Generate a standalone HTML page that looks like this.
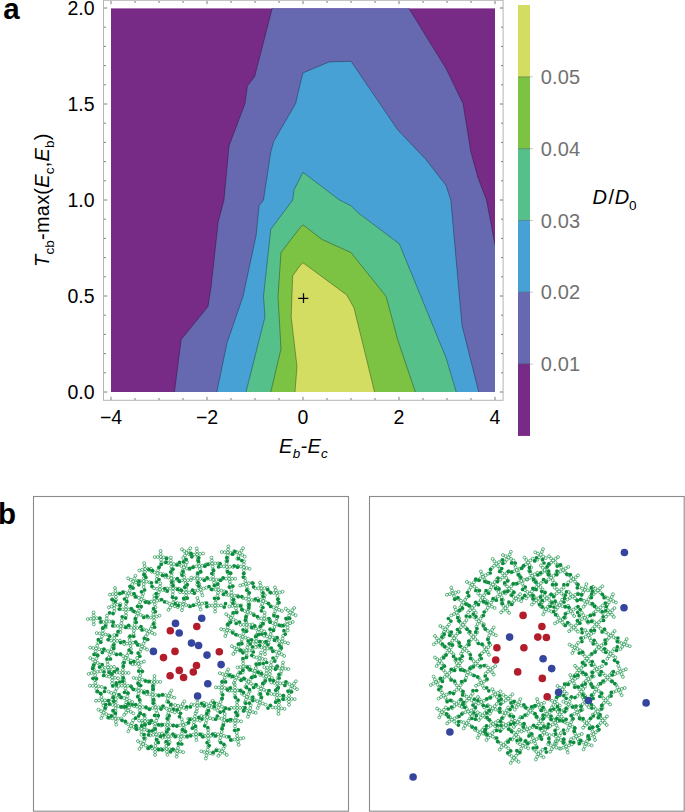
<!DOCTYPE html><html><head><meta charset="utf-8"><title>Figure</title><style>html,body{margin:0;padding:0;background:#fff}body{width:685px;height:812px;overflow:hidden;position:relative;font-family:"Liberation Sans",sans-serif}svg{position:absolute;left:0;top:0}text{font-family:"Liberation Sans",sans-serif}</style></head><body>
<svg width="685" height="812" viewBox="0 0 685 812">
<defs><clipPath id="pc"><rect x="111" y="8.2" width="384" height="383.8"/></clipPath></defs>
<g clip-path="url(#pc)">
<rect x="111" y="8.2" width="384" height="383.8" fill="#782a87"/>
<polygon points="272.8,6.0 407.4,6.0 446.0,68.6 463.0,103.6 470.8,151.8 478.0,178.0 486.5,200.0 495.0,245.3 497.0,246.0 497.0,394.0 174.2,394.0 181.2,339.6 208.0,306.6 211.0,287.6 218.2,221.9 224.0,200.0 229.0,146.0 245.0,103.6 246.0,96.4 247.4,86.0 254.7,76.5" fill="#6669b0" stroke="rgba(0,0,0,0.45)" stroke-width="0.7" stroke-linejoin="round"/>
<polygon points="216.4,394.0 227.0,343.0 243.0,296.4 256.2,235.0 259.1,205.8 263.5,200.0 270.8,151.8 273.7,141.6 295.6,103.6 300.0,84.7 302.9,73.0 329.2,61.9 351.0,61.3 397.8,130.0 425.5,159.0 446.0,185.4 450.8,200.0 462.0,325.5 479.2,394.0" fill="#47a1d5" stroke="rgba(0,0,0,0.45)" stroke-width="0.7" stroke-linejoin="round"/>
<polygon points="245.5,394.0 265.0,316.8 263.5,296.4 270.8,229.2 292.7,200.0 294.0,190.0 300.0,178.0 303.0,172.3 339.4,200.0 351.0,205.8 358.4,213.1 399.3,243.8 446.0,357.7 456.8,394.0" fill="#56c08b" stroke="rgba(0,0,0,0.45)" stroke-width="0.7" stroke-linejoin="round"/>
<polygon points="270.3,394.0 281.0,349.0 278.0,296.4 281.0,252.6 300.0,227.7 303.0,224.8 321.9,239.4 351.0,252.6 386.1,296.4 397.8,340.1 416.0,394.0" fill="#7cc243" stroke="rgba(0,0,0,0.45)" stroke-width="0.7" stroke-linejoin="round"/>
<polygon points="294.9,394.0 297.0,366.4 291.2,316.8 292.7,275.9 300.0,265.7 303.0,262.8 346.7,294.9 354.0,308.0 375.0,394.0" fill="#d3dd62" stroke="rgba(0,0,0,0.45)" stroke-width="0.7" stroke-linejoin="round"/>
</g>
<path d="M298.2,298.4H308.3M303.5,293.2V303" stroke="#000" stroke-width="1.25"/>
<rect x="103.5" y="0.3" width="399.6" height="400" fill="none" stroke="#b5b5b5" stroke-width="1"/>
<path d="M111.0,400v-3.2M111.0,1v3.2M135.0,400v-2.0M135.0,1v2.0M159.0,400v-2.0M159.0,1v2.0M183.0,400v-2.0M183.0,1v2.0M207.0,400v-3.2M207.0,1v3.2M231.0,400v-2.0M231.0,1v2.0M255.0,400v-2.0M255.0,1v2.0M279.0,400v-2.0M279.0,1v2.0M303.0,400v-3.2M303.0,1v3.2M327.0,400v-2.0M327.0,1v2.0M351.0,400v-2.0M351.0,1v2.0M375.0,400v-2.0M375.0,1v2.0M399.0,400v-3.2M399.0,1v3.2M423.0,400v-2.0M423.0,1v2.0M447.0,400v-2.0M447.0,1v2.0M471.0,400v-2.0M471.0,1v2.0M495.0,400v-3.2M495.0,1v3.2M104,392.0h3.2M503,392.0h-3.2M104,372.8h2.0M503,372.8h-2.0M104,353.6h2.0M503,353.6h-2.0M104,334.4h2.0M503,334.4h-2.0M104,315.2h2.0M503,315.2h-2.0M104,296.0h3.2M503,296.0h-3.2M104,276.8h2.0M503,276.8h-2.0M104,257.6h2.0M503,257.6h-2.0M104,238.4h2.0M503,238.4h-2.0M104,219.2h2.0M503,219.2h-2.0M104,200.0h3.2M503,200.0h-3.2M104,180.8h2.0M503,180.8h-2.0M104,161.6h2.0M503,161.6h-2.0M104,142.4h2.0M503,142.4h-2.0M104,123.2h2.0M503,123.2h-2.0M104,104.0h3.2M503,104.0h-3.2M104,84.8h2.0M503,84.8h-2.0M104,65.6h2.0M503,65.6h-2.0M104,46.4h2.0M503,46.4h-2.0M104,27.2h2.0M503,27.2h-2.0M104,8.0h3.2M503,8.0h-3.2" stroke="#707070" stroke-width="0.9" fill="none"/>
<text x="111.0" y="423.9" text-anchor="middle" font-size="19.5px" fill="#000">−4</text>
<text x="207.0" y="423.9" text-anchor="middle" font-size="19.5px" fill="#000">−2</text>
<text x="303.0" y="423.9" text-anchor="middle" font-size="19.5px" fill="#000">0</text>
<text x="399.0" y="423.9" text-anchor="middle" font-size="19.5px" fill="#000">2</text>
<text x="495.0" y="423.9" text-anchor="middle" font-size="19.5px" fill="#000">4</text>
<text x="94.5" y="399.0" text-anchor="end" font-size="19.5px" fill="#000">0.0</text>
<text x="94.5" y="303.0" text-anchor="end" font-size="19.5px" fill="#000">0.5</text>
<text x="94.5" y="207.0" text-anchor="end" font-size="19.5px" fill="#000">1.0</text>
<text x="94.5" y="111.0" text-anchor="end" font-size="19.5px" fill="#000">1.5</text>
<text x="94.5" y="15.0" text-anchor="end" font-size="19.5px" fill="#000">2.0</text>
<rect x="518" y="5.00" width="12" height="71.82" fill="#d3dd62"/>
<rect x="518" y="76.82" width="12" height="71.82" fill="#7cc243"/>
<rect x="518" y="148.64" width="12" height="71.82" fill="#56c08b"/>
<rect x="518" y="220.46" width="12" height="71.82" fill="#47a1d5"/>
<rect x="518" y="292.28" width="12" height="71.82" fill="#6669b0"/>
<rect x="518" y="364.10" width="12" height="71.82" fill="#782a87"/>
<path d="M518,76.82h12" stroke="rgba(0,0,0,0.35)" stroke-width="0.8"/>
<path d="M530,76.82h3" stroke="#bbb" stroke-width="0.8"/>
<path d="M518,148.64h12" stroke="rgba(0,0,0,0.35)" stroke-width="0.8"/>
<path d="M530,148.64h3" stroke="#bbb" stroke-width="0.8"/>
<path d="M518,220.46h12" stroke="rgba(0,0,0,0.35)" stroke-width="0.8"/>
<path d="M530,220.46h3" stroke="#bbb" stroke-width="0.8"/>
<path d="M518,292.28h12" stroke="rgba(0,0,0,0.35)" stroke-width="0.8"/>
<path d="M530,292.28h3" stroke="#bbb" stroke-width="0.8"/>
<path d="M518,364.10h12" stroke="rgba(0,0,0,0.35)" stroke-width="0.8"/>
<path d="M530,364.10h3" stroke="#bbb" stroke-width="0.8"/>
<text x="540.8" y="83.9" font-size="20px" fill="#717171" letter-spacing="0.15">0.05</text>
<text x="540.8" y="155.7" font-size="20px" fill="#717171" letter-spacing="0.15">0.04</text>
<text x="540.8" y="227.6" font-size="20px" fill="#717171" letter-spacing="0.15">0.03</text>
<text x="540.8" y="299.4" font-size="20px" fill="#717171" letter-spacing="0.15">0.02</text>
<text x="540.8" y="371.2" font-size="20px" fill="#717171" letter-spacing="0.15">0.01</text>
<text x="592.5" y="204" font-size="20px" fill="#000" font-style="italic">D<tspan dx="1.5" font-style="normal">/</tspan><tspan dx="0.8">D</tspan><tspan font-style="normal" font-size="13.5px" dx="-0.2" dy="6">0</tspan></text>
<text x="279" y="452.6" font-size="20px" fill="#000" font-style="italic">E<tspan font-size="13.5px" dy="5" dx="0.3">b</tspan><tspan dy="-5" dx="0.3">-</tspan><tspan dx="0.3">E</tspan><tspan font-size="13.5px" dy="5" dx="0.3">c</tspan></text>
<text transform="translate(48.6,267) rotate(-90)" font-size="20px" letter-spacing="0.2" fill="#000"><tspan font-style="italic">T</tspan><tspan font-size="13.5px" dy="5">cb</tspan><tspan dy="-5">-max(</tspan><tspan font-style="italic">E</tspan><tspan font-size="13.5px" dy="5">c</tspan><tspan dy="-5">,</tspan><tspan font-style="italic">E</tspan><tspan font-size="13.5px" dy="5">b</tspan><tspan dy="-5">)</tspan></text>
<text x="3.3" y="18.5" font-size="29.5px" font-weight="bold" fill="#000">a</text>
<text x="-2" y="524" font-size="29.5px" font-weight="bold" fill="#000">b</text>
<rect x="33.5" y="496.5" width="315" height="314.7" fill="none" stroke="#8a8a8a" stroke-width="1.1"/>
<rect x="369.5" y="496.5" width="314.7" height="314.7" fill="none" stroke="#8a8a8a" stroke-width="1.1"/>
<g fill="none" stroke="#0e8d3f" stroke-width="0.65"><circle cx="93.7" cy="618.4" r="1.45"/><circle cx="96.7" cy="618.2" r="1.45"/><circle cx="99.7" cy="618.0" r="1.45"/><circle cx="93.7" cy="621.4" r="1.45"/><circle cx="93.8" cy="624.4" r="1.45"/><circle cx="90.7" cy="618.7" r="1.45"/><circle cx="87.7" cy="619.1" r="1.45"/><circle cx="93.7" cy="615.4" r="1.45"/><circle cx="93.6" cy="612.4" r="1.45"/><circle cx="115.8" cy="593.9" r="1.45"/><circle cx="118.8" cy="593.5" r="1.45"/><circle cx="121.8" cy="593.1" r="1.45"/><circle cx="115.9" cy="596.9" r="1.45"/><circle cx="116.0" cy="599.9" r="1.45"/><circle cx="112.8" cy="594.2" r="1.45"/><circle cx="109.9" cy="594.6" r="1.45"/><circle cx="115.4" cy="590.9" r="1.45"/><circle cx="115.0" cy="588.0" r="1.45"/><circle cx="114.4" cy="605.3" r="1.45"/><circle cx="117.3" cy="604.7" r="1.45"/><circle cx="120.3" cy="604.0" r="1.45"/><circle cx="114.3" cy="608.3" r="1.45"/><circle cx="114.3" cy="611.3" r="1.45"/><circle cx="111.6" cy="606.4" r="1.45"/><circle cx="108.8" cy="607.4" r="1.45"/><circle cx="113.6" cy="602.4" r="1.45"/><circle cx="112.7" cy="599.6" r="1.45"/><circle cx="106.4" cy="621.6" r="1.45"/><circle cx="109.4" cy="621.5" r="1.45"/><circle cx="112.4" cy="621.4" r="1.45"/><circle cx="106.1" cy="624.5" r="1.45"/><circle cx="105.9" cy="627.5" r="1.45"/><circle cx="103.4" cy="621.9" r="1.45"/><circle cx="100.4" cy="622.3" r="1.45"/><circle cx="106.7" cy="618.6" r="1.45"/><circle cx="107.0" cy="615.6" r="1.45"/><circle cx="102.7" cy="633.7" r="1.45"/><circle cx="105.6" cy="634.4" r="1.45"/><circle cx="108.5" cy="635.1" r="1.45"/><circle cx="101.9" cy="636.6" r="1.45"/><circle cx="101.0" cy="639.5" r="1.45"/><circle cx="99.7" cy="633.4" r="1.45"/><circle cx="96.7" cy="633.1" r="1.45"/><circle cx="102.9" cy="630.7" r="1.45"/><circle cx="103.1" cy="627.7" r="1.45"/><circle cx="96.1" cy="648.4" r="1.45"/><circle cx="99.1" cy="649.2" r="1.45"/><circle cx="102.0" cy="649.9" r="1.45"/><circle cx="95.6" cy="651.4" r="1.45"/><circle cx="95.0" cy="654.3" r="1.45"/><circle cx="93.2" cy="648.0" r="1.45"/><circle cx="90.2" cy="647.6" r="1.45"/><circle cx="97.2" cy="645.6" r="1.45"/><circle cx="98.3" cy="642.8" r="1.45"/><circle cx="95.2" cy="661.3" r="1.45"/><circle cx="97.7" cy="663.0" r="1.45"/><circle cx="100.2" cy="664.7" r="1.45"/><circle cx="94.2" cy="664.1" r="1.45"/><circle cx="93.1" cy="666.9" r="1.45"/><circle cx="92.8" cy="659.6" r="1.45"/><circle cx="90.3" cy="658.0" r="1.45"/><circle cx="96.5" cy="658.6" r="1.45"/><circle cx="97.7" cy="655.8" r="1.45"/><circle cx="94.5" cy="672.3" r="1.45"/><circle cx="97.5" cy="671.8" r="1.45"/><circle cx="100.4" cy="671.3" r="1.45"/><circle cx="95.2" cy="675.2" r="1.45"/><circle cx="95.9" cy="678.1" r="1.45"/><circle cx="91.6" cy="673.1" r="1.45"/><circle cx="88.7" cy="673.9" r="1.45"/><circle cx="93.9" cy="669.3" r="1.45"/><circle cx="93.3" cy="666.4" r="1.45"/><circle cx="95.8" cy="685.8" r="1.45"/><circle cx="98.7" cy="686.3" r="1.45"/><circle cx="101.7" cy="686.9" r="1.45"/><circle cx="96.3" cy="688.7" r="1.45"/><circle cx="96.8" cy="691.7" r="1.45"/><circle cx="92.8" cy="685.8" r="1.45"/><circle cx="89.8" cy="685.7" r="1.45"/><circle cx="95.3" cy="682.8" r="1.45"/><circle cx="94.9" cy="679.8" r="1.45"/><circle cx="102.0" cy="699.9" r="1.45"/><circle cx="105.0" cy="700.3" r="1.45"/><circle cx="107.9" cy="700.7" r="1.45"/><circle cx="102.8" cy="702.8" r="1.45"/><circle cx="103.5" cy="705.7" r="1.45"/><circle cx="99.0" cy="700.4" r="1.45"/><circle cx="96.0" cy="700.8" r="1.45"/><circle cx="101.5" cy="697.0" r="1.45"/><circle cx="101.1" cy="694.0" r="1.45"/><circle cx="103.7" cy="712.6" r="1.45"/><circle cx="106.4" cy="714.1" r="1.45"/><circle cx="109.0" cy="715.6" r="1.45"/><circle cx="102.5" cy="715.4" r="1.45"/><circle cx="101.3" cy="718.2" r="1.45"/><circle cx="101.1" cy="711.2" r="1.45"/><circle cx="98.5" cy="709.7" r="1.45"/><circle cx="104.7" cy="709.8" r="1.45"/><circle cx="105.8" cy="707.0" r="1.45"/><circle cx="133.3" cy="581.3" r="1.45"/><circle cx="136.0" cy="582.5" r="1.45"/><circle cx="138.8" cy="583.6" r="1.45"/><circle cx="132.4" cy="584.2" r="1.45"/><circle cx="131.5" cy="587.0" r="1.45"/><circle cx="130.7" cy="579.8" r="1.45"/><circle cx="128.1" cy="578.3" r="1.45"/><circle cx="134.4" cy="578.5" r="1.45"/><circle cx="135.5" cy="575.8" r="1.45"/><circle cx="128.6" cy="593.3" r="1.45"/><circle cx="131.4" cy="594.2" r="1.45"/><circle cx="134.3" cy="595.1" r="1.45"/><circle cx="127.4" cy="596.1" r="1.45"/><circle cx="126.3" cy="598.8" r="1.45"/><circle cx="125.6" cy="592.9" r="1.45"/><circle cx="122.6" cy="592.6" r="1.45"/><circle cx="129.7" cy="590.5" r="1.45"/><circle cx="130.8" cy="587.7" r="1.45"/><circle cx="125.8" cy="609.5" r="1.45"/><circle cx="128.8" cy="609.4" r="1.45"/><circle cx="131.8" cy="609.3" r="1.45"/><circle cx="125.9" cy="612.5" r="1.45"/><circle cx="126.0" cy="615.5" r="1.45"/><circle cx="122.8" cy="609.3" r="1.45"/><circle cx="119.8" cy="609.2" r="1.45"/><circle cx="125.9" cy="606.5" r="1.45"/><circle cx="126.0" cy="603.5" r="1.45"/><circle cx="120.7" cy="626.2" r="1.45"/><circle cx="123.7" cy="626.4" r="1.45"/><circle cx="126.7" cy="626.6" r="1.45"/><circle cx="120.4" cy="629.2" r="1.45"/><circle cx="120.2" cy="632.2" r="1.45"/><circle cx="117.7" cy="626.0" r="1.45"/><circle cx="114.7" cy="625.9" r="1.45"/><circle cx="121.3" cy="623.2" r="1.45"/><circle cx="121.9" cy="620.3" r="1.45"/><circle cx="114.1" cy="641.1" r="1.45"/><circle cx="117.1" cy="640.9" r="1.45"/><circle cx="120.1" cy="640.6" r="1.45"/><circle cx="114.0" cy="644.1" r="1.45"/><circle cx="113.9" cy="647.1" r="1.45"/><circle cx="111.1" cy="640.5" r="1.45"/><circle cx="108.2" cy="639.9" r="1.45"/><circle cx="114.2" cy="638.1" r="1.45"/><circle cx="114.3" cy="635.1" r="1.45"/><circle cx="110.8" cy="651.9" r="1.45"/><circle cx="113.6" cy="653.1" r="1.45"/><circle cx="116.3" cy="654.2" r="1.45"/><circle cx="109.7" cy="654.7" r="1.45"/><circle cx="108.6" cy="657.5" r="1.45"/><circle cx="107.9" cy="651.1" r="1.45"/><circle cx="105.0" cy="650.4" r="1.45"/><circle cx="111.6" cy="649.0" r="1.45"/><circle cx="112.4" cy="646.1" r="1.45"/><circle cx="108.1" cy="667.4" r="1.45"/><circle cx="111.1" cy="667.1" r="1.45"/><circle cx="114.1" cy="666.9" r="1.45"/><circle cx="108.9" cy="670.2" r="1.45"/><circle cx="109.8" cy="673.1" r="1.45"/><circle cx="105.1" cy="667.8" r="1.45"/><circle cx="102.2" cy="668.2" r="1.45"/><circle cx="107.8" cy="664.4" r="1.45"/><circle cx="107.5" cy="661.4" r="1.45"/><circle cx="112.2" cy="677.4" r="1.45"/><circle cx="115.1" cy="677.8" r="1.45"/><circle cx="118.1" cy="678.3" r="1.45"/><circle cx="112.1" cy="680.4" r="1.45"/><circle cx="112.1" cy="683.4" r="1.45"/><circle cx="109.2" cy="676.7" r="1.45"/><circle cx="106.3" cy="676.0" r="1.45"/><circle cx="111.7" cy="674.4" r="1.45"/><circle cx="111.2" cy="671.4" r="1.45"/><circle cx="114.0" cy="694.0" r="1.45"/><circle cx="116.7" cy="695.3" r="1.45"/><circle cx="119.5" cy="696.6" r="1.45"/><circle cx="112.9" cy="696.8" r="1.45"/><circle cx="111.8" cy="699.6" r="1.45"/><circle cx="111.3" cy="692.9" r="1.45"/><circle cx="108.5" cy="691.7" r="1.45"/><circle cx="115.3" cy="691.3" r="1.45"/><circle cx="116.6" cy="688.6" r="1.45"/><circle cx="115.5" cy="705.2" r="1.45"/><circle cx="118.4" cy="706.1" r="1.45"/><circle cx="121.3" cy="706.9" r="1.45"/><circle cx="115.6" cy="708.2" r="1.45"/><circle cx="115.6" cy="711.2" r="1.45"/><circle cx="112.6" cy="704.8" r="1.45"/><circle cx="109.6" cy="704.4" r="1.45"/><circle cx="115.7" cy="702.2" r="1.45"/><circle cx="115.9" cy="699.2" r="1.45"/><circle cx="115.4" cy="718.7" r="1.45"/><circle cx="118.4" cy="718.6" r="1.45"/><circle cx="121.4" cy="718.4" r="1.45"/><circle cx="115.8" cy="721.7" r="1.45"/><circle cx="116.2" cy="724.7" r="1.45"/><circle cx="112.4" cy="718.3" r="1.45"/><circle cx="109.5" cy="718.0" r="1.45"/><circle cx="114.9" cy="715.8" r="1.45"/><circle cx="114.4" cy="712.8" r="1.45"/><circle cx="145.1" cy="569.0" r="1.45"/><circle cx="148.0" cy="568.9" r="1.45"/><circle cx="151.0" cy="568.7" r="1.45"/><circle cx="145.0" cy="572.0" r="1.45"/><circle cx="144.9" cy="575.0" r="1.45"/><circle cx="142.2" cy="569.8" r="1.45"/><circle cx="139.3" cy="570.6" r="1.45"/><circle cx="144.6" cy="566.1" r="1.45"/><circle cx="144.2" cy="563.1" r="1.45"/><circle cx="143.6" cy="581.1" r="1.45"/><circle cx="146.6" cy="581.7" r="1.45"/><circle cx="149.5" cy="582.3" r="1.45"/><circle cx="143.7" cy="584.1" r="1.45"/><circle cx="143.7" cy="587.1" r="1.45"/><circle cx="140.6" cy="581.0" r="1.45"/><circle cx="137.6" cy="580.9" r="1.45"/><circle cx="144.0" cy="578.2" r="1.45"/><circle cx="144.5" cy="575.2" r="1.45"/><circle cx="141.4" cy="599.3" r="1.45"/><circle cx="144.2" cy="600.6" r="1.45"/><circle cx="146.9" cy="601.8" r="1.45"/><circle cx="140.2" cy="602.0" r="1.45"/><circle cx="138.9" cy="604.8" r="1.45"/><circle cx="138.8" cy="597.9" r="1.45"/><circle cx="136.2" cy="596.4" r="1.45"/><circle cx="142.3" cy="596.4" r="1.45"/><circle cx="143.2" cy="593.6" r="1.45"/><circle cx="137.8" cy="613.4" r="1.45"/><circle cx="140.5" cy="614.8" r="1.45"/><circle cx="143.2" cy="616.1" r="1.45"/><circle cx="136.6" cy="616.2" r="1.45"/><circle cx="135.5" cy="619.0" r="1.45"/><circle cx="135.1" cy="612.1" r="1.45"/><circle cx="132.4" cy="610.7" r="1.45"/><circle cx="138.9" cy="610.7" r="1.45"/><circle cx="140.1" cy="607.9" r="1.45"/><circle cx="134.3" cy="627.9" r="1.45"/><circle cx="137.3" cy="628.0" r="1.45"/><circle cx="140.3" cy="628.1" r="1.45"/><circle cx="133.9" cy="630.9" r="1.45"/><circle cx="133.6" cy="633.9" r="1.45"/><circle cx="131.3" cy="627.7" r="1.45"/><circle cx="128.3" cy="627.5" r="1.45"/><circle cx="134.6" cy="624.9" r="1.45"/><circle cx="134.9" cy="621.9" r="1.45"/><circle cx="130.0" cy="643.1" r="1.45"/><circle cx="133.0" cy="642.7" r="1.45"/><circle cx="136.0" cy="642.4" r="1.45"/><circle cx="130.5" cy="646.0" r="1.45"/><circle cx="130.9" cy="649.0" r="1.45"/><circle cx="127.1" cy="643.6" r="1.45"/><circle cx="124.1" cy="644.1" r="1.45"/><circle cx="129.7" cy="640.1" r="1.45"/><circle cx="129.3" cy="637.1" r="1.45"/><circle cx="125.5" cy="657.9" r="1.45"/><circle cx="128.2" cy="659.2" r="1.45"/><circle cx="130.9" cy="660.5" r="1.45"/><circle cx="124.2" cy="660.6" r="1.45"/><circle cx="122.9" cy="663.3" r="1.45"/><circle cx="123.1" cy="656.1" r="1.45"/><circle cx="120.7" cy="654.4" r="1.45"/><circle cx="127.1" cy="655.4" r="1.45"/><circle cx="128.6" cy="652.8" r="1.45"/><circle cx="122.6" cy="672.9" r="1.45"/><circle cx="125.6" cy="672.9" r="1.45"/><circle cx="128.6" cy="672.9" r="1.45"/><circle cx="122.5" cy="675.9" r="1.45"/><circle cx="122.4" cy="678.9" r="1.45"/><circle cx="119.6" cy="672.7" r="1.45"/><circle cx="116.6" cy="672.5" r="1.45"/><circle cx="122.9" cy="669.9" r="1.45"/><circle cx="123.3" cy="666.9" r="1.45"/><circle cx="124.8" cy="685.5" r="1.45"/><circle cx="127.8" cy="685.7" r="1.45"/><circle cx="130.8" cy="685.9" r="1.45"/><circle cx="125.4" cy="688.5" r="1.45"/><circle cx="126.1" cy="691.4" r="1.45"/><circle cx="121.8" cy="685.7" r="1.45"/><circle cx="118.8" cy="685.9" r="1.45"/><circle cx="124.4" cy="682.6" r="1.45"/><circle cx="124.0" cy="679.6" r="1.45"/><circle cx="126.9" cy="699.3" r="1.45"/><circle cx="129.5" cy="700.6" r="1.45"/><circle cx="132.2" cy="702.0" r="1.45"/><circle cx="126.1" cy="702.2" r="1.45"/><circle cx="125.4" cy="705.1" r="1.45"/><circle cx="124.1" cy="698.1" r="1.45"/><circle cx="121.3" cy="697.0" r="1.45"/><circle cx="127.4" cy="696.3" r="1.45"/><circle cx="127.9" cy="693.3" r="1.45"/><circle cx="128.1" cy="710.4" r="1.45"/><circle cx="130.7" cy="711.8" r="1.45"/><circle cx="133.3" cy="713.3" r="1.45"/><circle cx="126.1" cy="712.6" r="1.45"/><circle cx="124.1" cy="714.9" r="1.45"/><circle cx="125.7" cy="708.6" r="1.45"/><circle cx="123.2" cy="706.9" r="1.45"/><circle cx="129.1" cy="707.5" r="1.45"/><circle cx="130.2" cy="704.7" r="1.45"/><circle cx="130.9" cy="725.9" r="1.45"/><circle cx="133.7" cy="727.0" r="1.45"/><circle cx="136.5" cy="728.2" r="1.45"/><circle cx="129.6" cy="728.6" r="1.45"/><circle cx="128.3" cy="731.3" r="1.45"/><circle cx="128.3" cy="724.4" r="1.45"/><circle cx="125.7" cy="722.9" r="1.45"/><circle cx="132.0" cy="723.1" r="1.45"/><circle cx="133.1" cy="720.3" r="1.45"/><circle cx="160.7" cy="556.9" r="1.45"/><circle cx="163.6" cy="557.3" r="1.45"/><circle cx="166.6" cy="557.8" r="1.45"/><circle cx="161.0" cy="559.8" r="1.45"/><circle cx="161.3" cy="562.8" r="1.45"/><circle cx="157.7" cy="557.0" r="1.45"/><circle cx="154.7" cy="557.2" r="1.45"/><circle cx="160.6" cy="553.9" r="1.45"/><circle cx="160.6" cy="550.9" r="1.45"/><circle cx="157.5" cy="573.2" r="1.45"/><circle cx="160.5" cy="573.7" r="1.45"/><circle cx="163.4" cy="574.1" r="1.45"/><circle cx="157.1" cy="576.2" r="1.45"/><circle cx="156.8" cy="579.2" r="1.45"/><circle cx="154.6" cy="572.4" r="1.45"/><circle cx="151.7" cy="571.6" r="1.45"/><circle cx="158.1" cy="570.3" r="1.45"/><circle cx="158.8" cy="567.4" r="1.45"/><circle cx="159.9" cy="589.4" r="1.45"/><circle cx="162.8" cy="590.0" r="1.45"/><circle cx="165.8" cy="590.7" r="1.45"/><circle cx="158.9" cy="592.2" r="1.45"/><circle cx="157.9" cy="595.1" r="1.45"/><circle cx="157.0" cy="588.8" r="1.45"/><circle cx="154.0" cy="588.3" r="1.45"/><circle cx="160.1" cy="586.4" r="1.45"/><circle cx="160.3" cy="583.4" r="1.45"/><circle cx="154.1" cy="601.5" r="1.45"/><circle cx="157.1" cy="600.8" r="1.45"/><circle cx="160.0" cy="600.1" r="1.45"/><circle cx="154.8" cy="604.4" r="1.45"/><circle cx="155.4" cy="607.4" r="1.45"/><circle cx="151.1" cy="601.6" r="1.45"/><circle cx="148.2" cy="601.8" r="1.45"/><circle cx="154.2" cy="598.5" r="1.45"/><circle cx="154.3" cy="595.5" r="1.45"/><circle cx="153.8" cy="617.4" r="1.45"/><circle cx="156.7" cy="616.5" r="1.45"/><circle cx="159.5" cy="615.6" r="1.45"/><circle cx="154.1" cy="620.4" r="1.45"/><circle cx="154.4" cy="623.4" r="1.45"/><circle cx="150.8" cy="617.5" r="1.45"/><circle cx="147.8" cy="617.5" r="1.45"/><circle cx="153.4" cy="614.5" r="1.45"/><circle cx="153.0" cy="611.5" r="1.45"/><circle cx="149.3" cy="631.5" r="1.45"/><circle cx="152.0" cy="632.8" r="1.45"/><circle cx="154.7" cy="634.1" r="1.45"/><circle cx="147.5" cy="633.9" r="1.45"/><circle cx="145.7" cy="636.4" r="1.45"/><circle cx="146.5" cy="630.4" r="1.45"/><circle cx="143.7" cy="629.3" r="1.45"/><circle cx="150.8" cy="628.9" r="1.45"/><circle cx="152.2" cy="626.3" r="1.45"/><circle cx="142.1" cy="646.3" r="1.45"/><circle cx="144.6" cy="647.9" r="1.45"/><circle cx="147.1" cy="649.6" r="1.45"/><circle cx="141.0" cy="649.1" r="1.45"/><circle cx="140.0" cy="651.9" r="1.45"/><circle cx="139.4" cy="644.9" r="1.45"/><circle cx="136.7" cy="643.5" r="1.45"/><circle cx="143.5" cy="643.6" r="1.45"/><circle cx="144.8" cy="641.0" r="1.45"/><circle cx="138.5" cy="663.7" r="1.45"/><circle cx="141.2" cy="662.6" r="1.45"/><circle cx="144.0" cy="661.5" r="1.45"/><circle cx="139.4" cy="666.6" r="1.45"/><circle cx="140.3" cy="669.4" r="1.45"/><circle cx="135.5" cy="664.0" r="1.45"/><circle cx="132.5" cy="664.2" r="1.45"/><circle cx="137.8" cy="660.8" r="1.45"/><circle cx="137.1" cy="657.9" r="1.45"/><circle cx="139.5" cy="678.8" r="1.45"/><circle cx="142.4" cy="679.7" r="1.45"/><circle cx="145.3" cy="680.5" r="1.45"/><circle cx="139.1" cy="681.8" r="1.45"/><circle cx="138.8" cy="684.8" r="1.45"/><circle cx="136.5" cy="678.4" r="1.45"/><circle cx="133.6" cy="677.9" r="1.45"/><circle cx="140.1" cy="675.9" r="1.45"/><circle cx="140.7" cy="672.9" r="1.45"/><circle cx="138.4" cy="690.7" r="1.45"/><circle cx="141.4" cy="690.9" r="1.45"/><circle cx="144.4" cy="691.1" r="1.45"/><circle cx="138.5" cy="693.7" r="1.45"/><circle cx="138.7" cy="696.7" r="1.45"/><circle cx="135.5" cy="689.8" r="1.45"/><circle cx="132.7" cy="689.0" r="1.45"/><circle cx="138.8" cy="687.7" r="1.45"/><circle cx="139.2" cy="684.7" r="1.45"/><circle cx="139.8" cy="707.3" r="1.45"/><circle cx="142.8" cy="707.1" r="1.45"/><circle cx="145.8" cy="706.9" r="1.45"/><circle cx="139.8" cy="710.3" r="1.45"/><circle cx="139.8" cy="713.3" r="1.45"/><circle cx="136.9" cy="706.7" r="1.45"/><circle cx="134.0" cy="706.0" r="1.45"/><circle cx="139.9" cy="704.3" r="1.45"/><circle cx="140.0" cy="701.3" r="1.45"/><circle cx="145.1" cy="721.2" r="1.45"/><circle cx="148.1" cy="721.2" r="1.45"/><circle cx="151.1" cy="721.3" r="1.45"/><circle cx="144.8" cy="724.1" r="1.45"/><circle cx="144.4" cy="727.1" r="1.45"/><circle cx="142.1" cy="720.9" r="1.45"/><circle cx="139.1" cy="720.6" r="1.45"/><circle cx="144.9" cy="718.2" r="1.45"/><circle cx="144.7" cy="715.2" r="1.45"/><circle cx="141.4" cy="728.8" r="1.45"/><circle cx="144.3" cy="729.5" r="1.45"/><circle cx="147.2" cy="730.2" r="1.45"/><circle cx="141.4" cy="731.8" r="1.45"/><circle cx="141.4" cy="734.8" r="1.45"/><circle cx="138.4" cy="728.5" r="1.45"/><circle cx="135.4" cy="728.1" r="1.45"/><circle cx="141.9" cy="725.9" r="1.45"/><circle cx="142.5" cy="722.9" r="1.45"/><circle cx="143.1" cy="744.1" r="1.45"/><circle cx="145.7" cy="745.5" r="1.45"/><circle cx="148.4" cy="746.9" r="1.45"/><circle cx="141.3" cy="746.5" r="1.45"/><circle cx="139.5" cy="748.9" r="1.45"/><circle cx="140.5" cy="742.6" r="1.45"/><circle cx="137.9" cy="741.1" r="1.45"/><circle cx="144.2" cy="741.3" r="1.45"/><circle cx="145.4" cy="738.5" r="1.45"/><circle cx="171.0" cy="563.6" r="1.45"/><circle cx="173.9" cy="564.0" r="1.45"/><circle cx="176.9" cy="564.3" r="1.45"/><circle cx="171.3" cy="566.6" r="1.45"/><circle cx="171.6" cy="569.6" r="1.45"/><circle cx="168.0" cy="563.0" r="1.45"/><circle cx="165.1" cy="562.4" r="1.45"/><circle cx="170.9" cy="560.6" r="1.45"/><circle cx="170.8" cy="557.6" r="1.45"/><circle cx="171.3" cy="578.4" r="1.45"/><circle cx="174.2" cy="579.0" r="1.45"/><circle cx="177.1" cy="579.7" r="1.45"/><circle cx="171.3" cy="581.4" r="1.45"/><circle cx="171.4" cy="584.4" r="1.45"/><circle cx="168.4" cy="577.7" r="1.45"/><circle cx="165.4" cy="577.0" r="1.45"/><circle cx="171.5" cy="575.4" r="1.45"/><circle cx="171.8" cy="572.4" r="1.45"/><circle cx="173.1" cy="588.5" r="1.45"/><circle cx="176.1" cy="588.6" r="1.45"/><circle cx="179.1" cy="588.7" r="1.45"/><circle cx="172.9" cy="591.5" r="1.45"/><circle cx="172.7" cy="594.5" r="1.45"/><circle cx="170.1" cy="588.5" r="1.45"/><circle cx="167.1" cy="588.5" r="1.45"/><circle cx="173.1" cy="585.5" r="1.45"/><circle cx="173.1" cy="582.5" r="1.45"/><circle cx="172.0" cy="605.1" r="1.45"/><circle cx="174.8" cy="606.2" r="1.45"/><circle cx="177.7" cy="607.2" r="1.45"/><circle cx="170.2" cy="607.5" r="1.45"/><circle cx="168.4" cy="609.9" r="1.45"/><circle cx="169.4" cy="603.7" r="1.45"/><circle cx="166.8" cy="602.2" r="1.45"/><circle cx="173.1" cy="602.4" r="1.45"/><circle cx="174.2" cy="599.6" r="1.45"/><circle cx="154.3" cy="682.0" r="1.45"/><circle cx="157.3" cy="681.9" r="1.45"/><circle cx="160.3" cy="681.8" r="1.45"/><circle cx="153.8" cy="685.0" r="1.45"/><circle cx="153.3" cy="687.9" r="1.45"/><circle cx="151.3" cy="681.9" r="1.45"/><circle cx="148.3" cy="681.7" r="1.45"/><circle cx="154.4" cy="679.0" r="1.45"/><circle cx="154.5" cy="676.0" r="1.45"/><circle cx="152.6" cy="694.7" r="1.45"/><circle cx="155.6" cy="695.0" r="1.45"/><circle cx="158.6" cy="695.2" r="1.45"/><circle cx="152.6" cy="697.7" r="1.45"/><circle cx="152.6" cy="700.7" r="1.45"/><circle cx="149.6" cy="694.4" r="1.45"/><circle cx="146.6" cy="694.1" r="1.45"/><circle cx="152.7" cy="691.7" r="1.45"/><circle cx="152.9" cy="688.7" r="1.45"/><circle cx="155.5" cy="707.4" r="1.45"/><circle cx="158.5" cy="707.3" r="1.45"/><circle cx="161.5" cy="707.2" r="1.45"/><circle cx="156.3" cy="710.3" r="1.45"/><circle cx="157.1" cy="713.2" r="1.45"/><circle cx="152.6" cy="708.0" r="1.45"/><circle cx="149.6" cy="708.6" r="1.45"/><circle cx="154.7" cy="704.5" r="1.45"/><circle cx="153.9" cy="701.6" r="1.45"/><circle cx="155.1" cy="723.6" r="1.45"/><circle cx="158.0" cy="724.6" r="1.45"/><circle cx="160.8" cy="725.6" r="1.45"/><circle cx="154.6" cy="726.6" r="1.45"/><circle cx="154.0" cy="729.5" r="1.45"/><circle cx="152.4" cy="722.4" r="1.45"/><circle cx="149.7" cy="721.2" r="1.45"/><circle cx="156.2" cy="720.8" r="1.45"/><circle cx="157.3" cy="718.0" r="1.45"/><circle cx="156.2" cy="734.4" r="1.45"/><circle cx="159.2" cy="733.9" r="1.45"/><circle cx="162.1" cy="733.5" r="1.45"/><circle cx="156.9" cy="737.3" r="1.45"/><circle cx="157.5" cy="740.2" r="1.45"/><circle cx="153.2" cy="734.9" r="1.45"/><circle cx="150.3" cy="735.3" r="1.45"/><circle cx="155.4" cy="731.5" r="1.45"/><circle cx="154.6" cy="728.6" r="1.45"/><circle cx="155.0" cy="749.0" r="1.45"/><circle cx="158.0" cy="749.0" r="1.45"/><circle cx="161.0" cy="749.0" r="1.45"/><circle cx="155.1" cy="752.0" r="1.45"/><circle cx="155.1" cy="755.0" r="1.45"/><circle cx="152.1" cy="748.4" r="1.45"/><circle cx="149.1" cy="747.8" r="1.45"/><circle cx="155.4" cy="746.0" r="1.45"/><circle cx="155.7" cy="743.0" r="1.45"/><circle cx="186.6" cy="553.0" r="1.45"/><circle cx="189.2" cy="554.3" r="1.45"/><circle cx="191.9" cy="555.6" r="1.45"/><circle cx="184.9" cy="555.5" r="1.45"/><circle cx="183.3" cy="558.0" r="1.45"/><circle cx="184.2" cy="551.1" r="1.45"/><circle cx="181.9" cy="549.3" r="1.45"/><circle cx="188.5" cy="550.7" r="1.45"/><circle cx="190.3" cy="548.3" r="1.45"/><circle cx="183.9" cy="567.4" r="1.45"/><circle cx="186.8" cy="568.4" r="1.45"/><circle cx="189.6" cy="569.3" r="1.45"/><circle cx="182.7" cy="570.2" r="1.45"/><circle cx="181.5" cy="572.9" r="1.45"/><circle cx="181.3" cy="566.0" r="1.45"/><circle cx="178.7" cy="564.5" r="1.45"/><circle cx="185.5" cy="564.9" r="1.45"/><circle cx="187.0" cy="562.3" r="1.45"/><circle cx="184.9" cy="580.3" r="1.45"/><circle cx="187.9" cy="580.2" r="1.45"/><circle cx="190.9" cy="580.1" r="1.45"/><circle cx="185.5" cy="583.2" r="1.45"/><circle cx="186.1" cy="586.2" r="1.45"/><circle cx="181.9" cy="580.5" r="1.45"/><circle cx="179.0" cy="580.8" r="1.45"/><circle cx="184.3" cy="577.3" r="1.45"/><circle cx="183.7" cy="574.4" r="1.45"/><circle cx="186.1" cy="592.3" r="1.45"/><circle cx="189.1" cy="592.4" r="1.45"/><circle cx="192.1" cy="592.5" r="1.45"/><circle cx="186.1" cy="595.3" r="1.45"/><circle cx="186.1" cy="598.3" r="1.45"/><circle cx="183.1" cy="592.2" r="1.45"/><circle cx="180.1" cy="592.1" r="1.45"/><circle cx="186.2" cy="589.3" r="1.45"/><circle cx="186.3" cy="586.3" r="1.45"/><circle cx="183.1" cy="604.3" r="1.45"/><circle cx="186.0" cy="605.0" r="1.45"/><circle cx="188.9" cy="605.7" r="1.45"/><circle cx="182.5" cy="607.2" r="1.45"/><circle cx="181.9" cy="610.2" r="1.45"/><circle cx="180.2" cy="603.6" r="1.45"/><circle cx="177.3" cy="602.9" r="1.45"/><circle cx="184.0" cy="601.5" r="1.45"/><circle cx="185.0" cy="598.6" r="1.45"/><circle cx="168.6" cy="695.7" r="1.45"/><circle cx="171.4" cy="696.7" r="1.45"/><circle cx="174.3" cy="697.7" r="1.45"/><circle cx="167.8" cy="698.6" r="1.45"/><circle cx="167.0" cy="701.5" r="1.45"/><circle cx="165.6" cy="695.2" r="1.45"/><circle cx="162.7" cy="694.6" r="1.45"/><circle cx="170.0" cy="693.1" r="1.45"/><circle cx="171.5" cy="690.5" r="1.45"/><circle cx="169.4" cy="709.9" r="1.45"/><circle cx="172.1" cy="711.1" r="1.45"/><circle cx="174.8" cy="712.4" r="1.45"/><circle cx="168.4" cy="712.7" r="1.45"/><circle cx="167.4" cy="715.6" r="1.45"/><circle cx="166.6" cy="708.7" r="1.45"/><circle cx="163.9" cy="707.4" r="1.45"/><circle cx="170.5" cy="707.2" r="1.45"/><circle cx="171.7" cy="704.4" r="1.45"/><circle cx="167.5" cy="725.1" r="1.45"/><circle cx="170.5" cy="725.1" r="1.45"/><circle cx="173.5" cy="725.2" r="1.45"/><circle cx="167.0" cy="728.0" r="1.45"/><circle cx="166.5" cy="731.0" r="1.45"/><circle cx="164.6" cy="724.7" r="1.45"/><circle cx="161.6" cy="724.4" r="1.45"/><circle cx="168.0" cy="722.1" r="1.45"/><circle cx="168.5" cy="719.1" r="1.45"/><circle cx="168.3" cy="736.4" r="1.45"/><circle cx="171.3" cy="736.0" r="1.45"/><circle cx="174.2" cy="735.6" r="1.45"/><circle cx="168.9" cy="739.3" r="1.45"/><circle cx="169.6" cy="742.3" r="1.45"/><circle cx="165.4" cy="737.0" r="1.45"/><circle cx="162.4" cy="737.7" r="1.45"/><circle cx="167.7" cy="733.5" r="1.45"/><circle cx="167.2" cy="730.5" r="1.45"/><circle cx="166.6" cy="748.9" r="1.45"/><circle cx="169.6" cy="749.1" r="1.45"/><circle cx="172.6" cy="749.3" r="1.45"/><circle cx="167.0" cy="751.9" r="1.45"/><circle cx="167.4" cy="754.8" r="1.45"/><circle cx="163.7" cy="749.1" r="1.45"/><circle cx="160.7" cy="749.3" r="1.45"/><circle cx="166.3" cy="745.9" r="1.45"/><circle cx="166.0" cy="742.9" r="1.45"/><circle cx="197.1" cy="554.4" r="1.45"/><circle cx="200.1" cy="553.9" r="1.45"/><circle cx="203.1" cy="553.5" r="1.45"/><circle cx="197.6" cy="557.3" r="1.45"/><circle cx="198.0" cy="560.3" r="1.45"/><circle cx="194.1" cy="554.6" r="1.45"/><circle cx="191.2" cy="554.8" r="1.45"/><circle cx="197.0" cy="551.4" r="1.45"/><circle cx="196.8" cy="548.4" r="1.45"/><circle cx="199.3" cy="566.1" r="1.45"/><circle cx="202.2" cy="565.7" r="1.45"/><circle cx="205.2" cy="565.2" r="1.45"/><circle cx="199.9" cy="569.0" r="1.45"/><circle cx="200.5" cy="572.0" r="1.45"/><circle cx="196.3" cy="566.4" r="1.45"/><circle cx="193.3" cy="566.6" r="1.45"/><circle cx="198.6" cy="563.2" r="1.45"/><circle cx="197.9" cy="560.3" r="1.45"/><circle cx="197.3" cy="578.6" r="1.45"/><circle cx="200.3" cy="578.9" r="1.45"/><circle cx="203.2" cy="579.1" r="1.45"/><circle cx="197.2" cy="581.6" r="1.45"/><circle cx="197.1" cy="584.6" r="1.45"/><circle cx="194.3" cy="578.2" r="1.45"/><circle cx="191.3" cy="577.7" r="1.45"/><circle cx="197.4" cy="575.7" r="1.45"/><circle cx="197.6" cy="572.7" r="1.45"/><circle cx="200.7" cy="589.6" r="1.45"/><circle cx="203.6" cy="588.6" r="1.45"/><circle cx="206.4" cy="587.7" r="1.45"/><circle cx="201.5" cy="592.5" r="1.45"/><circle cx="202.4" cy="595.4" r="1.45"/><circle cx="197.8" cy="590.3" r="1.45"/><circle cx="194.9" cy="591.0" r="1.45"/><circle cx="199.9" cy="586.7" r="1.45"/><circle cx="199.1" cy="583.8" r="1.45"/><circle cx="198.9" cy="603.8" r="1.45"/><circle cx="201.9" cy="603.5" r="1.45"/><circle cx="204.9" cy="603.2" r="1.45"/><circle cx="199.8" cy="606.6" r="1.45"/><circle cx="200.7" cy="609.5" r="1.45"/><circle cx="196.0" cy="604.5" r="1.45"/><circle cx="193.1" cy="605.2" r="1.45"/><circle cx="198.2" cy="600.9" r="1.45"/><circle cx="197.4" cy="598.0" r="1.45"/><circle cx="181.0" cy="706.5" r="1.45"/><circle cx="183.7" cy="707.8" r="1.45"/><circle cx="186.4" cy="709.0" r="1.45"/><circle cx="179.7" cy="709.1" r="1.45"/><circle cx="178.3" cy="711.8" r="1.45"/><circle cx="178.1" cy="705.8" r="1.45"/><circle cx="175.2" cy="705.1" r="1.45"/><circle cx="182.7" cy="704.0" r="1.45"/><circle cx="184.4" cy="701.5" r="1.45"/><circle cx="183.3" cy="725.0" r="1.45"/><circle cx="186.1" cy="723.9" r="1.45"/><circle cx="188.8" cy="722.7" r="1.45"/><circle cx="184.0" cy="728.0" r="1.45"/><circle cx="184.7" cy="730.9" r="1.45"/><circle cx="180.3" cy="725.3" r="1.45"/><circle cx="177.3" cy="725.6" r="1.45"/><circle cx="182.5" cy="722.2" r="1.45"/><circle cx="181.7" cy="719.3" r="1.45"/><circle cx="181.3" cy="736.6" r="1.45"/><circle cx="184.3" cy="736.8" r="1.45"/><circle cx="187.3" cy="737.1" r="1.45"/><circle cx="180.6" cy="739.5" r="1.45"/><circle cx="179.8" cy="742.3" r="1.45"/><circle cx="178.4" cy="736.0" r="1.45"/><circle cx="175.5" cy="735.4" r="1.45"/><circle cx="181.8" cy="733.6" r="1.45"/><circle cx="182.3" cy="730.6" r="1.45"/><circle cx="177.3" cy="750.8" r="1.45"/><circle cx="180.2" cy="751.5" r="1.45"/><circle cx="183.2" cy="752.2" r="1.45"/><circle cx="177.0" cy="753.7" r="1.45"/><circle cx="176.6" cy="756.7" r="1.45"/><circle cx="174.3" cy="750.5" r="1.45"/><circle cx="171.4" cy="750.1" r="1.45"/><circle cx="178.0" cy="747.9" r="1.45"/><circle cx="178.8" cy="744.9" r="1.45"/><circle cx="212.3" cy="563.6" r="1.45"/><circle cx="215.3" cy="563.4" r="1.45"/><circle cx="218.3" cy="563.3" r="1.45"/><circle cx="212.6" cy="566.5" r="1.45"/><circle cx="213.0" cy="569.5" r="1.45"/><circle cx="209.3" cy="563.9" r="1.45"/><circle cx="206.4" cy="564.3" r="1.45"/><circle cx="211.9" cy="560.6" r="1.45"/><circle cx="211.5" cy="557.6" r="1.45"/><circle cx="213.4" cy="579.7" r="1.45"/><circle cx="216.4" cy="579.8" r="1.45"/><circle cx="219.4" cy="579.9" r="1.45"/><circle cx="214.0" cy="582.7" r="1.45"/><circle cx="214.6" cy="585.6" r="1.45"/><circle cx="210.5" cy="579.3" r="1.45"/><circle cx="207.5" cy="578.8" r="1.45"/><circle cx="213.2" cy="576.7" r="1.45"/><circle cx="213.0" cy="573.7" r="1.45"/><circle cx="218.5" cy="589.8" r="1.45"/><circle cx="221.4" cy="590.6" r="1.45"/><circle cx="224.3" cy="591.3" r="1.45"/><circle cx="218.0" cy="592.8" r="1.45"/><circle cx="217.5" cy="595.7" r="1.45"/><circle cx="215.5" cy="589.6" r="1.45"/><circle cx="212.5" cy="589.5" r="1.45"/><circle cx="218.1" cy="586.8" r="1.45"/><circle cx="217.8" cy="583.8" r="1.45"/><circle cx="215.2" cy="605.6" r="1.45"/><circle cx="218.1" cy="605.5" r="1.45"/><circle cx="221.1" cy="605.4" r="1.45"/><circle cx="215.1" cy="608.6" r="1.45"/><circle cx="215.1" cy="611.6" r="1.45"/><circle cx="212.2" cy="605.6" r="1.45"/><circle cx="209.2" cy="605.7" r="1.45"/><circle cx="215.5" cy="602.6" r="1.45"/><circle cx="215.9" cy="599.6" r="1.45"/><circle cx="197.3" cy="705.6" r="1.45"/><circle cx="200.3" cy="705.5" r="1.45"/><circle cx="203.3" cy="705.4" r="1.45"/><circle cx="197.0" cy="708.6" r="1.45"/><circle cx="196.6" cy="711.5" r="1.45"/><circle cx="194.3" cy="705.0" r="1.45"/><circle cx="191.4" cy="704.5" r="1.45"/><circle cx="197.3" cy="702.6" r="1.45"/><circle cx="197.3" cy="699.6" r="1.45"/><circle cx="194.3" cy="719.2" r="1.45"/><circle cx="197.2" cy="719.9" r="1.45"/><circle cx="200.1" cy="720.6" r="1.45"/><circle cx="194.0" cy="722.2" r="1.45"/><circle cx="193.7" cy="725.1" r="1.45"/><circle cx="191.3" cy="719.0" r="1.45"/><circle cx="188.3" cy="718.9" r="1.45"/><circle cx="194.9" cy="716.2" r="1.45"/><circle cx="195.5" cy="713.3" r="1.45"/><circle cx="196.1" cy="734.2" r="1.45"/><circle cx="199.1" cy="734.3" r="1.45"/><circle cx="202.1" cy="734.4" r="1.45"/><circle cx="196.2" cy="737.2" r="1.45"/><circle cx="196.4" cy="740.2" r="1.45"/><circle cx="193.2" cy="734.6" r="1.45"/><circle cx="190.2" cy="735.0" r="1.45"/><circle cx="195.9" cy="731.2" r="1.45"/><circle cx="195.7" cy="728.2" r="1.45"/><circle cx="227.8" cy="552.4" r="1.45"/><circle cx="230.7" cy="553.0" r="1.45"/><circle cx="233.7" cy="553.5" r="1.45"/><circle cx="227.7" cy="555.4" r="1.45"/><circle cx="227.6" cy="558.4" r="1.45"/><circle cx="224.8" cy="552.2" r="1.45"/><circle cx="221.8" cy="552.0" r="1.45"/><circle cx="228.1" cy="549.4" r="1.45"/><circle cx="228.4" cy="546.4" r="1.45"/><circle cx="226.8" cy="566.8" r="1.45"/><circle cx="229.8" cy="566.8" r="1.45"/><circle cx="232.8" cy="566.9" r="1.45"/><circle cx="227.2" cy="569.8" r="1.45"/><circle cx="227.7" cy="572.7" r="1.45"/><circle cx="223.8" cy="566.5" r="1.45"/><circle cx="220.9" cy="566.2" r="1.45"/><circle cx="226.6" cy="563.8" r="1.45"/><circle cx="226.4" cy="560.8" r="1.45"/><circle cx="229.2" cy="578.8" r="1.45"/><circle cx="232.2" cy="578.8" r="1.45"/><circle cx="235.2" cy="578.7" r="1.45"/><circle cx="229.8" cy="581.8" r="1.45"/><circle cx="230.3" cy="584.7" r="1.45"/><circle cx="226.2" cy="578.7" r="1.45"/><circle cx="223.2" cy="578.6" r="1.45"/><circle cx="229.1" cy="575.8" r="1.45"/><circle cx="229.0" cy="572.8" r="1.45"/><circle cx="231.6" cy="595.6" r="1.45"/><circle cx="234.6" cy="595.6" r="1.45"/><circle cx="237.6" cy="595.6" r="1.45"/><circle cx="231.8" cy="598.6" r="1.45"/><circle cx="231.9" cy="601.6" r="1.45"/><circle cx="228.6" cy="595.1" r="1.45"/><circle cx="225.7" cy="594.6" r="1.45"/><circle cx="231.5" cy="592.6" r="1.45"/><circle cx="231.4" cy="589.6" r="1.45"/><circle cx="235.3" cy="605.4" r="1.45"/><circle cx="238.3" cy="605.4" r="1.45"/><circle cx="241.3" cy="605.4" r="1.45"/><circle cx="235.9" cy="608.3" r="1.45"/><circle cx="236.6" cy="611.3" r="1.45"/><circle cx="232.3" cy="606.0" r="1.45"/><circle cx="229.4" cy="606.5" r="1.45"/><circle cx="234.4" cy="602.6" r="1.45"/><circle cx="233.5" cy="599.7" r="1.45"/><circle cx="230.9" cy="617.9" r="1.45"/><circle cx="233.4" cy="619.5" r="1.45"/><circle cx="236.0" cy="621.1" r="1.45"/><circle cx="229.8" cy="620.7" r="1.45"/><circle cx="228.7" cy="623.5" r="1.45"/><circle cx="228.6" cy="616.1" r="1.45"/><circle cx="226.2" cy="614.2" r="1.45"/><circle cx="232.5" cy="615.4" r="1.45"/><circle cx="234.1" cy="612.8" r="1.45"/><circle cx="227.0" cy="630.3" r="1.45"/><circle cx="229.9" cy="630.8" r="1.45"/><circle cx="232.9" cy="631.3" r="1.45"/><circle cx="226.2" cy="633.2" r="1.45"/><circle cx="225.3" cy="636.1" r="1.45"/><circle cx="224.0" cy="629.7" r="1.45"/><circle cx="221.1" cy="629.1" r="1.45"/><circle cx="227.8" cy="627.5" r="1.45"/><circle cx="228.7" cy="624.6" r="1.45"/><circle cx="209.2" cy="705.7" r="1.45"/><circle cx="211.8" cy="707.2" r="1.45"/><circle cx="214.4" cy="708.6" r="1.45"/><circle cx="208.1" cy="708.5" r="1.45"/><circle cx="207.0" cy="711.2" r="1.45"/><circle cx="206.6" cy="704.2" r="1.45"/><circle cx="204.0" cy="702.8" r="1.45"/><circle cx="210.9" cy="703.2" r="1.45"/><circle cx="212.7" cy="700.8" r="1.45"/><circle cx="207.3" cy="717.3" r="1.45"/><circle cx="210.1" cy="718.2" r="1.45"/><circle cx="213.0" cy="719.0" r="1.45"/><circle cx="206.5" cy="720.2" r="1.45"/><circle cx="205.8" cy="723.1" r="1.45"/><circle cx="204.3" cy="716.6" r="1.45"/><circle cx="201.4" cy="716.0" r="1.45"/><circle cx="208.0" cy="714.4" r="1.45"/><circle cx="208.7" cy="711.5" r="1.45"/><circle cx="208.0" cy="735.7" r="1.45"/><circle cx="211.0" cy="735.8" r="1.45"/><circle cx="214.0" cy="735.8" r="1.45"/><circle cx="208.3" cy="738.7" r="1.45"/><circle cx="208.7" cy="741.7" r="1.45"/><circle cx="205.0" cy="736.0" r="1.45"/><circle cx="202.0" cy="736.2" r="1.45"/><circle cx="208.1" cy="732.7" r="1.45"/><circle cx="208.2" cy="729.7" r="1.45"/><circle cx="207.1" cy="752.6" r="1.45"/><circle cx="210.1" cy="753.2" r="1.45"/><circle cx="213.0" cy="753.8" r="1.45"/><circle cx="206.5" cy="755.5" r="1.45"/><circle cx="205.8" cy="758.5" r="1.45"/><circle cx="204.2" cy="752.0" r="1.45"/><circle cx="201.3" cy="751.3" r="1.45"/><circle cx="207.7" cy="749.7" r="1.45"/><circle cx="208.2" cy="746.7" r="1.45"/><circle cx="239.8" cy="553.2" r="1.45"/><circle cx="242.3" cy="555.0" r="1.45"/><circle cx="244.7" cy="556.7" r="1.45"/><circle cx="238.5" cy="556.0" r="1.45"/><circle cx="237.3" cy="558.7" r="1.45"/><circle cx="237.0" cy="552.2" r="1.45"/><circle cx="234.2" cy="551.1" r="1.45"/><circle cx="241.4" cy="550.7" r="1.45"/><circle cx="243.1" cy="548.2" r="1.45"/><circle cx="243.8" cy="567.3" r="1.45"/><circle cx="246.7" cy="568.0" r="1.45"/><circle cx="249.6" cy="568.8" r="1.45"/><circle cx="243.8" cy="570.3" r="1.45"/><circle cx="243.8" cy="573.3" r="1.45"/><circle cx="240.8" cy="566.6" r="1.45"/><circle cx="237.9" cy="565.9" r="1.45"/><circle cx="243.9" cy="564.3" r="1.45"/><circle cx="244.0" cy="561.3" r="1.45"/><circle cx="245.8" cy="583.8" r="1.45"/><circle cx="248.8" cy="583.3" r="1.45"/><circle cx="251.8" cy="582.9" r="1.45"/><circle cx="246.8" cy="586.7" r="1.45"/><circle cx="247.7" cy="589.5" r="1.45"/><circle cx="243.0" cy="584.7" r="1.45"/><circle cx="240.1" cy="585.5" r="1.45"/><circle cx="245.4" cy="580.9" r="1.45"/><circle cx="244.9" cy="577.9" r="1.45"/><circle cx="248.8" cy="599.4" r="1.45"/><circle cx="251.7" cy="599.9" r="1.45"/><circle cx="254.7" cy="600.4" r="1.45"/><circle cx="248.5" cy="602.4" r="1.45"/><circle cx="248.2" cy="605.4" r="1.45"/><circle cx="245.9" cy="598.7" r="1.45"/><circle cx="242.9" cy="598.0" r="1.45"/><circle cx="248.6" cy="596.4" r="1.45"/><circle cx="248.5" cy="593.4" r="1.45"/><circle cx="247.7" cy="612.1" r="1.45"/><circle cx="250.5" cy="613.0" r="1.45"/><circle cx="253.4" cy="613.9" r="1.45"/><circle cx="246.7" cy="615.0" r="1.45"/><circle cx="245.8" cy="617.8" r="1.45"/><circle cx="244.8" cy="611.1" r="1.45"/><circle cx="242.0" cy="610.1" r="1.45"/><circle cx="248.4" cy="609.2" r="1.45"/><circle cx="249.2" cy="606.3" r="1.45"/><circle cx="246.6" cy="624.8" r="1.45"/><circle cx="249.6" cy="624.6" r="1.45"/><circle cx="252.6" cy="624.4" r="1.45"/><circle cx="246.7" cy="627.8" r="1.45"/><circle cx="246.7" cy="630.8" r="1.45"/><circle cx="243.6" cy="624.8" r="1.45"/><circle cx="240.6" cy="624.9" r="1.45"/><circle cx="246.2" cy="621.9" r="1.45"/><circle cx="245.8" cy="618.9" r="1.45"/><circle cx="242.7" cy="636.7" r="1.45"/><circle cx="245.5" cy="637.7" r="1.45"/><circle cx="248.3" cy="638.7" r="1.45"/><circle cx="241.9" cy="639.6" r="1.45"/><circle cx="241.2" cy="642.5" r="1.45"/><circle cx="239.8" cy="635.9" r="1.45"/><circle cx="236.9" cy="635.0" r="1.45"/><circle cx="243.4" cy="633.8" r="1.45"/><circle cx="244.1" cy="630.9" r="1.45"/><circle cx="237.0" cy="649.3" r="1.45"/><circle cx="239.7" cy="650.6" r="1.45"/><circle cx="242.5" cy="651.8" r="1.45"/><circle cx="235.1" cy="651.7" r="1.45"/><circle cx="233.3" cy="654.0" r="1.45"/><circle cx="234.5" cy="647.8" r="1.45"/><circle cx="231.9" cy="646.2" r="1.45"/><circle cx="238.5" cy="646.7" r="1.45"/><circle cx="239.9" cy="644.1" r="1.45"/><circle cx="225.6" cy="674.8" r="1.45"/><circle cx="228.4" cy="675.8" r="1.45"/><circle cx="231.2" cy="676.9" r="1.45"/><circle cx="224.7" cy="677.7" r="1.45"/><circle cx="223.9" cy="680.5" r="1.45"/><circle cx="222.7" cy="674.0" r="1.45"/><circle cx="219.8" cy="673.2" r="1.45"/><circle cx="226.9" cy="672.1" r="1.45"/><circle cx="228.2" cy="669.4" r="1.45"/><circle cx="221.8" cy="687.6" r="1.45"/><circle cx="224.7" cy="688.0" r="1.45"/><circle cx="227.7" cy="688.4" r="1.45"/><circle cx="221.6" cy="690.6" r="1.45"/><circle cx="221.5" cy="693.6" r="1.45"/><circle cx="218.8" cy="687.4" r="1.45"/><circle cx="215.8" cy="687.3" r="1.45"/><circle cx="222.1" cy="684.6" r="1.45"/><circle cx="222.5" cy="681.6" r="1.45"/><circle cx="219.4" cy="704.8" r="1.45"/><circle cx="221.9" cy="706.5" r="1.45"/><circle cx="224.4" cy="708.1" r="1.45"/><circle cx="218.5" cy="707.7" r="1.45"/><circle cx="217.5" cy="710.5" r="1.45"/><circle cx="216.7" cy="703.7" r="1.45"/><circle cx="213.9" cy="702.5" r="1.45"/><circle cx="220.6" cy="702.1" r="1.45"/><circle cx="221.8" cy="699.3" r="1.45"/><circle cx="224.4" cy="720.0" r="1.45"/><circle cx="227.3" cy="720.6" r="1.45"/><circle cx="230.2" cy="721.2" r="1.45"/><circle cx="223.5" cy="722.9" r="1.45"/><circle cx="222.6" cy="725.8" r="1.45"/><circle cx="221.6" cy="718.8" r="1.45"/><circle cx="218.8" cy="717.7" r="1.45"/><circle cx="224.6" cy="717.0" r="1.45"/><circle cx="224.8" cy="714.0" r="1.45"/><circle cx="221.0" cy="734.9" r="1.45"/><circle cx="223.9" cy="735.9" r="1.45"/><circle cx="226.7" cy="736.8" r="1.45"/><circle cx="220.4" cy="737.8" r="1.45"/><circle cx="219.7" cy="740.8" r="1.45"/><circle cx="218.1" cy="734.4" r="1.45"/><circle cx="215.1" cy="733.8" r="1.45"/><circle cx="221.7" cy="732.0" r="1.45"/><circle cx="222.4" cy="729.1" r="1.45"/><circle cx="222.1" cy="751.2" r="1.45"/><circle cx="224.4" cy="753.0" r="1.45"/><circle cx="226.8" cy="754.9" r="1.45"/><circle cx="220.2" cy="753.6" r="1.45"/><circle cx="218.4" cy="755.9" r="1.45"/><circle cx="219.2" cy="750.3" r="1.45"/><circle cx="216.3" cy="749.5" r="1.45"/><circle cx="223.4" cy="748.5" r="1.45"/><circle cx="224.8" cy="745.8" r="1.45"/><circle cx="261.4" cy="588.4" r="1.45"/><circle cx="264.4" cy="588.2" r="1.45"/><circle cx="267.4" cy="587.9" r="1.45"/><circle cx="261.8" cy="591.4" r="1.45"/><circle cx="262.2" cy="594.4" r="1.45"/><circle cx="258.4" cy="588.4" r="1.45"/><circle cx="255.4" cy="588.3" r="1.45"/><circle cx="260.7" cy="585.5" r="1.45"/><circle cx="260.0" cy="582.6" r="1.45"/><circle cx="263.2" cy="601.0" r="1.45"/><circle cx="265.9" cy="602.3" r="1.45"/><circle cx="268.6" cy="603.6" r="1.45"/><circle cx="262.2" cy="603.8" r="1.45"/><circle cx="261.1" cy="606.6" r="1.45"/><circle cx="260.5" cy="599.8" r="1.45"/><circle cx="257.7" cy="598.5" r="1.45"/><circle cx="264.1" cy="598.1" r="1.45"/><circle cx="264.9" cy="595.2" r="1.45"/><circle cx="264.3" cy="618.6" r="1.45"/><circle cx="267.2" cy="619.4" r="1.45"/><circle cx="270.1" cy="620.1" r="1.45"/><circle cx="263.7" cy="621.5" r="1.45"/><circle cx="263.1" cy="624.5" r="1.45"/><circle cx="261.3" cy="618.4" r="1.45"/><circle cx="258.3" cy="618.2" r="1.45"/><circle cx="264.5" cy="615.6" r="1.45"/><circle cx="264.7" cy="612.6" r="1.45"/><circle cx="258.7" cy="629.3" r="1.45"/><circle cx="261.5" cy="630.4" r="1.45"/><circle cx="264.2" cy="631.5" r="1.45"/><circle cx="257.9" cy="632.2" r="1.45"/><circle cx="257.2" cy="635.1" r="1.45"/><circle cx="255.8" cy="628.5" r="1.45"/><circle cx="252.9" cy="627.8" r="1.45"/><circle cx="259.9" cy="626.5" r="1.45"/><circle cx="261.1" cy="623.8" r="1.45"/><circle cx="256.3" cy="641.3" r="1.45"/><circle cx="259.3" cy="641.6" r="1.45"/><circle cx="262.3" cy="641.9" r="1.45"/><circle cx="256.0" cy="644.3" r="1.45"/><circle cx="255.6" cy="647.3" r="1.45"/><circle cx="253.3" cy="641.5" r="1.45"/><circle cx="250.3" cy="641.7" r="1.45"/><circle cx="256.3" cy="638.3" r="1.45"/><circle cx="256.2" cy="635.3" r="1.45"/><circle cx="246.5" cy="650.3" r="1.45"/><circle cx="249.5" cy="650.4" r="1.45"/><circle cx="252.5" cy="650.6" r="1.45"/><circle cx="246.6" cy="653.3" r="1.45"/><circle cx="246.8" cy="656.3" r="1.45"/><circle cx="243.5" cy="650.4" r="1.45"/><circle cx="240.5" cy="650.5" r="1.45"/><circle cx="247.3" cy="647.4" r="1.45"/><circle cx="248.1" cy="644.5" r="1.45"/><circle cx="243.4" cy="666.5" r="1.45"/><circle cx="246.4" cy="666.6" r="1.45"/><circle cx="249.4" cy="666.8" r="1.45"/><circle cx="243.0" cy="669.4" r="1.45"/><circle cx="242.7" cy="672.4" r="1.45"/><circle cx="240.4" cy="667.0" r="1.45"/><circle cx="237.5" cy="667.5" r="1.45"/><circle cx="243.2" cy="663.5" r="1.45"/><circle cx="243.0" cy="660.5" r="1.45"/><circle cx="236.3" cy="677.5" r="1.45"/><circle cx="239.1" cy="678.6" r="1.45"/><circle cx="241.9" cy="679.7" r="1.45"/><circle cx="235.1" cy="680.3" r="1.45"/><circle cx="233.9" cy="683.0" r="1.45"/><circle cx="233.6" cy="676.3" r="1.45"/><circle cx="230.9" cy="675.0" r="1.45"/><circle cx="237.8" cy="674.9" r="1.45"/><circle cx="239.2" cy="672.3" r="1.45"/><circle cx="235.0" cy="690.5" r="1.45"/><circle cx="238.0" cy="690.4" r="1.45"/><circle cx="241.0" cy="690.3" r="1.45"/><circle cx="235.0" cy="693.5" r="1.45"/><circle cx="235.0" cy="696.5" r="1.45"/><circle cx="232.0" cy="690.6" r="1.45"/><circle cx="229.0" cy="690.7" r="1.45"/><circle cx="234.9" cy="687.5" r="1.45"/><circle cx="234.8" cy="684.5" r="1.45"/><circle cx="237.1" cy="708.0" r="1.45"/><circle cx="240.1" cy="707.9" r="1.45"/><circle cx="243.1" cy="707.8" r="1.45"/><circle cx="237.3" cy="711.0" r="1.45"/><circle cx="237.6" cy="714.0" r="1.45"/><circle cx="234.1" cy="707.9" r="1.45"/><circle cx="231.1" cy="707.8" r="1.45"/><circle cx="237.1" cy="705.0" r="1.45"/><circle cx="237.0" cy="702.0" r="1.45"/><circle cx="235.2" cy="720.4" r="1.45"/><circle cx="238.1" cy="720.9" r="1.45"/><circle cx="241.1" cy="721.4" r="1.45"/><circle cx="235.1" cy="723.4" r="1.45"/><circle cx="235.0" cy="726.4" r="1.45"/><circle cx="232.2" cy="720.3" r="1.45"/><circle cx="229.2" cy="720.1" r="1.45"/><circle cx="235.9" cy="717.5" r="1.45"/><circle cx="236.7" cy="714.6" r="1.45"/><circle cx="237.5" cy="738.9" r="1.45"/><circle cx="240.4" cy="738.5" r="1.45"/><circle cx="243.4" cy="738.0" r="1.45"/><circle cx="238.1" cy="741.8" r="1.45"/><circle cx="238.7" cy="744.8" r="1.45"/><circle cx="234.5" cy="739.5" r="1.45"/><circle cx="231.6" cy="740.1" r="1.45"/><circle cx="237.1" cy="735.9" r="1.45"/><circle cx="236.8" cy="732.9" r="1.45"/><circle cx="276.7" cy="593.1" r="1.45"/><circle cx="279.7" cy="592.4" r="1.45"/><circle cx="282.6" cy="591.7" r="1.45"/><circle cx="277.5" cy="596.0" r="1.45"/><circle cx="278.3" cy="598.9" r="1.45"/><circle cx="273.7" cy="593.0" r="1.45"/><circle cx="270.7" cy="592.9" r="1.45"/><circle cx="275.8" cy="590.2" r="1.45"/><circle cx="275.0" cy="587.4" r="1.45"/><circle cx="276.4" cy="608.6" r="1.45"/><circle cx="279.1" cy="609.8" r="1.45"/><circle cx="281.9" cy="611.0" r="1.45"/><circle cx="275.2" cy="611.3" r="1.45"/><circle cx="274.0" cy="614.0" r="1.45"/><circle cx="273.6" cy="607.4" r="1.45"/><circle cx="270.9" cy="606.2" r="1.45"/><circle cx="277.2" cy="605.7" r="1.45"/><circle cx="277.9" cy="602.8" r="1.45"/><circle cx="275.5" cy="624.2" r="1.45"/><circle cx="278.4" cy="625.0" r="1.45"/><circle cx="281.3" cy="625.8" r="1.45"/><circle cx="274.5" cy="627.0" r="1.45"/><circle cx="273.6" cy="629.9" r="1.45"/><circle cx="272.7" cy="623.1" r="1.45"/><circle cx="269.9" cy="622.0" r="1.45"/><circle cx="276.2" cy="621.3" r="1.45"/><circle cx="276.9" cy="618.3" r="1.45"/><circle cx="269.9" cy="637.1" r="1.45"/><circle cx="272.8" cy="637.4" r="1.45"/><circle cx="275.8" cy="637.8" r="1.45"/><circle cx="269.1" cy="640.0" r="1.45"/><circle cx="268.4" cy="642.9" r="1.45"/><circle cx="266.9" cy="636.4" r="1.45"/><circle cx="264.0" cy="635.8" r="1.45"/><circle cx="270.6" cy="634.2" r="1.45"/><circle cx="271.3" cy="631.3" r="1.45"/><circle cx="264.5" cy="648.2" r="1.45"/><circle cx="267.5" cy="648.5" r="1.45"/><circle cx="270.5" cy="648.7" r="1.45"/><circle cx="264.8" cy="651.2" r="1.45"/><circle cx="265.0" cy="654.2" r="1.45"/><circle cx="261.6" cy="647.5" r="1.45"/><circle cx="258.7" cy="646.7" r="1.45"/><circle cx="264.9" cy="645.2" r="1.45"/><circle cx="265.2" cy="642.3" r="1.45"/><circle cx="259.5" cy="658.3" r="1.45"/><circle cx="262.5" cy="658.9" r="1.45"/><circle cx="265.4" cy="659.5" r="1.45"/><circle cx="259.0" cy="661.2" r="1.45"/><circle cx="258.4" cy="664.2" r="1.45"/><circle cx="256.7" cy="657.5" r="1.45"/><circle cx="253.8" cy="656.7" r="1.45"/><circle cx="260.3" cy="655.4" r="1.45"/><circle cx="261.0" cy="652.5" r="1.45"/><circle cx="254.9" cy="670.9" r="1.45"/><circle cx="257.9" cy="671.5" r="1.45"/><circle cx="260.8" cy="672.1" r="1.45"/><circle cx="254.2" cy="673.8" r="1.45"/><circle cx="253.4" cy="676.7" r="1.45"/><circle cx="252.0" cy="670.3" r="1.45"/><circle cx="249.1" cy="669.7" r="1.45"/><circle cx="255.8" cy="668.1" r="1.45"/><circle cx="256.7" cy="665.2" r="1.45"/><circle cx="248.6" cy="681.7" r="1.45"/><circle cx="250.9" cy="683.5" r="1.45"/><circle cx="253.2" cy="685.4" r="1.45"/><circle cx="247.0" cy="684.2" r="1.45"/><circle cx="245.4" cy="686.8" r="1.45"/><circle cx="246.1" cy="680.0" r="1.45"/><circle cx="243.6" cy="678.2" r="1.45"/><circle cx="250.4" cy="679.3" r="1.45"/><circle cx="252.2" cy="676.9" r="1.45"/><circle cx="246.9" cy="696.9" r="1.45"/><circle cx="249.7" cy="698.1" r="1.45"/><circle cx="252.4" cy="699.3" r="1.45"/><circle cx="245.9" cy="699.7" r="1.45"/><circle cx="244.9" cy="702.5" r="1.45"/><circle cx="244.4" cy="695.3" r="1.45"/><circle cx="241.9" cy="693.6" r="1.45"/><circle cx="248.3" cy="694.2" r="1.45"/><circle cx="249.7" cy="691.6" r="1.45"/><circle cx="250.0" cy="711.2" r="1.45"/><circle cx="252.9" cy="712.0" r="1.45"/><circle cx="255.7" cy="712.8" r="1.45"/><circle cx="248.9" cy="714.0" r="1.45"/><circle cx="247.9" cy="716.8" r="1.45"/><circle cx="247.0" cy="710.7" r="1.45"/><circle cx="244.0" cy="710.2" r="1.45"/><circle cx="250.3" cy="708.2" r="1.45"/><circle cx="250.7" cy="705.2" r="1.45"/><circle cx="290.3" cy="612.5" r="1.45"/><circle cx="293.0" cy="613.9" r="1.45"/><circle cx="295.6" cy="615.3" r="1.45"/><circle cx="289.2" cy="615.3" r="1.45"/><circle cx="288.0" cy="618.0" r="1.45"/><circle cx="288.0" cy="610.6" r="1.45"/><circle cx="285.7" cy="608.7" r="1.45"/><circle cx="292.3" cy="610.2" r="1.45"/><circle cx="294.2" cy="608.0" r="1.45"/><circle cx="287.4" cy="624.5" r="1.45"/><circle cx="290.1" cy="623.2" r="1.45"/><circle cx="292.8" cy="621.9" r="1.45"/><circle cx="287.6" cy="627.5" r="1.45"/><circle cx="287.8" cy="630.5" r="1.45"/><circle cx="284.4" cy="625.0" r="1.45"/><circle cx="281.5" cy="625.6" r="1.45"/><circle cx="286.9" cy="621.5" r="1.45"/><circle cx="286.4" cy="618.5" r="1.45"/><circle cx="282.2" cy="641.5" r="1.45"/><circle cx="285.1" cy="642.4" r="1.45"/><circle cx="288.0" cy="643.2" r="1.45"/><circle cx="281.3" cy="644.4" r="1.45"/><circle cx="280.4" cy="647.3" r="1.45"/><circle cx="279.2" cy="641.1" r="1.45"/><circle cx="276.3" cy="640.7" r="1.45"/><circle cx="282.6" cy="638.6" r="1.45"/><circle cx="283.1" cy="635.6" r="1.45"/><circle cx="279.1" cy="652.8" r="1.45"/><circle cx="281.7" cy="654.3" r="1.45"/><circle cx="284.2" cy="655.9" r="1.45"/><circle cx="277.6" cy="655.3" r="1.45"/><circle cx="276.0" cy="657.9" r="1.45"/><circle cx="276.3" cy="651.7" r="1.45"/><circle cx="273.5" cy="650.6" r="1.45"/><circle cx="280.1" cy="649.9" r="1.45"/><circle cx="281.1" cy="647.1" r="1.45"/><circle cx="270.3" cy="668.1" r="1.45"/><circle cx="273.2" cy="667.8" r="1.45"/><circle cx="276.2" cy="667.4" r="1.45"/><circle cx="270.1" cy="671.1" r="1.45"/><circle cx="269.9" cy="674.1" r="1.45"/><circle cx="267.3" cy="667.7" r="1.45"/><circle cx="264.3" cy="667.2" r="1.45"/><circle cx="270.8" cy="665.2" r="1.45"/><circle cx="271.3" cy="662.2" r="1.45"/><circle cx="266.1" cy="676.5" r="1.45"/><circle cx="269.0" cy="677.2" r="1.45"/><circle cx="271.9" cy="678.0" r="1.45"/><circle cx="265.3" cy="679.4" r="1.45"/><circle cx="264.5" cy="682.3" r="1.45"/><circle cx="263.2" cy="675.8" r="1.45"/><circle cx="260.3" cy="675.0" r="1.45"/><circle cx="266.4" cy="673.5" r="1.45"/><circle cx="266.7" cy="670.5" r="1.45"/><circle cx="261.0" cy="688.7" r="1.45"/><circle cx="263.8" cy="689.8" r="1.45"/><circle cx="266.5" cy="691.0" r="1.45"/><circle cx="260.1" cy="691.5" r="1.45"/><circle cx="259.2" cy="694.4" r="1.45"/><circle cx="258.3" cy="687.3" r="1.45"/><circle cx="255.6" cy="686.0" r="1.45"/><circle cx="262.4" cy="686.0" r="1.45"/><circle cx="263.8" cy="683.3" r="1.45"/><circle cx="259.9" cy="702.6" r="1.45"/><circle cx="262.7" cy="703.6" r="1.45"/><circle cx="265.5" cy="704.6" r="1.45"/><circle cx="258.8" cy="705.4" r="1.45"/><circle cx="257.7" cy="708.2" r="1.45"/><circle cx="257.2" cy="701.2" r="1.45"/><circle cx="254.5" cy="699.9" r="1.45"/><circle cx="260.7" cy="699.7" r="1.45"/><circle cx="261.4" cy="696.8" r="1.45"/><circle cx="282.4" cy="668.4" r="1.45"/><circle cx="285.4" cy="668.8" r="1.45"/><circle cx="288.4" cy="669.1" r="1.45"/><circle cx="281.5" cy="671.3" r="1.45"/><circle cx="280.6" cy="674.2" r="1.45"/><circle cx="279.4" cy="668.3" r="1.45"/><circle cx="276.4" cy="668.2" r="1.45"/><circle cx="282.7" cy="665.5" r="1.45"/><circle cx="283.0" cy="662.5" r="1.45"/><circle cx="277.2" cy="683.5" r="1.45"/><circle cx="280.2" cy="683.4" r="1.45"/><circle cx="283.2" cy="683.3" r="1.45"/><circle cx="277.2" cy="686.5" r="1.45"/><circle cx="277.1" cy="689.5" r="1.45"/><circle cx="274.3" cy="683.0" r="1.45"/><circle cx="271.3" cy="682.5" r="1.45"/><circle cx="277.6" cy="680.5" r="1.45"/><circle cx="278.0" cy="677.6" r="1.45"/><circle cx="277.2" cy="695.0" r="1.45"/><circle cx="280.1" cy="695.4" r="1.45"/><circle cx="283.1" cy="695.7" r="1.45"/><circle cx="276.7" cy="697.9" r="1.45"/><circle cx="276.2" cy="700.9" r="1.45"/><circle cx="274.2" cy="694.4" r="1.45"/><circle cx="271.3" cy="693.9" r="1.45"/><circle cx="277.4" cy="692.0" r="1.45"/><circle cx="277.5" cy="689.0" r="1.45"/><circle cx="278.6" cy="707.9" r="1.45"/><circle cx="281.6" cy="708.4" r="1.45"/><circle cx="284.5" cy="708.9" r="1.45"/><circle cx="278.5" cy="710.9" r="1.45"/><circle cx="278.5" cy="713.9" r="1.45"/><circle cx="275.6" cy="707.6" r="1.45"/><circle cx="272.6" cy="707.4" r="1.45"/><circle cx="278.9" cy="704.9" r="1.45"/><circle cx="279.3" cy="701.9" r="1.45"/><circle cx="292.0" cy="685.9" r="1.45"/><circle cx="294.5" cy="687.6" r="1.45"/><circle cx="297.0" cy="689.3" r="1.45"/><circle cx="290.8" cy="688.6" r="1.45"/><circle cx="289.5" cy="691.3" r="1.45"/><circle cx="289.5" cy="684.3" r="1.45"/><circle cx="286.9" cy="682.7" r="1.45"/><circle cx="294.0" cy="683.6" r="1.45"/><circle cx="295.9" cy="681.3" r="1.45"/><circle cx="288.7" cy="698.9" r="1.45"/><circle cx="291.7" cy="699.0" r="1.45"/><circle cx="294.7" cy="699.2" r="1.45"/><circle cx="288.9" cy="701.8" r="1.45"/><circle cx="289.0" cy="704.8" r="1.45"/><circle cx="285.7" cy="698.8" r="1.45"/><circle cx="282.7" cy="698.7" r="1.45"/><circle cx="289.0" cy="695.9" r="1.45"/><circle cx="289.2" cy="692.9" r="1.45"/></g><g fill="#0e8d3f"><circle cx="99.9" cy="618.4" r="1.85"/><circle cx="101.0" cy="621.8" r="1.85"/><circle cx="119.8" cy="593.6" r="1.85"/><circle cx="123.1" cy="592.1" r="1.85"/><circle cx="112.1" cy="599.4" r="1.85"/><circle cx="115.2" cy="601.4" r="1.85"/><circle cx="120.0" cy="605.5" r="1.85"/><circle cx="119.2" cy="609.0" r="1.85"/><circle cx="113.1" cy="613.6" r="1.85"/><circle cx="109.6" cy="612.8" r="1.85"/><circle cx="113.2" cy="622.2" r="1.85"/><circle cx="112.7" cy="625.8" r="1.85"/><circle cx="105.4" cy="625.9" r="1.85"/><circle cx="102.7" cy="628.2" r="1.85"/><circle cx="109.7" cy="636.2" r="1.85"/><circle cx="108.3" cy="639.5" r="1.85"/><circle cx="98.3" cy="639.7" r="1.85"/><circle cx="100.8" cy="642.2" r="1.85"/><circle cx="102.3" cy="652.4" r="1.85"/><circle cx="103.9" cy="649.2" r="1.85"/><circle cx="94.1" cy="654.4" r="1.85"/><circle cx="97.6" cy="655.2" r="1.85"/><circle cx="99.5" cy="667.1" r="1.85"/><circle cx="102.2" cy="664.7" r="1.85"/><circle cx="93.7" cy="665.0" r="1.85"/><circle cx="92.7" cy="668.4" r="1.85"/><circle cx="104.0" cy="671.9" r="1.85"/><circle cx="103.6" cy="675.5" r="1.85"/><circle cx="93.0" cy="678.3" r="1.85"/><circle cx="96.5" cy="678.8" r="1.85"/><circle cx="105.1" cy="688.0" r="1.85"/><circle cx="104.4" cy="691.5" r="1.85"/><circle cx="97.5" cy="691.3" r="1.85"/><circle cx="100.4" cy="693.4" r="1.85"/><circle cx="108.4" cy="700.5" r="1.85"/><circle cx="109.4" cy="703.9" r="1.85"/><circle cx="105.7" cy="704.5" r="1.85"/><circle cx="105.1" cy="708.1" r="1.85"/><circle cx="108.2" cy="717.6" r="1.85"/><circle cx="111.4" cy="715.9" r="1.85"/><circle cx="138.8" cy="584.8" r="1.85"/><circle cx="139.0" cy="581.2" r="1.85"/><circle cx="130.0" cy="586.3" r="1.85"/><circle cx="133.1" cy="588.1" r="1.85"/><circle cx="134.0" cy="593.6" r="1.85"/><circle cx="135.4" cy="596.9" r="1.85"/><circle cx="124.5" cy="599.0" r="1.85"/><circle cx="126.9" cy="601.7" r="1.85"/><circle cx="131.3" cy="608.7" r="1.85"/><circle cx="133.9" cy="611.3" r="1.85"/><circle cx="122.2" cy="616.8" r="1.85"/><circle cx="125.6" cy="618.0" r="1.85"/><circle cx="125.7" cy="627.4" r="1.85"/><circle cx="128.7" cy="625.3" r="1.85"/><circle cx="118.0" cy="631.7" r="1.85"/><circle cx="116.8" cy="635.1" r="1.85"/><circle cx="120.6" cy="642.6" r="1.85"/><circle cx="124.0" cy="641.5" r="1.85"/><circle cx="113.8" cy="645.0" r="1.85"/><circle cx="113.7" cy="648.6" r="1.85"/><circle cx="116.8" cy="654.5" r="1.85"/><circle cx="120.3" cy="654.0" r="1.85"/><circle cx="110.5" cy="659.0" r="1.85"/><circle cx="106.9" cy="659.1" r="1.85"/><circle cx="114.5" cy="671.5" r="1.85"/><circle cx="117.3" cy="669.2" r="1.85"/><circle cx="109.0" cy="672.2" r="1.85"/><circle cx="112.1" cy="674.0" r="1.85"/><circle cx="116.2" cy="682.9" r="1.85"/><circle cx="119.7" cy="682.0" r="1.85"/><circle cx="116.2" cy="685.0" r="1.85"/><circle cx="112.8" cy="685.9" r="1.85"/><circle cx="119.0" cy="694.6" r="1.85"/><circle cx="121.1" cy="697.6" r="1.85"/><circle cx="113.3" cy="697.7" r="1.85"/><circle cx="113.8" cy="701.3" r="1.85"/><circle cx="121.1" cy="706.9" r="1.85"/><circle cx="124.7" cy="706.9" r="1.85"/><circle cx="113.0" cy="710.7" r="1.85"/><circle cx="115.4" cy="713.4" r="1.85"/><circle cx="122.0" cy="720.3" r="1.85"/><circle cx="125.4" cy="721.4" r="1.85"/><circle cx="149.0" cy="569.7" r="1.85"/><circle cx="152.5" cy="570.6" r="1.85"/><circle cx="143.9" cy="574.4" r="1.85"/><circle cx="145.9" cy="577.4" r="1.85"/><circle cx="151.4" cy="582.8" r="1.85"/><circle cx="152.0" cy="586.4" r="1.85"/><circle cx="144.6" cy="590.0" r="1.85"/><circle cx="141.5" cy="591.8" r="1.85"/><circle cx="145.4" cy="602.1" r="1.85"/><circle cx="148.9" cy="602.8" r="1.85"/><circle cx="141.2" cy="606.6" r="1.85"/><circle cx="137.6" cy="606.3" r="1.85"/><circle cx="143.8" cy="617.5" r="1.85"/><circle cx="147.1" cy="616.0" r="1.85"/><circle cx="135.3" cy="618.7" r="1.85"/><circle cx="136.2" cy="622.2" r="1.85"/><circle cx="141.0" cy="626.5" r="1.85"/><circle cx="142.0" cy="629.9" r="1.85"/><circle cx="133.7" cy="636.3" r="1.85"/><circle cx="130.1" cy="636.2" r="1.85"/><circle cx="135.6" cy="642.0" r="1.85"/><circle cx="137.7" cy="644.9" r="1.85"/><circle cx="129.1" cy="650.0" r="1.85"/><circle cx="131.5" cy="652.7" r="1.85"/><circle cx="130.5" cy="662.7" r="1.85"/><circle cx="133.9" cy="661.4" r="1.85"/><circle cx="124.1" cy="662.6" r="1.85"/><circle cx="123.3" cy="666.1" r="1.85"/><circle cx="123.3" cy="677.9" r="1.85"/><circle cx="122.6" cy="681.5" r="1.85"/><circle cx="131.2" cy="686.8" r="1.85"/><circle cx="133.6" cy="689.4" r="1.85"/><circle cx="124.5" cy="692.3" r="1.85"/><circle cx="128.0" cy="693.0" r="1.85"/><circle cx="132.1" cy="704.7" r="1.85"/><circle cx="135.7" cy="704.6" r="1.85"/><circle cx="128.4" cy="703.8" r="1.85"/><circle cx="126.1" cy="706.6" r="1.85"/><circle cx="135.5" cy="718.2" r="1.85"/><circle cx="138.5" cy="716.1" r="1.85"/><circle cx="136.0" cy="725.7" r="1.85"/><circle cx="136.6" cy="729.2" r="1.85"/><circle cx="166.6" cy="558.7" r="1.85"/><circle cx="166.0" cy="562.3" r="1.85"/><circle cx="161.2" cy="564.4" r="1.85"/><circle cx="159.1" cy="567.3" r="1.85"/><circle cx="162.6" cy="575.5" r="1.85"/><circle cx="166.2" cy="575.2" r="1.85"/><circle cx="159.0" cy="579.5" r="1.85"/><circle cx="156.5" cy="582.0" r="1.85"/><circle cx="164.7" cy="588.6" r="1.85"/><circle cx="167.3" cy="591.1" r="1.85"/><circle cx="156.2" cy="593.5" r="1.85"/><circle cx="156.7" cy="597.1" r="1.85"/><circle cx="161.6" cy="599.5" r="1.85"/><circle cx="164.5" cy="601.8" r="1.85"/><circle cx="153.6" cy="608.6" r="1.85"/><circle cx="155.4" cy="611.7" r="1.85"/><circle cx="153.4" cy="623.8" r="1.85"/><circle cx="154.6" cy="627.2" r="1.85"/><circle cx="147.7" cy="639.5" r="1.85"/><circle cx="144.3" cy="638.3" r="1.85"/><circle cx="138.1" cy="653.1" r="1.85"/><circle cx="139.8" cy="656.2" r="1.85"/><circle cx="138.7" cy="671.1" r="1.85"/><circle cx="142.3" cy="671.3" r="1.85"/><circle cx="145.6" cy="681.0" r="1.85"/><circle cx="149.1" cy="681.4" r="1.85"/><circle cx="138.0" cy="683.2" r="1.85"/><circle cx="140.7" cy="685.5" r="1.85"/><circle cx="143.9" cy="692.7" r="1.85"/><circle cx="147.4" cy="691.7" r="1.85"/><circle cx="137.7" cy="696.7" r="1.85"/><circle cx="139.6" cy="699.8" r="1.85"/><circle cx="146.1" cy="707.7" r="1.85"/><circle cx="149.4" cy="709.3" r="1.85"/><circle cx="140.4" cy="713.4" r="1.85"/><circle cx="143.8" cy="714.8" r="1.85"/><circle cx="149.3" cy="723.4" r="1.85"/><circle cx="151.4" cy="720.5" r="1.85"/><circle cx="145.1" cy="724.8" r="1.85"/><circle cx="141.6" cy="725.8" r="1.85"/><circle cx="149.1" cy="731.2" r="1.85"/><circle cx="148.5" cy="734.8" r="1.85"/><circle cx="144.1" cy="734.5" r="1.85"/><circle cx="144.0" cy="738.1" r="1.85"/><circle cx="148.1" cy="748.4" r="1.85"/><circle cx="151.1" cy="746.4" r="1.85"/><circle cx="177.0" cy="565.0" r="1.85"/><circle cx="179.5" cy="562.4" r="1.85"/><circle cx="172.9" cy="569.2" r="1.85"/><circle cx="170.7" cy="572.0" r="1.85"/><circle cx="177.4" cy="578.5" r="1.85"/><circle cx="179.4" cy="581.4" r="1.85"/><circle cx="171.9" cy="582.1" r="1.85"/><circle cx="173.0" cy="585.5" r="1.85"/><circle cx="177.7" cy="589.4" r="1.85"/><circle cx="181.3" cy="590.2" r="1.85"/><circle cx="172.5" cy="597.2" r="1.85"/><circle cx="176.0" cy="598.1" r="1.85"/><circle cx="175.2" cy="603.7" r="1.85"/><circle cx="178.3" cy="605.6" r="1.85"/><circle cx="152.8" cy="685.9" r="1.85"/><circle cx="153.1" cy="689.5" r="1.85"/><circle cx="159.0" cy="695.7" r="1.85"/><circle cx="162.5" cy="694.9" r="1.85"/><circle cx="153.7" cy="699.7" r="1.85"/><circle cx="153.2" cy="703.2" r="1.85"/><circle cx="161.0" cy="709.1" r="1.85"/><circle cx="163.0" cy="706.1" r="1.85"/><circle cx="154.7" cy="715.4" r="1.85"/><circle cx="158.3" cy="715.7" r="1.85"/><circle cx="158.7" cy="724.8" r="1.85"/><circle cx="162.3" cy="724.8" r="1.85"/><circle cx="155.2" cy="728.8" r="1.85"/><circle cx="152.2" cy="730.8" r="1.85"/><circle cx="160.6" cy="736.4" r="1.85"/><circle cx="163.9" cy="735.0" r="1.85"/><circle cx="156.5" cy="739.5" r="1.85"/><circle cx="158.3" cy="742.6" r="1.85"/><circle cx="158.6" cy="749.7" r="1.85"/><circle cx="162.2" cy="749.8" r="1.85"/><circle cx="191.0" cy="553.3" r="1.85"/><circle cx="191.8" cy="556.8" r="1.85"/><circle cx="186.1" cy="559.4" r="1.85"/><circle cx="183.4" cy="561.8" r="1.85"/><circle cx="189.7" cy="568.3" r="1.85"/><circle cx="193.1" cy="567.3" r="1.85"/><circle cx="183.1" cy="571.7" r="1.85"/><circle cx="182.0" cy="575.1" r="1.85"/><circle cx="187.3" cy="584.6" r="1.85"/><circle cx="184.8" cy="587.2" r="1.85"/><circle cx="192.5" cy="590.2" r="1.85"/><circle cx="194.4" cy="593.2" r="1.85"/><circle cx="187.3" cy="598.1" r="1.85"/><circle cx="183.7" cy="598.4" r="1.85"/><circle cx="190.1" cy="606.5" r="1.85"/><circle cx="193.5" cy="605.3" r="1.85"/><circle cx="168.5" cy="702.0" r="1.85"/><circle cx="170.8" cy="704.7" r="1.85"/><circle cx="173.6" cy="709.1" r="1.85"/><circle cx="177.1" cy="709.8" r="1.85"/><circle cx="169.2" cy="715.8" r="1.85"/><circle cx="167.2" cy="718.7" r="1.85"/><circle cx="173.2" cy="725.6" r="1.85"/><circle cx="176.8" cy="726.1" r="1.85"/><circle cx="168.6" cy="729.0" r="1.85"/><circle cx="166.6" cy="732.0" r="1.85"/><circle cx="172.9" cy="734.0" r="1.85"/><circle cx="175.3" cy="736.7" r="1.85"/><circle cx="166.2" cy="741.5" r="1.85"/><circle cx="168.6" cy="744.1" r="1.85"/><circle cx="170.6" cy="751.8" r="1.85"/><circle cx="173.1" cy="749.3" r="1.85"/><circle cx="198.8" cy="557.8" r="1.85"/><circle cx="198.5" cy="561.4" r="1.85"/><circle cx="204.8" cy="566.2" r="1.85"/><circle cx="207.9" cy="564.4" r="1.85"/><circle cx="200.7" cy="571.7" r="1.85"/><circle cx="197.7" cy="573.7" r="1.85"/><circle cx="204.4" cy="580.3" r="1.85"/><circle cx="207.1" cy="577.9" r="1.85"/><circle cx="198.1" cy="582.6" r="1.85"/><circle cx="198.7" cy="586.1" r="1.85"/><circle cx="209.1" cy="586.6" r="1.85"/><circle cx="211.4" cy="589.4" r="1.85"/><circle cx="206.6" cy="603.0" r="1.85"/><circle cx="206.8" cy="606.6" r="1.85"/><circle cx="186.8" cy="706.8" r="1.85"/><circle cx="190.4" cy="706.9" r="1.85"/><circle cx="180.5" cy="713.3" r="1.85"/><circle cx="179.5" cy="716.7" r="1.85"/><circle cx="188.4" cy="722.7" r="1.85"/><circle cx="189.9" cy="719.4" r="1.85"/><circle cx="182.5" cy="729.6" r="1.85"/><circle cx="185.5" cy="731.7" r="1.85"/><circle cx="187.1" cy="736.1" r="1.85"/><circle cx="190.7" cy="735.8" r="1.85"/><circle cx="181.8" cy="744.0" r="1.85"/><circle cx="178.3" cy="743.5" r="1.85"/><circle cx="218.6" cy="566.8" r="1.85"/><circle cx="220.1" cy="563.6" r="1.85"/><circle cx="213.6" cy="570.4" r="1.85"/><circle cx="211.8" cy="573.5" r="1.85"/><circle cx="220.6" cy="580.3" r="1.85"/><circle cx="223.1" cy="577.8" r="1.85"/><circle cx="214.3" cy="585.5" r="1.85"/><circle cx="217.6" cy="584.1" r="1.85"/><circle cx="223.4" cy="594.3" r="1.85"/><circle cx="226.2" cy="592.1" r="1.85"/><circle cx="218.2" cy="598.3" r="1.85"/><circle cx="214.6" cy="598.3" r="1.85"/><circle cx="224.2" cy="607.1" r="1.85"/><circle cx="225.5" cy="603.7" r="1.85"/><circle cx="201.7" cy="703.3" r="1.85"/><circle cx="204.3" cy="705.8" r="1.85"/><circle cx="198.8" cy="717.4" r="1.85"/><circle cx="202.0" cy="719.1" r="1.85"/><circle cx="195.4" cy="726.2" r="1.85"/><circle cx="192.4" cy="728.2" r="1.85"/><circle cx="200.3" cy="734.4" r="1.85"/><circle cx="202.9" cy="736.8" r="1.85"/><circle cx="232.4" cy="554.2" r="1.85"/><circle cx="234.9" cy="551.6" r="1.85"/><circle cx="226.8" cy="557.5" r="1.85"/><circle cx="227.2" cy="561.1" r="1.85"/><circle cx="234.2" cy="565.9" r="1.85"/><circle cx="237.6" cy="567.2" r="1.85"/><circle cx="227.5" cy="571.5" r="1.85"/><circle cx="230.7" cy="573.2" r="1.85"/><circle cx="232.8" cy="586.2" r="1.85"/><circle cx="229.3" cy="587.1" r="1.85"/><circle cx="238.2" cy="596.7" r="1.85"/><circle cx="241.8" cy="596.7" r="1.85"/><circle cx="233.6" cy="599.6" r="1.85"/><circle cx="232.9" cy="603.1" r="1.85"/><circle cx="240.4" cy="605.9" r="1.85"/><circle cx="241.9" cy="609.2" r="1.85"/><circle cx="236.7" cy="612.6" r="1.85"/><circle cx="233.1" cy="612.8" r="1.85"/><circle cx="236.2" cy="623.5" r="1.85"/><circle cx="239.5" cy="622.0" r="1.85"/><circle cx="230.5" cy="622.2" r="1.85"/><circle cx="227.6" cy="624.4" r="1.85"/><circle cx="232.7" cy="632.8" r="1.85"/><circle cx="235.8" cy="634.6" r="1.85"/><circle cx="214.2" cy="706.7" r="1.85"/><circle cx="214.4" cy="703.1" r="1.85"/><circle cx="208.4" cy="710.5" r="1.85"/><circle cx="206.7" cy="713.7" r="1.85"/><circle cx="215.7" cy="719.2" r="1.85"/><circle cx="217.3" cy="716.0" r="1.85"/><circle cx="204.7" cy="725.8" r="1.85"/><circle cx="207.8" cy="727.6" r="1.85"/><circle cx="212.7" cy="734.1" r="1.85"/><circle cx="215.7" cy="736.0" r="1.85"/><circle cx="207.1" cy="742.7" r="1.85"/><circle cx="209.2" cy="745.6" r="1.85"/><circle cx="213.2" cy="752.3" r="1.85"/><circle cx="216.3" cy="750.5" r="1.85"/><circle cx="238.7" cy="558.7" r="1.85"/><circle cx="241.8" cy="560.6" r="1.85"/><circle cx="243.8" cy="573.5" r="1.85"/><circle cx="243.3" cy="577.1" r="1.85"/><circle cx="252.9" cy="583.2" r="1.85"/><circle cx="253.6" cy="586.8" r="1.85"/><circle cx="246.8" cy="590.2" r="1.85"/><circle cx="249.3" cy="592.8" r="1.85"/><circle cx="255.3" cy="599.0" r="1.85"/><circle cx="258.4" cy="600.7" r="1.85"/><circle cx="249.1" cy="604.4" r="1.85"/><circle cx="248.8" cy="607.9" r="1.85"/><circle cx="254.0" cy="615.2" r="1.85"/><circle cx="257.4" cy="616.6" r="1.85"/><circle cx="246.1" cy="616.6" r="1.85"/><circle cx="245.4" cy="620.2" r="1.85"/><circle cx="251.6" cy="627.6" r="1.85"/><circle cx="254.8" cy="625.9" r="1.85"/><circle cx="243.0" cy="629.8" r="1.85"/><circle cx="246.3" cy="631.3" r="1.85"/><circle cx="248.1" cy="641.0" r="1.85"/><circle cx="251.5" cy="639.8" r="1.85"/><circle cx="241.9" cy="643.7" r="1.85"/><circle cx="238.3" cy="644.1" r="1.85"/><circle cx="240.6" cy="650.1" r="1.85"/><circle cx="242.9" cy="652.8" r="1.85"/><circle cx="229.3" cy="675.0" r="1.85"/><circle cx="232.6" cy="676.5" r="1.85"/><circle cx="225.6" cy="681.9" r="1.85"/><circle cx="222.0" cy="681.8" r="1.85"/><circle cx="227.4" cy="689.8" r="1.85"/><circle cx="230.4" cy="687.8" r="1.85"/><circle cx="222.7" cy="694.8" r="1.85"/><circle cx="222.1" cy="698.3" r="1.85"/><circle cx="225.7" cy="708.2" r="1.85"/><circle cx="229.2" cy="709.0" r="1.85"/><circle cx="223.6" cy="711.0" r="1.85"/><circle cx="220.2" cy="712.2" r="1.85"/><circle cx="227.2" cy="720.6" r="1.85"/><circle cx="230.7" cy="719.5" r="1.85"/><circle cx="223.4" cy="725.1" r="1.85"/><circle cx="222.0" cy="728.4" r="1.85"/><circle cx="229.0" cy="736.8" r="1.85"/><circle cx="230.7" cy="739.9" r="1.85"/><circle cx="220.8" cy="742.6" r="1.85"/><circle cx="223.9" cy="744.3" r="1.85"/><circle cx="267.8" cy="589.7" r="1.85"/><circle cx="270.2" cy="592.4" r="1.85"/><circle cx="263.1" cy="592.9" r="1.85"/><circle cx="263.1" cy="596.5" r="1.85"/><circle cx="268.4" cy="603.6" r="1.85"/><circle cx="270.6" cy="606.5" r="1.85"/><circle cx="262.9" cy="607.5" r="1.85"/><circle cx="261.4" cy="610.8" r="1.85"/><circle cx="269.0" cy="618.6" r="1.85"/><circle cx="270.1" cy="622.1" r="1.85"/><circle cx="262.9" cy="623.5" r="1.85"/><circle cx="260.7" cy="626.3" r="1.85"/><circle cx="261.7" cy="634.1" r="1.85"/><circle cx="265.3" cy="633.6" r="1.85"/><circle cx="258.7" cy="634.6" r="1.85"/><circle cx="255.7" cy="636.5" r="1.85"/><circle cx="259.9" cy="641.7" r="1.85"/><circle cx="259.7" cy="645.3" r="1.85"/><circle cx="250.2" cy="644.0" r="1.85"/><circle cx="252.4" cy="646.9" r="1.85"/><circle cx="253.3" cy="652.0" r="1.85"/><circle cx="251.8" cy="655.3" r="1.85"/><circle cx="246.3" cy="657.4" r="1.85"/><circle cx="242.9" cy="658.6" r="1.85"/><circle cx="247.4" cy="667.3" r="1.85"/><circle cx="250.1" cy="669.7" r="1.85"/><circle cx="242.9" cy="670.3" r="1.85"/><circle cx="240.4" cy="672.9" r="1.85"/><circle cx="241.0" cy="680.3" r="1.85"/><circle cx="244.2" cy="678.7" r="1.85"/><circle cx="240.2" cy="690.6" r="1.85"/><circle cx="243.4" cy="692.3" r="1.85"/><circle cx="235.5" cy="697.6" r="1.85"/><circle cx="238.1" cy="700.0" r="1.85"/><circle cx="243.5" cy="710.9" r="1.85"/><circle cx="245.0" cy="707.7" r="1.85"/><circle cx="235.8" cy="712.3" r="1.85"/><circle cx="237.5" cy="715.4" r="1.85"/><circle cx="238.2" cy="729.6" r="1.85"/><circle cx="234.7" cy="730.3" r="1.85"/><circle cx="277.8" cy="599.3" r="1.85"/><circle cx="279.0" cy="602.7" r="1.85"/><circle cx="274.0" cy="615.7" r="1.85"/><circle cx="277.5" cy="616.6" r="1.85"/><circle cx="279.6" cy="625.3" r="1.85"/><circle cx="283.1" cy="625.7" r="1.85"/><circle cx="273.4" cy="630.4" r="1.85"/><circle cx="270.1" cy="629.2" r="1.85"/><circle cx="274.5" cy="640.2" r="1.85"/><circle cx="277.2" cy="637.7" r="1.85"/><circle cx="266.0" cy="641.7" r="1.85"/><circle cx="267.9" cy="644.8" r="1.85"/><circle cx="271.3" cy="648.0" r="1.85"/><circle cx="272.8" cy="651.3" r="1.85"/><circle cx="263.2" cy="663.4" r="1.85"/><circle cx="266.7" cy="662.5" r="1.85"/><circle cx="259.7" cy="663.9" r="1.85"/><circle cx="256.1" cy="664.1" r="1.85"/><circle cx="258.1" cy="672.4" r="1.85"/><circle cx="261.5" cy="673.7" r="1.85"/><circle cx="255.1" cy="676.5" r="1.85"/><circle cx="251.6" cy="677.5" r="1.85"/><circle cx="253.7" cy="687.5" r="1.85"/><circle cx="256.0" cy="684.6" r="1.85"/><circle cx="246.6" cy="687.6" r="1.85"/><circle cx="249.5" cy="689.7" r="1.85"/><circle cx="252.8" cy="697.0" r="1.85"/><circle cx="252.7" cy="700.6" r="1.85"/><circle cx="245.8" cy="703.3" r="1.85"/><circle cx="249.4" cy="703.1" r="1.85"/><circle cx="289.6" cy="618.4" r="1.85"/><circle cx="286.0" cy="618.5" r="1.85"/><circle cx="284.0" cy="630.7" r="1.85"/><circle cx="285.3" cy="634.1" r="1.85"/><circle cx="279.2" cy="645.2" r="1.85"/><circle cx="281.4" cy="648.0" r="1.85"/><circle cx="273.0" cy="658.0" r="1.85"/><circle cx="274.8" cy="661.1" r="1.85"/><circle cx="275.5" cy="669.2" r="1.85"/><circle cx="277.2" cy="666.0" r="1.85"/><circle cx="270.0" cy="679.9" r="1.85"/><circle cx="273.5" cy="680.6" r="1.85"/><circle cx="265.3" cy="680.8" r="1.85"/><circle cx="262.8" cy="683.4" r="1.85"/><circle cx="267.7" cy="693.8" r="1.85"/><circle cx="269.1" cy="690.5" r="1.85"/><circle cx="260.5" cy="694.0" r="1.85"/><circle cx="261.4" cy="697.5" r="1.85"/><circle cx="268.0" cy="708.1" r="1.85"/><circle cx="270.3" cy="705.3" r="1.85"/><circle cx="279.0" cy="674.4" r="1.85"/><circle cx="279.2" cy="678.0" r="1.85"/><circle cx="284.9" cy="685.4" r="1.85"/><circle cx="285.9" cy="681.9" r="1.85"/><circle cx="278.3" cy="687.7" r="1.85"/><circle cx="275.7" cy="690.2" r="1.85"/><circle cx="283.5" cy="695.7" r="1.85"/><circle cx="283.2" cy="699.3" r="1.85"/><circle cx="278.7" cy="700.3" r="1.85"/><circle cx="275.7" cy="702.2" r="1.85"/><circle cx="291.6" cy="691.8" r="1.85"/><circle cx="288.0" cy="691.1" r="1.85"/></g>
<g fill="none" stroke="#0e8d3f" stroke-width="0.65"><circle cx="452.7" cy="593.4" r="1.45"/><circle cx="454.0" cy="596.1" r="1.45"/><circle cx="455.3" cy="598.9" r="1.45"/><circle cx="449.8" cy="594.1" r="1.45"/><circle cx="446.9" cy="594.8" r="1.45"/><circle cx="452.0" cy="590.5" r="1.45"/><circle cx="451.2" cy="587.6" r="1.45"/><circle cx="455.6" cy="592.6" r="1.45"/><circle cx="458.5" cy="591.8" r="1.45"/><circle cx="508.5" cy="557.3" r="1.45"/><circle cx="511.0" cy="558.9" r="1.45"/><circle cx="513.5" cy="560.5" r="1.45"/><circle cx="506.7" cy="559.7" r="1.45"/><circle cx="505.0" cy="562.2" r="1.45"/><circle cx="505.7" cy="556.2" r="1.45"/><circle cx="502.9" cy="555.0" r="1.45"/><circle cx="509.7" cy="554.6" r="1.45"/><circle cx="510.9" cy="551.8" r="1.45"/><circle cx="496.3" cy="563.7" r="1.45"/><circle cx="498.0" cy="566.1" r="1.45"/><circle cx="499.7" cy="568.5" r="1.45"/><circle cx="494.1" cy="565.8" r="1.45"/><circle cx="492.0" cy="567.9" r="1.45"/><circle cx="494.4" cy="561.3" r="1.45"/><circle cx="492.6" cy="558.9" r="1.45"/><circle cx="498.9" cy="562.2" r="1.45"/><circle cx="501.6" cy="560.8" r="1.45"/><circle cx="483.0" cy="576.9" r="1.45"/><circle cx="484.6" cy="579.5" r="1.45"/><circle cx="486.2" cy="582.0" r="1.45"/><circle cx="480.3" cy="578.3" r="1.45"/><circle cx="477.7" cy="579.7" r="1.45"/><circle cx="481.9" cy="574.2" r="1.45"/><circle cx="480.8" cy="571.4" r="1.45"/><circle cx="485.6" cy="575.3" r="1.45"/><circle cx="488.1" cy="573.7" r="1.45"/><circle cx="472.2" cy="584.8" r="1.45"/><circle cx="474.4" cy="586.8" r="1.45"/><circle cx="476.7" cy="588.8" r="1.45"/><circle cx="470.7" cy="587.4" r="1.45"/><circle cx="469.2" cy="590.0" r="1.45"/><circle cx="469.6" cy="583.3" r="1.45"/><circle cx="466.9" cy="581.9" r="1.45"/><circle cx="474.0" cy="582.4" r="1.45"/><circle cx="475.9" cy="580.1" r="1.45"/><circle cx="463.4" cy="602.5" r="1.45"/><circle cx="466.0" cy="604.1" r="1.45"/><circle cx="468.5" cy="605.7" r="1.45"/><circle cx="461.8" cy="605.0" r="1.45"/><circle cx="460.2" cy="607.6" r="1.45"/><circle cx="461.0" cy="600.7" r="1.45"/><circle cx="458.6" cy="598.9" r="1.45"/><circle cx="465.1" cy="600.0" r="1.45"/><circle cx="466.8" cy="597.5" r="1.45"/><circle cx="456.7" cy="612.7" r="1.45"/><circle cx="457.9" cy="615.4" r="1.45"/><circle cx="459.1" cy="618.2" r="1.45"/><circle cx="454.0" cy="614.0" r="1.45"/><circle cx="451.3" cy="615.4" r="1.45"/><circle cx="455.7" cy="609.8" r="1.45"/><circle cx="454.8" cy="607.0" r="1.45"/><circle cx="459.3" cy="611.1" r="1.45"/><circle cx="461.8" cy="609.6" r="1.45"/><circle cx="445.3" cy="629.3" r="1.45"/><circle cx="447.8" cy="631.0" r="1.45"/><circle cx="450.2" cy="632.7" r="1.45"/><circle cx="443.9" cy="631.9" r="1.45"/><circle cx="442.4" cy="634.6" r="1.45"/><circle cx="442.8" cy="627.6" r="1.45"/><circle cx="440.3" cy="626.0" r="1.45"/><circle cx="447.1" cy="626.9" r="1.45"/><circle cx="449.0" cy="624.6" r="1.45"/><circle cx="438.7" cy="640.8" r="1.45"/><circle cx="440.6" cy="643.1" r="1.45"/><circle cx="442.5" cy="645.4" r="1.45"/><circle cx="436.3" cy="642.5" r="1.45"/><circle cx="433.8" cy="644.3" r="1.45"/><circle cx="436.8" cy="638.4" r="1.45"/><circle cx="435.0" cy="636.0" r="1.45"/><circle cx="441.0" cy="638.9" r="1.45"/><circle cx="443.4" cy="637.0" r="1.45"/><circle cx="540.7" cy="554.7" r="1.45"/><circle cx="543.2" cy="556.4" r="1.45"/><circle cx="545.7" cy="558.1" r="1.45"/><circle cx="539.1" cy="557.2" r="1.45"/><circle cx="537.4" cy="559.7" r="1.45"/><circle cx="537.9" cy="553.5" r="1.45"/><circle cx="535.2" cy="552.3" r="1.45"/><circle cx="541.9" cy="551.9" r="1.45"/><circle cx="543.0" cy="549.1" r="1.45"/><circle cx="528.1" cy="562.5" r="1.45"/><circle cx="529.6" cy="565.0" r="1.45"/><circle cx="531.2" cy="567.6" r="1.45"/><circle cx="525.8" cy="564.4" r="1.45"/><circle cx="523.5" cy="566.3" r="1.45"/><circle cx="526.4" cy="560.0" r="1.45"/><circle cx="524.6" cy="557.6" r="1.45"/><circle cx="530.4" cy="560.5" r="1.45"/><circle cx="532.7" cy="558.6" r="1.45"/><circle cx="516.8" cy="570.0" r="1.45"/><circle cx="518.3" cy="572.7" r="1.45"/><circle cx="519.7" cy="575.3" r="1.45"/><circle cx="514.1" cy="571.2" r="1.45"/><circle cx="511.3" cy="572.3" r="1.45"/><circle cx="515.6" cy="567.3" r="1.45"/><circle cx="514.4" cy="564.5" r="1.45"/><circle cx="519.6" cy="568.8" r="1.45"/><circle cx="522.3" cy="567.6" r="1.45"/><circle cx="504.6" cy="575.4" r="1.45"/><circle cx="506.3" cy="577.9" r="1.45"/><circle cx="508.0" cy="580.4" r="1.45"/><circle cx="502.4" cy="577.5" r="1.45"/><circle cx="500.2" cy="579.6" r="1.45"/><circle cx="502.5" cy="573.2" r="1.45"/><circle cx="500.5" cy="571.0" r="1.45"/><circle cx="506.6" cy="573.2" r="1.45"/><circle cx="508.7" cy="571.0" r="1.45"/><circle cx="492.9" cy="584.5" r="1.45"/><circle cx="495.4" cy="586.1" r="1.45"/><circle cx="497.9" cy="587.8" r="1.45"/><circle cx="491.4" cy="587.1" r="1.45"/><circle cx="490.0" cy="589.8" r="1.45"/><circle cx="490.1" cy="583.4" r="1.45"/><circle cx="487.4" cy="582.2" r="1.45"/><circle cx="494.7" cy="582.1" r="1.45"/><circle cx="496.4" cy="579.7" r="1.45"/><circle cx="482.5" cy="597.7" r="1.45"/><circle cx="484.9" cy="599.6" r="1.45"/><circle cx="487.3" cy="601.4" r="1.45"/><circle cx="480.7" cy="600.1" r="1.45"/><circle cx="478.9" cy="602.5" r="1.45"/><circle cx="480.3" cy="595.7" r="1.45"/><circle cx="478.2" cy="593.6" r="1.45"/><circle cx="484.1" cy="595.2" r="1.45"/><circle cx="485.7" cy="592.7" r="1.45"/><circle cx="472.1" cy="608.0" r="1.45"/><circle cx="474.0" cy="610.4" r="1.45"/><circle cx="475.8" cy="612.8" r="1.45"/><circle cx="470.1" cy="610.2" r="1.45"/><circle cx="468.1" cy="612.4" r="1.45"/><circle cx="469.8" cy="606.1" r="1.45"/><circle cx="467.5" cy="604.2" r="1.45"/><circle cx="474.2" cy="605.8" r="1.45"/><circle cx="476.2" cy="603.6" r="1.45"/><circle cx="463.0" cy="624.9" r="1.45"/><circle cx="465.1" cy="627.1" r="1.45"/><circle cx="467.2" cy="629.2" r="1.45"/><circle cx="461.0" cy="627.2" r="1.45"/><circle cx="459.1" cy="629.5" r="1.45"/><circle cx="460.7" cy="622.9" r="1.45"/><circle cx="458.5" cy="620.9" r="1.45"/><circle cx="464.7" cy="622.5" r="1.45"/><circle cx="466.5" cy="620.1" r="1.45"/><circle cx="454.1" cy="638.2" r="1.45"/><circle cx="456.3" cy="640.1" r="1.45"/><circle cx="458.6" cy="642.1" r="1.45"/><circle cx="452.4" cy="640.7" r="1.45"/><circle cx="450.8" cy="643.2" r="1.45"/><circle cx="452.2" cy="635.8" r="1.45"/><circle cx="450.3" cy="633.5" r="1.45"/><circle cx="455.8" cy="635.7" r="1.45"/><circle cx="457.6" cy="633.3" r="1.45"/><circle cx="449.2" cy="650.1" r="1.45"/><circle cx="451.3" cy="652.2" r="1.45"/><circle cx="453.5" cy="654.3" r="1.45"/><circle cx="447.5" cy="652.5" r="1.45"/><circle cx="445.7" cy="654.9" r="1.45"/><circle cx="446.9" cy="648.2" r="1.45"/><circle cx="444.5" cy="646.3" r="1.45"/><circle cx="450.8" cy="647.5" r="1.45"/><circle cx="452.3" cy="644.9" r="1.45"/><circle cx="439.8" cy="660.9" r="1.45"/><circle cx="441.7" cy="663.2" r="1.45"/><circle cx="443.7" cy="665.5" r="1.45"/><circle cx="438.3" cy="663.5" r="1.45"/><circle cx="436.7" cy="666.1" r="1.45"/><circle cx="437.3" cy="659.2" r="1.45"/><circle cx="434.9" cy="657.5" r="1.45"/><circle cx="441.7" cy="658.6" r="1.45"/><circle cx="443.7" cy="656.3" r="1.45"/><circle cx="553.1" cy="560.5" r="1.45"/><circle cx="555.4" cy="562.5" r="1.45"/><circle cx="557.7" cy="564.5" r="1.45"/><circle cx="551.1" cy="562.7" r="1.45"/><circle cx="549.0" cy="564.9" r="1.45"/><circle cx="551.1" cy="558.4" r="1.45"/><circle cx="549.0" cy="556.2" r="1.45"/><circle cx="555.6" cy="558.8" r="1.45"/><circle cx="558.0" cy="557.1" r="1.45"/><circle cx="544.7" cy="570.1" r="1.45"/><circle cx="547.0" cy="572.0" r="1.45"/><circle cx="549.4" cy="573.9" r="1.45"/><circle cx="542.5" cy="572.2" r="1.45"/><circle cx="540.3" cy="574.2" r="1.45"/><circle cx="542.8" cy="567.8" r="1.45"/><circle cx="540.8" cy="565.5" r="1.45"/><circle cx="546.4" cy="567.7" r="1.45"/><circle cx="548.1" cy="565.2" r="1.45"/><circle cx="532.1" cy="575.8" r="1.45"/><circle cx="533.8" cy="578.3" r="1.45"/><circle cx="535.5" cy="580.8" r="1.45"/><circle cx="529.8" cy="577.7" r="1.45"/><circle cx="527.4" cy="579.6" r="1.45"/><circle cx="530.5" cy="573.3" r="1.45"/><circle cx="529.0" cy="570.7" r="1.45"/><circle cx="534.7" cy="574.3" r="1.45"/><circle cx="537.3" cy="572.8" r="1.45"/><circle cx="521.2" cy="581.0" r="1.45"/><circle cx="522.4" cy="583.8" r="1.45"/><circle cx="523.6" cy="586.5" r="1.45"/><circle cx="518.6" cy="582.6" r="1.45"/><circle cx="516.0" cy="584.1" r="1.45"/><circle cx="520.1" cy="578.3" r="1.45"/><circle cx="519.0" cy="575.5" r="1.45"/><circle cx="524.0" cy="580.0" r="1.45"/><circle cx="526.8" cy="579.1" r="1.45"/><circle cx="509.2" cy="588.6" r="1.45"/><circle cx="511.5" cy="590.7" r="1.45"/><circle cx="513.7" cy="592.7" r="1.45"/><circle cx="507.4" cy="591.0" r="1.45"/><circle cx="505.5" cy="593.4" r="1.45"/><circle cx="507.1" cy="586.5" r="1.45"/><circle cx="505.0" cy="584.4" r="1.45"/><circle cx="511.2" cy="586.4" r="1.45"/><circle cx="513.2" cy="584.2" r="1.45"/><circle cx="500.2" cy="594.6" r="1.45"/><circle cx="501.5" cy="597.3" r="1.45"/><circle cx="502.9" cy="599.9" r="1.45"/><circle cx="497.8" cy="596.4" r="1.45"/><circle cx="495.4" cy="598.2" r="1.45"/><circle cx="498.5" cy="592.1" r="1.45"/><circle cx="496.8" cy="589.6" r="1.45"/><circle cx="502.7" cy="592.9" r="1.45"/><circle cx="505.2" cy="591.3" r="1.45"/><circle cx="489.3" cy="605.2" r="1.45"/><circle cx="491.9" cy="606.6" r="1.45"/><circle cx="494.6" cy="608.0" r="1.45"/><circle cx="487.8" cy="607.8" r="1.45"/><circle cx="486.3" cy="610.3" r="1.45"/><circle cx="486.6" cy="603.8" r="1.45"/><circle cx="483.9" cy="602.4" r="1.45"/><circle cx="491.1" cy="602.7" r="1.45"/><circle cx="492.8" cy="600.3" r="1.45"/><circle cx="478.9" cy="621.2" r="1.45"/><circle cx="481.5" cy="622.8" r="1.45"/><circle cx="484.0" cy="624.4" r="1.45"/><circle cx="477.6" cy="624.0" r="1.45"/><circle cx="476.4" cy="626.7" r="1.45"/><circle cx="476.6" cy="619.3" r="1.45"/><circle cx="474.3" cy="617.3" r="1.45"/><circle cx="480.5" cy="618.7" r="1.45"/><circle cx="482.1" cy="616.2" r="1.45"/><circle cx="473.3" cy="636.9" r="1.45"/><circle cx="475.3" cy="639.1" r="1.45"/><circle cx="477.4" cy="641.3" r="1.45"/><circle cx="471.4" cy="639.3" r="1.45"/><circle cx="469.6" cy="641.6" r="1.45"/><circle cx="471.1" cy="634.8" r="1.45"/><circle cx="469.0" cy="632.8" r="1.45"/><circle cx="475.3" cy="634.6" r="1.45"/><circle cx="477.2" cy="632.4" r="1.45"/><circle cx="464.5" cy="648.8" r="1.45"/><circle cx="466.7" cy="650.8" r="1.45"/><circle cx="469.0" cy="652.7" r="1.45"/><circle cx="462.8" cy="651.2" r="1.45"/><circle cx="461.0" cy="653.7" r="1.45"/><circle cx="461.9" cy="647.3" r="1.45"/><circle cx="459.3" cy="645.7" r="1.45"/><circle cx="466.3" cy="646.4" r="1.45"/><circle cx="468.1" cy="644.0" r="1.45"/><circle cx="458.3" cy="665.6" r="1.45"/><circle cx="460.4" cy="667.8" r="1.45"/><circle cx="462.4" cy="670.0" r="1.45"/><circle cx="455.9" cy="667.4" r="1.45"/><circle cx="453.4" cy="669.1" r="1.45"/><circle cx="456.7" cy="663.1" r="1.45"/><circle cx="455.2" cy="660.5" r="1.45"/><circle cx="460.1" cy="663.2" r="1.45"/><circle cx="461.9" cy="660.8" r="1.45"/><circle cx="447.0" cy="674.9" r="1.45"/><circle cx="449.2" cy="677.0" r="1.45"/><circle cx="451.3" cy="679.2" r="1.45"/><circle cx="444.8" cy="676.9" r="1.45"/><circle cx="442.5" cy="678.9" r="1.45"/><circle cx="445.3" cy="672.5" r="1.45"/><circle cx="443.5" cy="670.1" r="1.45"/><circle cx="449.3" cy="672.9" r="1.45"/><circle cx="451.5" cy="670.9" r="1.45"/><circle cx="436.0" cy="682.1" r="1.45"/><circle cx="437.7" cy="684.6" r="1.45"/><circle cx="439.4" cy="687.0" r="1.45"/><circle cx="433.4" cy="683.6" r="1.45"/><circle cx="430.8" cy="685.1" r="1.45"/><circle cx="434.8" cy="679.4" r="1.45"/><circle cx="433.6" cy="676.6" r="1.45"/><circle cx="438.7" cy="680.9" r="1.45"/><circle cx="441.5" cy="679.7" r="1.45"/><circle cx="563.1" cy="570.0" r="1.45"/><circle cx="565.0" cy="572.3" r="1.45"/><circle cx="567.0" cy="574.6" r="1.45"/><circle cx="560.5" cy="571.4" r="1.45"/><circle cx="557.9" cy="572.9" r="1.45"/><circle cx="561.3" cy="567.6" r="1.45"/><circle cx="559.5" cy="565.2" r="1.45"/><circle cx="565.7" cy="568.4" r="1.45"/><circle cx="568.3" cy="566.9" r="1.45"/><circle cx="551.1" cy="577.7" r="1.45"/><circle cx="552.7" cy="580.2" r="1.45"/><circle cx="554.3" cy="582.8" r="1.45"/><circle cx="548.6" cy="579.4" r="1.45"/><circle cx="546.1" cy="581.1" r="1.45"/><circle cx="549.4" cy="575.2" r="1.45"/><circle cx="547.8" cy="572.7" r="1.45"/><circle cx="553.5" cy="575.9" r="1.45"/><circle cx="555.8" cy="574.0" r="1.45"/><circle cx="538.5" cy="584.9" r="1.45"/><circle cx="540.5" cy="587.1" r="1.45"/><circle cx="542.5" cy="589.4" r="1.45"/><circle cx="536.5" cy="587.0" r="1.45"/><circle cx="534.4" cy="589.2" r="1.45"/><circle cx="536.2" cy="583.0" r="1.45"/><circle cx="533.9" cy="581.0" r="1.45"/><circle cx="540.9" cy="583.1" r="1.45"/><circle cx="543.4" cy="581.3" r="1.45"/><circle cx="529.9" cy="593.6" r="1.45"/><circle cx="532.3" cy="595.4" r="1.45"/><circle cx="534.7" cy="597.2" r="1.45"/><circle cx="528.1" cy="596.0" r="1.45"/><circle cx="526.2" cy="598.4" r="1.45"/><circle cx="527.4" cy="591.9" r="1.45"/><circle cx="524.9" cy="590.2" r="1.45"/><circle cx="531.9" cy="591.4" r="1.45"/><circle cx="533.8" cy="589.1" r="1.45"/><circle cx="516.0" cy="598.5" r="1.45"/><circle cx="518.6" cy="599.9" r="1.45"/><circle cx="521.3" cy="601.2" r="1.45"/><circle cx="514.1" cy="600.9" r="1.45"/><circle cx="512.2" cy="603.2" r="1.45"/><circle cx="513.5" cy="596.9" r="1.45"/><circle cx="511.0" cy="595.2" r="1.45"/><circle cx="518.0" cy="596.4" r="1.45"/><circle cx="520.1" cy="594.2" r="1.45"/><circle cx="505.4" cy="608.2" r="1.45"/><circle cx="507.3" cy="610.6" r="1.45"/><circle cx="509.1" cy="612.9" r="1.45"/><circle cx="503.3" cy="610.3" r="1.45"/><circle cx="501.1" cy="612.4" r="1.45"/><circle cx="503.5" cy="605.9" r="1.45"/><circle cx="501.6" cy="603.6" r="1.45"/><circle cx="507.5" cy="606.0" r="1.45"/><circle cx="509.5" cy="603.8" r="1.45"/><circle cx="490.5" cy="632.5" r="1.45"/><circle cx="493.2" cy="633.9" r="1.45"/><circle cx="495.8" cy="635.3" r="1.45"/><circle cx="489.3" cy="635.3" r="1.45"/><circle cx="488.2" cy="638.0" r="1.45"/><circle cx="488.0" cy="630.9" r="1.45"/><circle cx="485.4" cy="629.3" r="1.45"/><circle cx="492.1" cy="630.0" r="1.45"/><circle cx="493.7" cy="627.4" r="1.45"/><circle cx="486.3" cy="649.4" r="1.45"/><circle cx="487.7" cy="652.1" r="1.45"/><circle cx="489.0" cy="654.8" r="1.45"/><circle cx="484.1" cy="651.4" r="1.45"/><circle cx="481.8" cy="653.3" r="1.45"/><circle cx="484.4" cy="647.1" r="1.45"/><circle cx="482.5" cy="644.8" r="1.45"/><circle cx="488.3" cy="647.2" r="1.45"/><circle cx="490.3" cy="644.9" r="1.45"/><circle cx="475.6" cy="663.6" r="1.45"/><circle cx="477.9" cy="665.5" r="1.45"/><circle cx="480.1" cy="667.5" r="1.45"/><circle cx="473.6" cy="665.8" r="1.45"/><circle cx="471.6" cy="668.0" r="1.45"/><circle cx="473.7" cy="661.2" r="1.45"/><circle cx="471.9" cy="658.9" r="1.45"/><circle cx="477.7" cy="661.4" r="1.45"/><circle cx="479.7" cy="659.1" r="1.45"/><circle cx="467.9" cy="672.2" r="1.45"/><circle cx="470.5" cy="673.8" r="1.45"/><circle cx="473.1" cy="675.3" r="1.45"/><circle cx="466.9" cy="675.1" r="1.45"/><circle cx="466.0" cy="677.9" r="1.45"/><circle cx="465.2" cy="671.0" r="1.45"/><circle cx="462.5" cy="669.7" r="1.45"/><circle cx="469.5" cy="669.7" r="1.45"/><circle cx="471.1" cy="667.1" r="1.45"/><circle cx="458.8" cy="687.7" r="1.45"/><circle cx="460.7" cy="690.0" r="1.45"/><circle cx="462.6" cy="692.4" r="1.45"/><circle cx="456.6" cy="689.8" r="1.45"/><circle cx="454.3" cy="691.8" r="1.45"/><circle cx="456.9" cy="685.4" r="1.45"/><circle cx="455.1" cy="683.0" r="1.45"/><circle cx="460.5" cy="685.3" r="1.45"/><circle cx="462.2" cy="682.8" r="1.45"/><circle cx="443.6" cy="695.4" r="1.45"/><circle cx="445.4" cy="697.9" r="1.45"/><circle cx="447.1" cy="700.3" r="1.45"/><circle cx="441.1" cy="697.0" r="1.45"/><circle cx="438.5" cy="698.6" r="1.45"/><circle cx="442.1" cy="692.8" r="1.45"/><circle cx="440.6" cy="690.2" r="1.45"/><circle cx="446.4" cy="694.5" r="1.45"/><circle cx="449.3" cy="693.5" r="1.45"/><circle cx="573.3" cy="579.1" r="1.45"/><circle cx="575.1" cy="581.6" r="1.45"/><circle cx="576.8" cy="584.0" r="1.45"/><circle cx="570.8" cy="580.8" r="1.45"/><circle cx="568.3" cy="582.4" r="1.45"/><circle cx="571.2" cy="577.0" r="1.45"/><circle cx="569.0" cy="575.0" r="1.45"/><circle cx="575.7" cy="577.3" r="1.45"/><circle cx="578.0" cy="575.4" r="1.45"/><circle cx="559.1" cy="591.4" r="1.45"/><circle cx="561.4" cy="593.4" r="1.45"/><circle cx="563.7" cy="595.3" r="1.45"/><circle cx="556.8" cy="593.3" r="1.45"/><circle cx="554.4" cy="595.1" r="1.45"/><circle cx="556.9" cy="589.4" r="1.45"/><circle cx="554.6" cy="587.5" r="1.45"/><circle cx="561.4" cy="589.5" r="1.45"/><circle cx="563.7" cy="587.5" r="1.45"/><circle cx="546.8" cy="598.3" r="1.45"/><circle cx="549.2" cy="600.1" r="1.45"/><circle cx="551.6" cy="601.9" r="1.45"/><circle cx="544.6" cy="600.2" r="1.45"/><circle cx="542.3" cy="602.2" r="1.45"/><circle cx="544.8" cy="596.0" r="1.45"/><circle cx="542.8" cy="593.8" r="1.45"/><circle cx="549.2" cy="596.4" r="1.45"/><circle cx="551.5" cy="594.4" r="1.45"/><circle cx="536.1" cy="600.3" r="1.45"/><circle cx="538.5" cy="602.1" r="1.45"/><circle cx="540.9" cy="604.0" r="1.45"/><circle cx="534.0" cy="602.4" r="1.45"/><circle cx="531.8" cy="604.5" r="1.45"/><circle cx="533.9" cy="598.3" r="1.45"/><circle cx="531.6" cy="596.3" r="1.45"/><circle cx="538.4" cy="598.3" r="1.45"/><circle cx="540.6" cy="596.4" r="1.45"/><circle cx="490.3" cy="669.6" r="1.45"/><circle cx="492.0" cy="672.1" r="1.45"/><circle cx="493.8" cy="674.5" r="1.45"/><circle cx="488.0" cy="671.6" r="1.45"/><circle cx="485.7" cy="673.5" r="1.45"/><circle cx="488.1" cy="667.6" r="1.45"/><circle cx="485.8" cy="665.6" r="1.45"/><circle cx="492.7" cy="667.9" r="1.45"/><circle cx="495.2" cy="666.1" r="1.45"/><circle cx="481.3" cy="682.9" r="1.45"/><circle cx="482.7" cy="685.6" r="1.45"/><circle cx="484.0" cy="688.3" r="1.45"/><circle cx="478.7" cy="684.4" r="1.45"/><circle cx="476.0" cy="685.8" r="1.45"/><circle cx="480.0" cy="680.2" r="1.45"/><circle cx="478.6" cy="677.5" r="1.45"/><circle cx="484.0" cy="681.5" r="1.45"/><circle cx="486.6" cy="680.1" r="1.45"/><circle cx="469.0" cy="698.5" r="1.45"/><circle cx="471.5" cy="700.2" r="1.45"/><circle cx="474.0" cy="701.8" r="1.45"/><circle cx="466.9" cy="700.6" r="1.45"/><circle cx="464.7" cy="702.8" r="1.45"/><circle cx="466.7" cy="696.7" r="1.45"/><circle cx="464.3" cy="694.9" r="1.45"/><circle cx="470.8" cy="696.1" r="1.45"/><circle cx="472.6" cy="693.7" r="1.45"/><circle cx="456.6" cy="704.1" r="1.45"/><circle cx="459.2" cy="705.5" r="1.45"/><circle cx="461.9" cy="707.0" r="1.45"/><circle cx="454.4" cy="706.1" r="1.45"/><circle cx="452.2" cy="708.2" r="1.45"/><circle cx="454.1" cy="702.4" r="1.45"/><circle cx="451.6" cy="700.7" r="1.45"/><circle cx="458.6" cy="701.8" r="1.45"/><circle cx="460.6" cy="699.6" r="1.45"/><circle cx="441.9" cy="712.1" r="1.45"/><circle cx="444.4" cy="713.7" r="1.45"/><circle cx="447.0" cy="715.4" r="1.45"/><circle cx="440.6" cy="714.7" r="1.45"/><circle cx="439.2" cy="717.4" r="1.45"/><circle cx="439.5" cy="710.3" r="1.45"/><circle cx="437.1" cy="708.5" r="1.45"/><circle cx="443.9" cy="709.8" r="1.45"/><circle cx="445.8" cy="707.5" r="1.45"/><circle cx="584.9" cy="589.9" r="1.45"/><circle cx="587.8" cy="590.3" r="1.45"/><circle cx="590.8" cy="590.6" r="1.45"/><circle cx="583.1" cy="592.3" r="1.45"/><circle cx="581.3" cy="594.8" r="1.45"/><circle cx="582.2" cy="588.6" r="1.45"/><circle cx="579.5" cy="587.3" r="1.45"/><circle cx="585.6" cy="587.0" r="1.45"/><circle cx="586.4" cy="584.1" r="1.45"/><circle cx="572.6" cy="596.5" r="1.45"/><circle cx="575.0" cy="598.3" r="1.45"/><circle cx="577.3" cy="600.2" r="1.45"/><circle cx="570.0" cy="598.0" r="1.45"/><circle cx="567.4" cy="599.5" r="1.45"/><circle cx="570.7" cy="594.2" r="1.45"/><circle cx="568.8" cy="591.9" r="1.45"/><circle cx="575.2" cy="594.9" r="1.45"/><circle cx="577.7" cy="593.4" r="1.45"/><circle cx="559.6" cy="605.1" r="1.45"/><circle cx="562.4" cy="606.1" r="1.45"/><circle cx="565.2" cy="607.1" r="1.45"/><circle cx="557.7" cy="607.5" r="1.45"/><circle cx="555.8" cy="609.8" r="1.45"/><circle cx="556.8" cy="604.0" r="1.45"/><circle cx="554.0" cy="602.9" r="1.45"/><circle cx="560.8" cy="602.4" r="1.45"/><circle cx="562.1" cy="599.7" r="1.45"/><circle cx="546.0" cy="609.1" r="1.45"/><circle cx="548.7" cy="610.3" r="1.45"/><circle cx="551.4" cy="611.6" r="1.45"/><circle cx="544.6" cy="611.7" r="1.45"/><circle cx="543.2" cy="614.4" r="1.45"/><circle cx="543.3" cy="607.7" r="1.45"/><circle cx="540.6" cy="606.3" r="1.45"/><circle cx="547.9" cy="606.8" r="1.45"/><circle cx="549.8" cy="604.5" r="1.45"/><circle cx="495.3" cy="694.4" r="1.45"/><circle cx="496.9" cy="696.9" r="1.45"/><circle cx="498.6" cy="699.4" r="1.45"/><circle cx="492.6" cy="695.7" r="1.45"/><circle cx="489.9" cy="697.1" r="1.45"/><circle cx="493.8" cy="691.8" r="1.45"/><circle cx="492.4" cy="689.2" r="1.45"/><circle cx="497.8" cy="692.9" r="1.45"/><circle cx="500.4" cy="691.4" r="1.45"/><circle cx="481.2" cy="702.0" r="1.45"/><circle cx="482.6" cy="704.7" r="1.45"/><circle cx="484.1" cy="707.3" r="1.45"/><circle cx="478.5" cy="703.4" r="1.45"/><circle cx="475.8" cy="704.7" r="1.45"/><circle cx="479.6" cy="699.5" r="1.45"/><circle cx="478.0" cy="697.0" r="1.45"/><circle cx="483.9" cy="700.7" r="1.45"/><circle cx="486.5" cy="699.3" r="1.45"/><circle cx="468.2" cy="711.5" r="1.45"/><circle cx="470.1" cy="713.8" r="1.45"/><circle cx="472.0" cy="716.1" r="1.45"/><circle cx="465.3" cy="712.3" r="1.45"/><circle cx="462.5" cy="713.1" r="1.45"/><circle cx="466.9" cy="708.8" r="1.45"/><circle cx="465.5" cy="706.1" r="1.45"/><circle cx="471.1" cy="710.5" r="1.45"/><circle cx="473.9" cy="709.5" r="1.45"/><circle cx="451.8" cy="719.7" r="1.45"/><circle cx="454.2" cy="721.5" r="1.45"/><circle cx="456.6" cy="723.3" r="1.45"/><circle cx="449.4" cy="721.5" r="1.45"/><circle cx="447.1" cy="723.4" r="1.45"/><circle cx="450.0" cy="717.3" r="1.45"/><circle cx="448.1" cy="715.0" r="1.45"/><circle cx="454.5" cy="718.4" r="1.45"/><circle cx="457.2" cy="717.0" r="1.45"/><circle cx="597.9" cy="590.3" r="1.45"/><circle cx="600.1" cy="592.3" r="1.45"/><circle cx="602.4" cy="594.3" r="1.45"/><circle cx="595.7" cy="592.3" r="1.45"/><circle cx="593.5" cy="594.3" r="1.45"/><circle cx="595.4" cy="588.6" r="1.45"/><circle cx="593.0" cy="586.8" r="1.45"/><circle cx="600.1" cy="588.3" r="1.45"/><circle cx="602.4" cy="586.3" r="1.45"/><circle cx="587.0" cy="601.9" r="1.45"/><circle cx="589.7" cy="603.4" r="1.45"/><circle cx="592.3" cy="604.8" r="1.45"/><circle cx="585.3" cy="604.4" r="1.45"/><circle cx="583.6" cy="606.8" r="1.45"/><circle cx="584.2" cy="600.8" r="1.45"/><circle cx="581.5" cy="599.7" r="1.45"/><circle cx="588.5" cy="599.3" r="1.45"/><circle cx="590.1" cy="596.7" r="1.45"/><circle cx="570.9" cy="611.1" r="1.45"/><circle cx="572.5" cy="613.6" r="1.45"/><circle cx="574.2" cy="616.1" r="1.45"/><circle cx="568.2" cy="612.3" r="1.45"/><circle cx="565.4" cy="613.6" r="1.45"/><circle cx="569.5" cy="608.5" r="1.45"/><circle cx="568.1" cy="605.8" r="1.45"/><circle cx="573.5" cy="609.6" r="1.45"/><circle cx="576.0" cy="608.0" r="1.45"/><circle cx="560.1" cy="620.4" r="1.45"/><circle cx="562.2" cy="622.6" r="1.45"/><circle cx="564.2" cy="624.8" r="1.45"/><circle cx="557.5" cy="621.9" r="1.45"/><circle cx="554.9" cy="623.4" r="1.45"/><circle cx="558.6" cy="617.8" r="1.45"/><circle cx="557.1" cy="615.2" r="1.45"/><circle cx="562.8" cy="619.1" r="1.45"/><circle cx="565.5" cy="617.7" r="1.45"/><circle cx="508.2" cy="698.6" r="1.45"/><circle cx="510.4" cy="700.7" r="1.45"/><circle cx="512.6" cy="702.7" r="1.45"/><circle cx="505.8" cy="700.3" r="1.45"/><circle cx="503.3" cy="702.1" r="1.45"/><circle cx="505.9" cy="696.7" r="1.45"/><circle cx="503.5" cy="694.9" r="1.45"/><circle cx="510.3" cy="696.5" r="1.45"/><circle cx="512.4" cy="694.3" r="1.45"/><circle cx="492.8" cy="708.4" r="1.45"/><circle cx="495.6" cy="709.4" r="1.45"/><circle cx="498.5" cy="710.4" r="1.45"/><circle cx="491.4" cy="711.0" r="1.45"/><circle cx="490.0" cy="713.7" r="1.45"/><circle cx="490.3" cy="706.8" r="1.45"/><circle cx="487.8" cy="705.1" r="1.45"/><circle cx="494.8" cy="706.2" r="1.45"/><circle cx="496.8" cy="703.9" r="1.45"/><circle cx="482.7" cy="715.5" r="1.45"/><circle cx="485.2" cy="717.2" r="1.45"/><circle cx="487.6" cy="718.8" r="1.45"/><circle cx="480.8" cy="717.8" r="1.45"/><circle cx="478.8" cy="720.1" r="1.45"/><circle cx="480.1" cy="713.9" r="1.45"/><circle cx="477.6" cy="712.3" r="1.45"/><circle cx="484.6" cy="713.2" r="1.45"/><circle cx="486.5" cy="710.9" r="1.45"/><circle cx="466.6" cy="723.2" r="1.45"/><circle cx="469.2" cy="724.8" r="1.45"/><circle cx="471.7" cy="726.3" r="1.45"/><circle cx="465.2" cy="725.8" r="1.45"/><circle cx="463.7" cy="728.4" r="1.45"/><circle cx="463.7" cy="722.4" r="1.45"/><circle cx="460.8" cy="721.7" r="1.45"/><circle cx="468.4" cy="720.7" r="1.45"/><circle cx="470.1" cy="718.3" r="1.45"/><circle cx="610.6" cy="599.7" r="1.45"/><circle cx="613.3" cy="601.1" r="1.45"/><circle cx="615.9" cy="602.5" r="1.45"/><circle cx="609.0" cy="602.3" r="1.45"/><circle cx="607.4" cy="604.8" r="1.45"/><circle cx="607.9" cy="598.4" r="1.45"/><circle cx="605.3" cy="597.0" r="1.45"/><circle cx="611.8" cy="597.0" r="1.45"/><circle cx="613.0" cy="594.2" r="1.45"/><circle cx="598.2" cy="609.4" r="1.45"/><circle cx="600.5" cy="611.3" r="1.45"/><circle cx="602.9" cy="613.1" r="1.45"/><circle cx="595.8" cy="611.3" r="1.45"/><circle cx="593.5" cy="613.2" r="1.45"/><circle cx="596.1" cy="607.3" r="1.45"/><circle cx="594.1" cy="605.1" r="1.45"/><circle cx="600.4" cy="607.5" r="1.45"/><circle cx="602.7" cy="605.5" r="1.45"/><circle cx="584.8" cy="617.8" r="1.45"/><circle cx="586.5" cy="620.3" r="1.45"/><circle cx="588.2" cy="622.8" r="1.45"/><circle cx="582.1" cy="619.1" r="1.45"/><circle cx="579.3" cy="620.3" r="1.45"/><circle cx="583.4" cy="615.2" r="1.45"/><circle cx="581.9" cy="612.6" r="1.45"/><circle cx="587.6" cy="616.7" r="1.45"/><circle cx="590.3" cy="615.5" r="1.45"/><circle cx="573.7" cy="627.4" r="1.45"/><circle cx="575.8" cy="629.5" r="1.45"/><circle cx="577.9" cy="631.7" r="1.45"/><circle cx="571.4" cy="629.3" r="1.45"/><circle cx="569.1" cy="631.2" r="1.45"/><circle cx="571.3" cy="625.6" r="1.45"/><circle cx="568.9" cy="623.8" r="1.45"/><circle cx="575.9" cy="625.3" r="1.45"/><circle cx="578.1" cy="623.3" r="1.45"/><circle cx="518.3" cy="704.7" r="1.45"/><circle cx="521.2" cy="705.6" r="1.45"/><circle cx="524.1" cy="706.5" r="1.45"/><circle cx="516.6" cy="707.2" r="1.45"/><circle cx="514.8" cy="709.6" r="1.45"/><circle cx="515.6" cy="703.6" r="1.45"/><circle cx="512.8" cy="702.4" r="1.45"/><circle cx="519.3" cy="701.9" r="1.45"/><circle cx="520.3" cy="699.1" r="1.45"/><circle cx="505.4" cy="713.0" r="1.45"/><circle cx="508.3" cy="713.8" r="1.45"/><circle cx="511.2" cy="714.6" r="1.45"/><circle cx="504.0" cy="715.7" r="1.45"/><circle cx="502.7" cy="718.3" r="1.45"/><circle cx="502.5" cy="712.2" r="1.45"/><circle cx="499.6" cy="711.5" r="1.45"/><circle cx="506.8" cy="710.3" r="1.45"/><circle cx="508.1" cy="707.6" r="1.45"/><circle cx="493.1" cy="724.0" r="1.45"/><circle cx="495.2" cy="726.1" r="1.45"/><circle cx="497.4" cy="728.2" r="1.45"/><circle cx="490.6" cy="725.7" r="1.45"/><circle cx="488.1" cy="727.3" r="1.45"/><circle cx="490.9" cy="721.9" r="1.45"/><circle cx="488.8" cy="719.8" r="1.45"/><circle cx="495.6" cy="722.4" r="1.45"/><circle cx="498.1" cy="720.8" r="1.45"/><circle cx="480.4" cy="732.3" r="1.45"/><circle cx="483.1" cy="733.5" r="1.45"/><circle cx="485.9" cy="734.7" r="1.45"/><circle cx="479.1" cy="735.0" r="1.45"/><circle cx="477.7" cy="737.7" r="1.45"/><circle cx="477.6" cy="731.1" r="1.45"/><circle cx="474.9" cy="729.9" r="1.45"/><circle cx="482.3" cy="730.0" r="1.45"/><circle cx="484.2" cy="727.7" r="1.45"/><circle cx="610.1" cy="612.3" r="1.45"/><circle cx="612.0" cy="614.7" r="1.45"/><circle cx="613.9" cy="617.0" r="1.45"/><circle cx="608.1" cy="614.5" r="1.45"/><circle cx="606.0" cy="616.7" r="1.45"/><circle cx="607.9" cy="610.3" r="1.45"/><circle cx="605.7" cy="608.3" r="1.45"/><circle cx="612.3" cy="610.2" r="1.45"/><circle cx="614.4" cy="608.1" r="1.45"/><circle cx="596.8" cy="624.2" r="1.45"/><circle cx="598.7" cy="626.5" r="1.45"/><circle cx="600.7" cy="628.7" r="1.45"/><circle cx="594.7" cy="626.4" r="1.45"/><circle cx="592.7" cy="628.6" r="1.45"/><circle cx="594.5" cy="622.3" r="1.45"/><circle cx="592.1" cy="620.4" r="1.45"/><circle cx="599.0" cy="622.1" r="1.45"/><circle cx="601.1" cy="620.1" r="1.45"/><circle cx="588.5" cy="635.2" r="1.45"/><circle cx="589.8" cy="638.0" r="1.45"/><circle cx="591.0" cy="640.7" r="1.45"/><circle cx="585.8" cy="636.6" r="1.45"/><circle cx="583.2" cy="638.0" r="1.45"/><circle cx="586.9" cy="632.7" r="1.45"/><circle cx="585.3" cy="630.1" r="1.45"/><circle cx="591.2" cy="633.8" r="1.45"/><circle cx="593.8" cy="632.4" r="1.45"/><circle cx="574.7" cy="647.6" r="1.45"/><circle cx="577.4" cy="648.9" r="1.45"/><circle cx="580.1" cy="650.3" r="1.45"/><circle cx="573.6" cy="650.4" r="1.45"/><circle cx="572.4" cy="653.1" r="1.45"/><circle cx="572.1" cy="646.1" r="1.45"/><circle cx="569.5" cy="644.6" r="1.45"/><circle cx="576.5" cy="645.2" r="1.45"/><circle cx="578.2" cy="642.7" r="1.45"/><circle cx="538.5" cy="704.8" r="1.45"/><circle cx="539.8" cy="707.6" r="1.45"/><circle cx="541.1" cy="710.3" r="1.45"/><circle cx="535.7" cy="705.9" r="1.45"/><circle cx="532.8" cy="706.9" r="1.45"/><circle cx="537.8" cy="701.9" r="1.45"/><circle cx="537.1" cy="699.0" r="1.45"/><circle cx="541.3" cy="703.8" r="1.45"/><circle cx="544.1" cy="702.7" r="1.45"/><circle cx="530.3" cy="710.7" r="1.45"/><circle cx="532.7" cy="712.6" r="1.45"/><circle cx="535.0" cy="714.5" r="1.45"/><circle cx="528.4" cy="713.0" r="1.45"/><circle cx="526.6" cy="715.4" r="1.45"/><circle cx="528.0" cy="708.9" r="1.45"/><circle cx="525.6" cy="707.0" r="1.45"/><circle cx="532.4" cy="708.5" r="1.45"/><circle cx="534.5" cy="706.4" r="1.45"/><circle cx="517.6" cy="722.2" r="1.45"/><circle cx="520.1" cy="723.8" r="1.45"/><circle cx="522.7" cy="725.4" r="1.45"/><circle cx="515.7" cy="724.6" r="1.45"/><circle cx="513.9" cy="727.0" r="1.45"/><circle cx="514.9" cy="720.8" r="1.45"/><circle cx="512.3" cy="719.3" r="1.45"/><circle cx="519.0" cy="719.6" r="1.45"/><circle cx="520.5" cy="717.0" r="1.45"/><circle cx="505.9" cy="725.1" r="1.45"/><circle cx="508.0" cy="727.3" r="1.45"/><circle cx="510.0" cy="729.5" r="1.45"/><circle cx="503.8" cy="727.2" r="1.45"/><circle cx="501.7" cy="729.4" r="1.45"/><circle cx="503.3" cy="723.6" r="1.45"/><circle cx="500.7" cy="722.2" r="1.45"/><circle cx="508.5" cy="723.6" r="1.45"/><circle cx="511.1" cy="722.0" r="1.45"/><circle cx="490.2" cy="735.3" r="1.45"/><circle cx="492.8" cy="736.7" r="1.45"/><circle cx="495.4" cy="738.2" r="1.45"/><circle cx="488.3" cy="737.6" r="1.45"/><circle cx="486.5" cy="740.0" r="1.45"/><circle cx="487.6" cy="733.7" r="1.45"/><circle cx="485.1" cy="732.1" r="1.45"/><circle cx="492.3" cy="733.1" r="1.45"/><circle cx="494.4" cy="731.0" r="1.45"/><circle cx="610.9" cy="635.7" r="1.45"/><circle cx="613.5" cy="637.2" r="1.45"/><circle cx="616.1" cy="638.7" r="1.45"/><circle cx="608.9" cy="637.9" r="1.45"/><circle cx="606.9" cy="640.1" r="1.45"/><circle cx="608.4" cy="634.1" r="1.45"/><circle cx="605.9" cy="632.4" r="1.45"/><circle cx="612.8" cy="633.3" r="1.45"/><circle cx="614.6" cy="631.0" r="1.45"/><circle cx="598.9" cy="647.1" r="1.45"/><circle cx="601.1" cy="649.1" r="1.45"/><circle cx="603.3" cy="651.2" r="1.45"/><circle cx="596.8" cy="649.2" r="1.45"/><circle cx="594.7" cy="651.3" r="1.45"/><circle cx="597.1" cy="644.7" r="1.45"/><circle cx="595.3" cy="642.2" r="1.45"/><circle cx="601.4" cy="645.4" r="1.45"/><circle cx="603.8" cy="643.7" r="1.45"/><circle cx="586.9" cy="658.6" r="1.45"/><circle cx="588.7" cy="661.0" r="1.45"/><circle cx="590.4" cy="663.4" r="1.45"/><circle cx="585.0" cy="660.9" r="1.45"/><circle cx="583.1" cy="663.2" r="1.45"/><circle cx="584.9" cy="656.3" r="1.45"/><circle cx="582.9" cy="654.1" r="1.45"/><circle cx="589.0" cy="656.5" r="1.45"/><circle cx="591.2" cy="654.4" r="1.45"/><circle cx="579.0" cy="670.2" r="1.45"/><circle cx="581.2" cy="672.3" r="1.45"/><circle cx="583.4" cy="674.3" r="1.45"/><circle cx="577.2" cy="672.6" r="1.45"/><circle cx="575.3" cy="674.9" r="1.45"/><circle cx="577.0" cy="668.0" r="1.45"/><circle cx="575.0" cy="665.8" r="1.45"/><circle cx="581.1" cy="668.1" r="1.45"/><circle cx="583.2" cy="666.0" r="1.45"/><circle cx="572.6" cy="680.6" r="1.45"/><circle cx="574.0" cy="683.2" r="1.45"/><circle cx="575.4" cy="685.9" r="1.45"/><circle cx="570.0" cy="682.0" r="1.45"/><circle cx="567.4" cy="683.5" r="1.45"/><circle cx="571.5" cy="677.8" r="1.45"/><circle cx="570.3" cy="675.0" r="1.45"/><circle cx="575.1" cy="678.9" r="1.45"/><circle cx="577.7" cy="677.3" r="1.45"/><circle cx="562.4" cy="689.5" r="1.45"/><circle cx="564.6" cy="691.6" r="1.45"/><circle cx="566.8" cy="693.6" r="1.45"/><circle cx="560.6" cy="691.9" r="1.45"/><circle cx="558.8" cy="694.3" r="1.45"/><circle cx="560.0" cy="687.8" r="1.45"/><circle cx="557.5" cy="686.0" r="1.45"/><circle cx="564.1" cy="687.0" r="1.45"/><circle cx="565.8" cy="684.5" r="1.45"/><circle cx="554.8" cy="702.1" r="1.45"/><circle cx="557.3" cy="703.9" r="1.45"/><circle cx="559.8" cy="705.6" r="1.45"/><circle cx="553.4" cy="704.8" r="1.45"/><circle cx="551.9" cy="707.4" r="1.45"/><circle cx="552.1" cy="700.8" r="1.45"/><circle cx="549.4" cy="699.6" r="1.45"/><circle cx="556.1" cy="699.4" r="1.45"/><circle cx="557.4" cy="696.7" r="1.45"/><circle cx="547.0" cy="713.9" r="1.45"/><circle cx="548.8" cy="716.4" r="1.45"/><circle cx="550.5" cy="718.8" r="1.45"/><circle cx="544.6" cy="715.8" r="1.45"/><circle cx="542.3" cy="717.6" r="1.45"/><circle cx="545.5" cy="711.3" r="1.45"/><circle cx="544.0" cy="708.7" r="1.45"/><circle cx="549.5" cy="712.2" r="1.45"/><circle cx="551.9" cy="710.5" r="1.45"/><circle cx="540.8" cy="721.1" r="1.45"/><circle cx="542.6" cy="723.5" r="1.45"/><circle cx="544.3" cy="726.0" r="1.45"/><circle cx="539.0" cy="723.5" r="1.45"/><circle cx="537.1" cy="725.8" r="1.45"/><circle cx="538.5" cy="719.2" r="1.45"/><circle cx="536.2" cy="717.2" r="1.45"/><circle cx="542.9" cy="719.0" r="1.45"/><circle cx="544.9" cy="716.8" r="1.45"/><circle cx="527.0" cy="729.2" r="1.45"/><circle cx="528.6" cy="731.7" r="1.45"/><circle cx="530.2" cy="734.3" r="1.45"/><circle cx="524.2" cy="730.3" r="1.45"/><circle cx="521.5" cy="731.4" r="1.45"/><circle cx="525.3" cy="726.7" r="1.45"/><circle cx="523.7" cy="724.2" r="1.45"/><circle cx="529.8" cy="728.1" r="1.45"/><circle cx="532.6" cy="727.0" r="1.45"/><circle cx="516.1" cy="734.9" r="1.45"/><circle cx="518.3" cy="736.9" r="1.45"/><circle cx="520.5" cy="739.0" r="1.45"/><circle cx="514.2" cy="737.2" r="1.45"/><circle cx="512.2" cy="739.5" r="1.45"/><circle cx="513.9" cy="732.9" r="1.45"/><circle cx="511.7" cy="730.8" r="1.45"/><circle cx="517.6" cy="732.3" r="1.45"/><circle cx="519.1" cy="729.7" r="1.45"/><circle cx="503.5" cy="744.9" r="1.45"/><circle cx="505.9" cy="746.6" r="1.45"/><circle cx="508.4" cy="748.4" r="1.45"/><circle cx="501.6" cy="747.2" r="1.45"/><circle cx="499.7" cy="749.6" r="1.45"/><circle cx="500.9" cy="743.4" r="1.45"/><circle cx="498.3" cy="741.9" r="1.45"/><circle cx="505.6" cy="742.8" r="1.45"/><circle cx="507.7" cy="740.7" r="1.45"/><circle cx="624.1" cy="644.4" r="1.45"/><circle cx="626.9" cy="645.3" r="1.45"/><circle cx="629.8" cy="646.2" r="1.45"/><circle cx="622.2" cy="646.8" r="1.45"/><circle cx="620.4" cy="649.1" r="1.45"/><circle cx="621.4" cy="643.1" r="1.45"/><circle cx="618.7" cy="641.8" r="1.45"/><circle cx="625.4" cy="641.7" r="1.45"/><circle cx="626.7" cy="639.0" r="1.45"/><circle cx="610.6" cy="653.8" r="1.45"/><circle cx="613.0" cy="655.7" r="1.45"/><circle cx="615.4" cy="657.5" r="1.45"/><circle cx="609.0" cy="656.3" r="1.45"/><circle cx="607.3" cy="658.8" r="1.45"/><circle cx="608.3" cy="651.9" r="1.45"/><circle cx="606.0" cy="650.1" r="1.45"/><circle cx="612.4" cy="651.4" r="1.45"/><circle cx="614.1" cy="649.0" r="1.45"/><circle cx="596.8" cy="669.1" r="1.45"/><circle cx="598.2" cy="671.7" r="1.45"/><circle cx="599.5" cy="674.4" r="1.45"/><circle cx="594.2" cy="670.6" r="1.45"/><circle cx="591.6" cy="672.1" r="1.45"/><circle cx="595.1" cy="666.6" r="1.45"/><circle cx="593.5" cy="664.1" r="1.45"/><circle cx="599.4" cy="667.7" r="1.45"/><circle cx="602.0" cy="666.2" r="1.45"/><circle cx="588.3" cy="679.0" r="1.45"/><circle cx="589.7" cy="681.7" r="1.45"/><circle cx="591.1" cy="684.4" r="1.45"/><circle cx="586.0" cy="680.9" r="1.45"/><circle cx="583.7" cy="682.8" r="1.45"/><circle cx="586.9" cy="676.4" r="1.45"/><circle cx="585.4" cy="673.8" r="1.45"/><circle cx="591.0" cy="677.7" r="1.45"/><circle cx="593.7" cy="676.4" r="1.45"/><circle cx="581.4" cy="691.6" r="1.45"/><circle cx="583.4" cy="693.8" r="1.45"/><circle cx="585.3" cy="696.1" r="1.45"/><circle cx="579.4" cy="693.8" r="1.45"/><circle cx="577.4" cy="696.0" r="1.45"/><circle cx="579.5" cy="689.2" r="1.45"/><circle cx="577.6" cy="686.9" r="1.45"/><circle cx="583.2" cy="689.1" r="1.45"/><circle cx="584.9" cy="686.7" r="1.45"/><circle cx="568.6" cy="704.4" r="1.45"/><circle cx="571.4" cy="705.5" r="1.45"/><circle cx="574.2" cy="706.6" r="1.45"/><circle cx="567.6" cy="707.3" r="1.45"/><circle cx="566.6" cy="710.1" r="1.45"/><circle cx="566.0" cy="702.9" r="1.45"/><circle cx="563.4" cy="701.5" r="1.45"/><circle cx="569.5" cy="701.6" r="1.45"/><circle cx="570.4" cy="698.7" r="1.45"/><circle cx="559.6" cy="714.4" r="1.45"/><circle cx="561.6" cy="716.6" r="1.45"/><circle cx="563.6" cy="718.9" r="1.45"/><circle cx="557.8" cy="716.8" r="1.45"/><circle cx="555.9" cy="719.2" r="1.45"/><circle cx="557.8" cy="712.0" r="1.45"/><circle cx="556.0" cy="709.6" r="1.45"/><circle cx="561.7" cy="712.3" r="1.45"/><circle cx="563.8" cy="710.2" r="1.45"/><circle cx="555.2" cy="722.8" r="1.45"/><circle cx="556.5" cy="725.5" r="1.45"/><circle cx="557.7" cy="728.3" r="1.45"/><circle cx="552.7" cy="724.4" r="1.45"/><circle cx="550.2" cy="726.0" r="1.45"/><circle cx="553.6" cy="720.3" r="1.45"/><circle cx="551.9" cy="717.8" r="1.45"/><circle cx="557.7" cy="721.0" r="1.45"/><circle cx="560.1" cy="719.3" r="1.45"/><circle cx="544.2" cy="732.6" r="1.45"/><circle cx="546.9" cy="733.9" r="1.45"/><circle cx="549.6" cy="735.1" r="1.45"/><circle cx="542.5" cy="735.1" r="1.45"/><circle cx="540.9" cy="737.6" r="1.45"/><circle cx="541.9" cy="730.7" r="1.45"/><circle cx="539.6" cy="728.7" r="1.45"/><circle cx="545.3" cy="729.8" r="1.45"/><circle cx="546.3" cy="727.0" r="1.45"/><circle cx="534.2" cy="740.7" r="1.45"/><circle cx="535.2" cy="743.5" r="1.45"/><circle cx="536.3" cy="746.3" r="1.45"/><circle cx="531.3" cy="741.8" r="1.45"/><circle cx="528.5" cy="742.8" r="1.45"/><circle cx="532.9" cy="738.0" r="1.45"/><circle cx="531.7" cy="735.3" r="1.45"/><circle cx="536.7" cy="739.2" r="1.45"/><circle cx="539.3" cy="737.7" r="1.45"/><circle cx="522.7" cy="745.8" r="1.45"/><circle cx="525.5" cy="747.0" r="1.45"/><circle cx="528.2" cy="748.3" r="1.45"/><circle cx="521.3" cy="748.5" r="1.45"/><circle cx="519.9" cy="751.1" r="1.45"/><circle cx="520.2" cy="744.3" r="1.45"/><circle cx="517.6" cy="742.7" r="1.45"/><circle cx="524.3" cy="743.3" r="1.45"/><circle cx="525.8" cy="740.7" r="1.45"/><circle cx="514.0" cy="757.9" r="1.45"/><circle cx="516.3" cy="759.9" r="1.45"/><circle cx="518.6" cy="761.8" r="1.45"/><circle cx="512.3" cy="760.4" r="1.45"/><circle cx="510.7" cy="762.9" r="1.45"/><circle cx="511.6" cy="756.2" r="1.45"/><circle cx="509.1" cy="754.4" r="1.45"/><circle cx="516.0" cy="755.7" r="1.45"/><circle cx="518.0" cy="753.4" r="1.45"/><circle cx="620.4" cy="671.5" r="1.45"/><circle cx="621.6" cy="674.2" r="1.45"/><circle cx="622.9" cy="676.9" r="1.45"/><circle cx="617.7" cy="672.8" r="1.45"/><circle cx="615.0" cy="674.1" r="1.45"/><circle cx="619.4" cy="668.6" r="1.45"/><circle cx="618.3" cy="665.8" r="1.45"/><circle cx="623.2" cy="670.4" r="1.45"/><circle cx="625.9" cy="669.2" r="1.45"/><circle cx="607.5" cy="677.4" r="1.45"/><circle cx="609.6" cy="679.6" r="1.45"/><circle cx="611.7" cy="681.7" r="1.45"/><circle cx="605.7" cy="679.8" r="1.45"/><circle cx="603.8" cy="682.1" r="1.45"/><circle cx="605.3" cy="675.5" r="1.45"/><circle cx="603.0" cy="673.5" r="1.45"/><circle cx="609.6" cy="675.3" r="1.45"/><circle cx="611.7" cy="673.1" r="1.45"/><circle cx="596.2" cy="689.3" r="1.45"/><circle cx="598.7" cy="691.0" r="1.45"/><circle cx="601.2" cy="692.7" r="1.45"/><circle cx="594.7" cy="691.9" r="1.45"/><circle cx="593.2" cy="694.5" r="1.45"/><circle cx="593.9" cy="687.4" r="1.45"/><circle cx="591.6" cy="685.5" r="1.45"/><circle cx="597.5" cy="686.6" r="1.45"/><circle cx="598.9" cy="683.9" r="1.45"/><circle cx="585.3" cy="702.3" r="1.45"/><circle cx="587.0" cy="704.8" r="1.45"/><circle cx="588.8" cy="707.2" r="1.45"/><circle cx="582.8" cy="704.0" r="1.45"/><circle cx="580.3" cy="705.7" r="1.45"/><circle cx="583.9" cy="699.7" r="1.45"/><circle cx="582.4" cy="697.0" r="1.45"/><circle cx="587.7" cy="700.6" r="1.45"/><circle cx="590.2" cy="699.0" r="1.45"/><circle cx="577.1" cy="712.4" r="1.45"/><circle cx="578.5" cy="715.0" r="1.45"/><circle cx="580.0" cy="717.6" r="1.45"/><circle cx="574.4" cy="713.8" r="1.45"/><circle cx="571.8" cy="715.2" r="1.45"/><circle cx="576.0" cy="709.6" r="1.45"/><circle cx="574.9" cy="706.8" r="1.45"/><circle cx="579.8" cy="711.0" r="1.45"/><circle cx="582.4" cy="709.7" r="1.45"/><circle cx="570.0" cy="725.0" r="1.45"/><circle cx="572.5" cy="726.7" r="1.45"/><circle cx="575.0" cy="728.3" r="1.45"/><circle cx="568.8" cy="727.7" r="1.45"/><circle cx="567.5" cy="730.4" r="1.45"/><circle cx="567.3" cy="723.6" r="1.45"/><circle cx="564.7" cy="722.2" r="1.45"/><circle cx="571.2" cy="722.2" r="1.45"/><circle cx="572.4" cy="719.5" r="1.45"/><circle cx="558.3" cy="738.4" r="1.45"/><circle cx="560.9" cy="740.0" r="1.45"/><circle cx="563.4" cy="741.6" r="1.45"/><circle cx="557.2" cy="741.1" r="1.45"/><circle cx="556.0" cy="743.9" r="1.45"/><circle cx="555.9" cy="736.6" r="1.45"/><circle cx="553.5" cy="734.8" r="1.45"/><circle cx="559.6" cy="735.7" r="1.45"/><circle cx="560.9" cy="733.0" r="1.45"/><circle cx="553.5" cy="746.7" r="1.45"/><circle cx="556.4" cy="747.5" r="1.45"/><circle cx="559.2" cy="748.4" r="1.45"/><circle cx="551.8" cy="749.2" r="1.45"/><circle cx="550.2" cy="751.7" r="1.45"/><circle cx="550.8" cy="745.3" r="1.45"/><circle cx="548.1" cy="744.0" r="1.45"/><circle cx="554.6" cy="743.9" r="1.45"/><circle cx="555.7" cy="741.1" r="1.45"/><circle cx="538.4" cy="754.0" r="1.45"/><circle cx="540.9" cy="755.6" r="1.45"/><circle cx="543.5" cy="757.2" r="1.45"/><circle cx="537.1" cy="756.8" r="1.45"/><circle cx="535.8" cy="759.5" r="1.45"/><circle cx="536.3" cy="751.9" r="1.45"/><circle cx="534.2" cy="749.7" r="1.45"/><circle cx="540.5" cy="751.9" r="1.45"/><circle cx="542.6" cy="749.8" r="1.45"/><circle cx="619.0" cy="689.9" r="1.45"/><circle cx="620.3" cy="692.5" r="1.45"/><circle cx="621.7" cy="695.2" r="1.45"/><circle cx="616.2" cy="691.0" r="1.45"/><circle cx="613.4" cy="692.1" r="1.45"/><circle cx="617.5" cy="687.2" r="1.45"/><circle cx="616.0" cy="684.6" r="1.45"/><circle cx="621.8" cy="688.9" r="1.45"/><circle cx="624.7" cy="688.0" r="1.45"/><circle cx="605.6" cy="700.5" r="1.45"/><circle cx="607.9" cy="702.4" r="1.45"/><circle cx="610.1" cy="704.4" r="1.45"/><circle cx="603.9" cy="702.9" r="1.45"/><circle cx="602.1" cy="705.4" r="1.45"/><circle cx="603.5" cy="698.3" r="1.45"/><circle cx="601.5" cy="696.1" r="1.45"/><circle cx="607.6" cy="698.2" r="1.45"/><circle cx="609.6" cy="696.0" r="1.45"/><circle cx="597.7" cy="711.4" r="1.45"/><circle cx="598.9" cy="714.2" r="1.45"/><circle cx="600.1" cy="716.9" r="1.45"/><circle cx="595.2" cy="713.1" r="1.45"/><circle cx="592.7" cy="714.7" r="1.45"/><circle cx="595.7" cy="709.1" r="1.45"/><circle cx="593.8" cy="706.9" r="1.45"/><circle cx="600.1" cy="709.6" r="1.45"/><circle cx="602.5" cy="707.8" r="1.45"/><circle cx="586.8" cy="723.1" r="1.45"/><circle cx="589.1" cy="725.1" r="1.45"/><circle cx="591.3" cy="727.1" r="1.45"/><circle cx="585.0" cy="725.4" r="1.45"/><circle cx="583.1" cy="727.7" r="1.45"/><circle cx="584.4" cy="721.4" r="1.45"/><circle cx="581.9" cy="719.7" r="1.45"/><circle cx="588.7" cy="720.7" r="1.45"/><circle cx="590.6" cy="718.4" r="1.45"/><circle cx="576.3" cy="736.4" r="1.45"/><circle cx="577.7" cy="739.0" r="1.45"/><circle cx="579.0" cy="741.7" r="1.45"/><circle cx="573.7" cy="737.8" r="1.45"/><circle cx="571.0" cy="739.3" r="1.45"/><circle cx="575.1" cy="733.6" r="1.45"/><circle cx="573.9" cy="730.9" r="1.45"/><circle cx="579.0" cy="735.2" r="1.45"/><circle cx="581.8" cy="733.9" r="1.45"/><circle cx="566.2" cy="746.6" r="1.45"/><circle cx="567.0" cy="749.5" r="1.45"/><circle cx="567.8" cy="752.4" r="1.45"/><circle cx="563.4" cy="747.6" r="1.45"/><circle cx="560.6" cy="748.6" r="1.45"/><circle cx="564.9" cy="743.9" r="1.45"/><circle cx="563.6" cy="741.2" r="1.45"/><circle cx="569.0" cy="745.5" r="1.45"/><circle cx="571.8" cy="744.4" r="1.45"/><circle cx="602.7" cy="720.6" r="1.45"/><circle cx="604.8" cy="722.8" r="1.45"/><circle cx="606.8" cy="725.0" r="1.45"/><circle cx="600.8" cy="722.9" r="1.45"/><circle cx="598.9" cy="725.2" r="1.45"/><circle cx="600.9" cy="718.2" r="1.45"/><circle cx="599.0" cy="715.9" r="1.45"/><circle cx="604.8" cy="718.5" r="1.45"/><circle cx="607.0" cy="716.4" r="1.45"/><circle cx="593.5" cy="734.2" r="1.45"/><circle cx="594.3" cy="737.1" r="1.45"/><circle cx="595.1" cy="740.0" r="1.45"/><circle cx="590.7" cy="735.4" r="1.45"/><circle cx="588.0" cy="736.7" r="1.45"/><circle cx="592.5" cy="731.3" r="1.45"/><circle cx="591.5" cy="728.5" r="1.45"/><circle cx="595.8" cy="732.3" r="1.45"/><circle cx="598.1" cy="730.4" r="1.45"/><circle cx="585.9" cy="743.8" r="1.45"/><circle cx="588.8" cy="744.6" r="1.45"/><circle cx="591.7" cy="745.4" r="1.45"/><circle cx="584.8" cy="746.6" r="1.45"/><circle cx="583.6" cy="749.4" r="1.45"/><circle cx="583.2" cy="742.6" r="1.45"/><circle cx="580.4" cy="741.3" r="1.45"/><circle cx="587.0" cy="741.0" r="1.45"/><circle cx="588.0" cy="738.2" r="1.45"/></g><g fill="#0e8d3f"><circle cx="454.7" cy="599.3" r="1.85"/><circle cx="457.9" cy="597.7" r="1.85"/><circle cx="511.6" cy="562.9" r="1.85"/><circle cx="515.2" cy="563.0" r="1.85"/><circle cx="502.6" cy="559.9" r="1.85"/><circle cx="502.9" cy="563.5" r="1.85"/><circle cx="501.7" cy="568.5" r="1.85"/><circle cx="499.7" cy="571.5" r="1.85"/><circle cx="490.5" cy="569.4" r="1.85"/><circle cx="490.3" cy="573.0" r="1.85"/><circle cx="484.9" cy="581.4" r="1.85"/><circle cx="488.4" cy="582.5" r="1.85"/><circle cx="479.1" cy="580.3" r="1.85"/><circle cx="475.7" cy="579.2" r="1.85"/><circle cx="475.8" cy="590.5" r="1.85"/><circle cx="479.4" cy="590.5" r="1.85"/><circle cx="467.5" cy="592.6" r="1.85"/><circle cx="468.8" cy="595.9" r="1.85"/><circle cx="466.0" cy="604.0" r="1.85"/><circle cx="469.2" cy="605.5" r="1.85"/><circle cx="462.4" cy="608.2" r="1.85"/><circle cx="459.5" cy="610.3" r="1.85"/><circle cx="457.7" cy="617.7" r="1.85"/><circle cx="459.2" cy="620.9" r="1.85"/><circle cx="448.4" cy="618.5" r="1.85"/><circle cx="450.9" cy="621.1" r="1.85"/><circle cx="451.4" cy="632.1" r="1.85"/><circle cx="449.7" cy="635.3" r="1.85"/><circle cx="444.2" cy="634.2" r="1.85"/><circle cx="441.9" cy="637.0" r="1.85"/><circle cx="442.4" cy="644.0" r="1.85"/><circle cx="444.8" cy="646.7" r="1.85"/><circle cx="542.5" cy="559.7" r="1.85"/><circle cx="544.0" cy="563.0" r="1.85"/><circle cx="536.4" cy="557.8" r="1.85"/><circle cx="534.7" cy="560.9" r="1.85"/><circle cx="529.4" cy="567.6" r="1.85"/><circle cx="529.9" cy="571.2" r="1.85"/><circle cx="523.7" cy="565.5" r="1.85"/><circle cx="521.5" cy="568.3" r="1.85"/><circle cx="518.3" cy="574.7" r="1.85"/><circle cx="520.8" cy="577.3" r="1.85"/><circle cx="511.8" cy="572.0" r="1.85"/><circle cx="508.2" cy="571.6" r="1.85"/><circle cx="507.6" cy="581.0" r="1.85"/><circle cx="504.6" cy="582.9" r="1.85"/><circle cx="498.0" cy="578.1" r="1.85"/><circle cx="497.5" cy="581.7" r="1.85"/><circle cx="495.6" cy="588.4" r="1.85"/><circle cx="499.1" cy="588.9" r="1.85"/><circle cx="486.1" cy="590.7" r="1.85"/><circle cx="488.6" cy="593.2" r="1.85"/><circle cx="483.4" cy="601.5" r="1.85"/><circle cx="486.7" cy="603.0" r="1.85"/><circle cx="478.4" cy="604.7" r="1.85"/><circle cx="475.7" cy="602.3" r="1.85"/><circle cx="473.3" cy="614.1" r="1.85"/><circle cx="475.9" cy="616.6" r="1.85"/><circle cx="469.9" cy="616.7" r="1.85"/><circle cx="466.3" cy="616.1" r="1.85"/><circle cx="467.0" cy="629.2" r="1.85"/><circle cx="469.8" cy="631.5" r="1.85"/><circle cx="457.5" cy="629.5" r="1.85"/><circle cx="459.8" cy="632.2" r="1.85"/><circle cx="459.2" cy="642.9" r="1.85"/><circle cx="460.2" cy="646.3" r="1.85"/><circle cx="452.5" cy="645.0" r="1.85"/><circle cx="449.2" cy="643.8" r="1.85"/><circle cx="453.6" cy="656.4" r="1.85"/><circle cx="456.0" cy="659.1" r="1.85"/><circle cx="446.1" cy="655.0" r="1.85"/><circle cx="443.7" cy="657.7" r="1.85"/><circle cx="444.4" cy="666.2" r="1.85"/><circle cx="441.5" cy="668.3" r="1.85"/><circle cx="557.2" cy="566.1" r="1.85"/><circle cx="560.6" cy="564.9" r="1.85"/><circle cx="548.8" cy="563.8" r="1.85"/><circle cx="547.1" cy="566.9" r="1.85"/><circle cx="548.7" cy="571.1" r="1.85"/><circle cx="548.3" cy="574.7" r="1.85"/><circle cx="540.7" cy="572.8" r="1.85"/><circle cx="537.8" cy="575.0" r="1.85"/><circle cx="533.5" cy="579.4" r="1.85"/><circle cx="535.9" cy="582.1" r="1.85"/><circle cx="525.3" cy="587.1" r="1.85"/><circle cx="522.6" cy="589.5" r="1.85"/><circle cx="516.9" cy="583.5" r="1.85"/><circle cx="513.3" cy="583.6" r="1.85"/><circle cx="513.9" cy="592.2" r="1.85"/><circle cx="511.8" cy="595.1" r="1.85"/><circle cx="507.8" cy="591.3" r="1.85"/><circle cx="504.3" cy="592.0" r="1.85"/><circle cx="501.7" cy="599.9" r="1.85"/><circle cx="502.4" cy="603.5" r="1.85"/><circle cx="496.3" cy="600.2" r="1.85"/><circle cx="493.1" cy="598.7" r="1.85"/><circle cx="484.2" cy="612.0" r="1.85"/><circle cx="483.4" cy="615.5" r="1.85"/><circle cx="483.3" cy="625.8" r="1.85"/><circle cx="485.2" cy="628.9" r="1.85"/><circle cx="476.9" cy="628.5" r="1.85"/><circle cx="475.8" cy="631.9" r="1.85"/><circle cx="478.4" cy="643.5" r="1.85"/><circle cx="482.0" cy="644.2" r="1.85"/><circle cx="468.8" cy="641.1" r="1.85"/><circle cx="469.0" cy="644.7" r="1.85"/><circle cx="470.4" cy="654.8" r="1.85"/><circle cx="470.5" cy="658.4" r="1.85"/><circle cx="462.3" cy="656.2" r="1.85"/><circle cx="459.9" cy="658.9" r="1.85"/><circle cx="460.5" cy="669.8" r="1.85"/><circle cx="464.0" cy="670.5" r="1.85"/><circle cx="454.6" cy="670.4" r="1.85"/><circle cx="451.2" cy="669.3" r="1.85"/><circle cx="451.1" cy="680.0" r="1.85"/><circle cx="454.6" cy="681.1" r="1.85"/><circle cx="442.4" cy="681.4" r="1.85"/><circle cx="440.4" cy="678.4" r="1.85"/><circle cx="441.0" cy="686.8" r="1.85"/><circle cx="438.8" cy="689.6" r="1.85"/><circle cx="566.8" cy="574.1" r="1.85"/><circle cx="570.3" cy="574.6" r="1.85"/><circle cx="557.0" cy="571.1" r="1.85"/><circle cx="556.7" cy="574.7" r="1.85"/><circle cx="552.5" cy="584.7" r="1.85"/><circle cx="556.1" cy="584.4" r="1.85"/><circle cx="546.2" cy="582.1" r="1.85"/><circle cx="543.6" cy="579.6" r="1.85"/><circle cx="541.7" cy="591.3" r="1.85"/><circle cx="545.1" cy="592.4" r="1.85"/><circle cx="536.2" cy="589.6" r="1.85"/><circle cx="532.9" cy="588.3" r="1.85"/><circle cx="533.1" cy="595.3" r="1.85"/><circle cx="533.0" cy="598.9" r="1.85"/><circle cx="524.7" cy="595.4" r="1.85"/><circle cx="522.3" cy="598.0" r="1.85"/><circle cx="511.7" cy="604.5" r="1.85"/><circle cx="508.9" cy="602.1" r="1.85"/><circle cx="487.9" cy="639.4" r="1.85"/><circle cx="489.1" cy="642.8" r="1.85"/><circle cx="480.0" cy="655.2" r="1.85"/><circle cx="481.3" cy="658.5" r="1.85"/><circle cx="480.6" cy="666.0" r="1.85"/><circle cx="484.1" cy="665.6" r="1.85"/><circle cx="473.4" cy="666.8" r="1.85"/><circle cx="470.0" cy="668.2" r="1.85"/><circle cx="474.2" cy="675.5" r="1.85"/><circle cx="477.5" cy="676.9" r="1.85"/><circle cx="465.0" cy="680.5" r="1.85"/><circle cx="461.6" cy="681.6" r="1.85"/><circle cx="463.0" cy="691.3" r="1.85"/><circle cx="462.6" cy="694.9" r="1.85"/><circle cx="453.5" cy="693.6" r="1.85"/><circle cx="450.1" cy="692.5" r="1.85"/><circle cx="447.1" cy="701.7" r="1.85"/><circle cx="450.5" cy="700.4" r="1.85"/><circle cx="577.9" cy="584.3" r="1.85"/><circle cx="577.3" cy="587.8" r="1.85"/><circle cx="567.5" cy="584.8" r="1.85"/><circle cx="563.9" cy="584.7" r="1.85"/><circle cx="566.5" cy="591.8" r="1.85"/><circle cx="565.3" cy="595.2" r="1.85"/><circle cx="553.7" cy="596.7" r="1.85"/><circle cx="551.0" cy="594.3" r="1.85"/><circle cx="552.0" cy="602.8" r="1.85"/><circle cx="555.2" cy="601.2" r="1.85"/><circle cx="542.1" cy="600.4" r="1.85"/><circle cx="540.6" cy="597.1" r="1.85"/><circle cx="539.5" cy="604.5" r="1.85"/><circle cx="542.2" cy="606.9" r="1.85"/><circle cx="485.2" cy="676.0" r="1.85"/><circle cx="487.1" cy="679.0" r="1.85"/><circle cx="486.7" cy="687.8" r="1.85"/><circle cx="488.8" cy="690.8" r="1.85"/><circle cx="476.6" cy="690.5" r="1.85"/><circle cx="473.0" cy="690.6" r="1.85"/><circle cx="474.5" cy="699.1" r="1.85"/><circle cx="477.8" cy="700.5" r="1.85"/><circle cx="463.3" cy="702.3" r="1.85"/><circle cx="461.1" cy="699.5" r="1.85"/><circle cx="462.8" cy="704.3" r="1.85"/><circle cx="464.7" cy="707.3" r="1.85"/><circle cx="451.4" cy="707.1" r="1.85"/><circle cx="448.3" cy="709.0" r="1.85"/><circle cx="446.5" cy="713.9" r="1.85"/><circle cx="448.4" cy="716.9" r="1.85"/><circle cx="591.3" cy="587.7" r="1.85"/><circle cx="592.5" cy="591.1" r="1.85"/><circle cx="581.7" cy="594.8" r="1.85"/><circle cx="578.2" cy="594.1" r="1.85"/><circle cx="577.2" cy="600.6" r="1.85"/><circle cx="580.6" cy="599.3" r="1.85"/><circle cx="564.5" cy="598.5" r="1.85"/><circle cx="564.0" cy="602.1" r="1.85"/><circle cx="565.4" cy="606.6" r="1.85"/><circle cx="568.9" cy="607.3" r="1.85"/><circle cx="553.9" cy="607.0" r="1.85"/><circle cx="550.3" cy="606.3" r="1.85"/><circle cx="553.6" cy="611.7" r="1.85"/><circle cx="555.6" cy="614.7" r="1.85"/><circle cx="499.9" cy="695.7" r="1.85"/><circle cx="501.2" cy="699.1" r="1.85"/><circle cx="490.4" cy="697.8" r="1.85"/><circle cx="486.9" cy="698.8" r="1.85"/><circle cx="483.4" cy="705.5" r="1.85"/><circle cx="486.9" cy="706.2" r="1.85"/><circle cx="475.4" cy="707.7" r="1.85"/><circle cx="472.9" cy="705.1" r="1.85"/><circle cx="473.9" cy="712.9" r="1.85"/><circle cx="476.3" cy="715.7" r="1.85"/><circle cx="461.8" cy="714.1" r="1.85"/><circle cx="459.0" cy="716.4" r="1.85"/><circle cx="458.7" cy="721.5" r="1.85"/><circle cx="458.4" cy="725.1" r="1.85"/><circle cx="602.4" cy="594.6" r="1.85"/><circle cx="604.1" cy="597.7" r="1.85"/><circle cx="591.6" cy="594.0" r="1.85"/><circle cx="591.4" cy="597.6" r="1.85"/><circle cx="592.4" cy="603.7" r="1.85"/><circle cx="594.7" cy="606.4" r="1.85"/><circle cx="580.2" cy="609.5" r="1.85"/><circle cx="578.0" cy="606.7" r="1.85"/><circle cx="577.7" cy="612.4" r="1.85"/><circle cx="579.2" cy="615.7" r="1.85"/><circle cx="565.5" cy="614.0" r="1.85"/><circle cx="564.2" cy="617.4" r="1.85"/><circle cx="565.3" cy="625.4" r="1.85"/><circle cx="567.7" cy="622.6" r="1.85"/><circle cx="511.0" cy="703.0" r="1.85"/><circle cx="514.2" cy="701.3" r="1.85"/><circle cx="498.9" cy="700.8" r="1.85"/><circle cx="500.7" cy="704.0" r="1.85"/><circle cx="499.8" cy="708.4" r="1.85"/><circle cx="499.8" cy="712.0" r="1.85"/><circle cx="489.3" cy="710.3" r="1.85"/><circle cx="486.9" cy="713.0" r="1.85"/><circle cx="487.0" cy="717.3" r="1.85"/><circle cx="489.5" cy="719.9" r="1.85"/><circle cx="475.4" cy="719.2" r="1.85"/><circle cx="471.9" cy="718.5" r="1.85"/><circle cx="472.2" cy="727.1" r="1.85"/><circle cx="475.6" cy="728.1" r="1.85"/><circle cx="605.3" cy="603.1" r="1.85"/><circle cx="606.3" cy="606.6" r="1.85"/><circle cx="602.2" cy="611.7" r="1.85"/><circle cx="605.7" cy="610.8" r="1.85"/><circle cx="593.9" cy="614.7" r="1.85"/><circle cx="590.4" cy="615.4" r="1.85"/><circle cx="587.9" cy="621.7" r="1.85"/><circle cx="591.5" cy="621.4" r="1.85"/><circle cx="579.9" cy="623.2" r="1.85"/><circle cx="577.4" cy="620.7" r="1.85"/><circle cx="581.7" cy="629.1" r="1.85"/><circle cx="582.1" cy="632.7" r="1.85"/><circle cx="523.9" cy="704.8" r="1.85"/><circle cx="525.8" cy="707.8" r="1.85"/><circle cx="512.2" cy="706.7" r="1.85"/><circle cx="510.0" cy="709.6" r="1.85"/><circle cx="510.0" cy="715.8" r="1.85"/><circle cx="513.5" cy="716.6" r="1.85"/><circle cx="501.9" cy="718.0" r="1.85"/><circle cx="500.4" cy="721.2" r="1.85"/><circle cx="497.2" cy="725.3" r="1.85"/><circle cx="500.8" cy="725.6" r="1.85"/><circle cx="486.5" cy="725.9" r="1.85"/><circle cx="485.5" cy="729.4" r="1.85"/><circle cx="484.7" cy="731.8" r="1.85"/><circle cx="486.9" cy="734.7" r="1.85"/><circle cx="603.1" cy="616.8" r="1.85"/><circle cx="603.5" cy="620.4" r="1.85"/><circle cx="602.1" cy="631.9" r="1.85"/><circle cx="604.5" cy="629.2" r="1.85"/><circle cx="594.4" cy="630.3" r="1.85"/><circle cx="590.9" cy="630.6" r="1.85"/><circle cx="594.1" cy="640.3" r="1.85"/><circle cx="593.2" cy="643.8" r="1.85"/><circle cx="581.0" cy="638.1" r="1.85"/><circle cx="581.9" cy="641.6" r="1.85"/><circle cx="579.2" cy="653.1" r="1.85"/><circle cx="582.7" cy="652.2" r="1.85"/><circle cx="543.1" cy="707.4" r="1.85"/><circle cx="541.3" cy="710.5" r="1.85"/><circle cx="534.9" cy="705.6" r="1.85"/><circle cx="531.5" cy="706.8" r="1.85"/><circle cx="535.0" cy="713.6" r="1.85"/><circle cx="536.8" cy="716.7" r="1.85"/><circle cx="525.0" cy="715.1" r="1.85"/><circle cx="522.2" cy="717.4" r="1.85"/><circle cx="524.0" cy="723.5" r="1.85"/><circle cx="523.3" cy="727.1" r="1.85"/><circle cx="513.9" cy="723.2" r="1.85"/><circle cx="510.5" cy="724.4" r="1.85"/><circle cx="508.7" cy="729.2" r="1.85"/><circle cx="511.5" cy="731.6" r="1.85"/><circle cx="500.2" cy="731.0" r="1.85"/><circle cx="496.7" cy="730.4" r="1.85"/><circle cx="496.7" cy="738.0" r="1.85"/><circle cx="497.6" cy="741.5" r="1.85"/><circle cx="617.9" cy="638.0" r="1.85"/><circle cx="617.3" cy="641.6" r="1.85"/><circle cx="605.1" cy="640.1" r="1.85"/><circle cx="605.6" cy="643.7" r="1.85"/><circle cx="604.6" cy="648.8" r="1.85"/><circle cx="605.7" cy="652.3" r="1.85"/><circle cx="595.1" cy="652.1" r="1.85"/><circle cx="591.9" cy="653.8" r="1.85"/><circle cx="592.2" cy="661.6" r="1.85"/><circle cx="591.6" cy="665.1" r="1.85"/><circle cx="582.4" cy="662.7" r="1.85"/><circle cx="585.2" cy="665.0" r="1.85"/><circle cx="582.8" cy="672.4" r="1.85"/><circle cx="585.9" cy="674.4" r="1.85"/><circle cx="578.0" cy="675.4" r="1.85"/><circle cx="574.4" cy="676.0" r="1.85"/><circle cx="574.8" cy="687.2" r="1.85"/><circle cx="578.4" cy="687.0" r="1.85"/><circle cx="568.2" cy="684.5" r="1.85"/><circle cx="564.6" cy="684.0" r="1.85"/><circle cx="563.8" cy="695.7" r="1.85"/><circle cx="566.2" cy="698.3" r="1.85"/><circle cx="559.7" cy="695.3" r="1.85"/><circle cx="556.7" cy="697.2" r="1.85"/><circle cx="557.4" cy="706.6" r="1.85"/><circle cx="559.5" cy="709.6" r="1.85"/><circle cx="553.7" cy="709.0" r="1.85"/><circle cx="550.2" cy="710.0" r="1.85"/><circle cx="551.0" cy="716.0" r="1.85"/><circle cx="551.1" cy="719.6" r="1.85"/><circle cx="543.1" cy="715.0" r="1.85"/><circle cx="543.4" cy="718.6" r="1.85"/><circle cx="543.8" cy="726.8" r="1.85"/><circle cx="540.7" cy="728.4" r="1.85"/><circle cx="536.4" cy="727.5" r="1.85"/><circle cx="533.6" cy="725.3" r="1.85"/><circle cx="531.8" cy="733.9" r="1.85"/><circle cx="528.9" cy="735.9" r="1.85"/><circle cx="517.0" cy="740.6" r="1.85"/><circle cx="520.6" cy="739.9" r="1.85"/><circle cx="510.3" cy="739.0" r="1.85"/><circle cx="508.2" cy="741.9" r="1.85"/><circle cx="507.8" cy="752.9" r="1.85"/><circle cx="510.7" cy="750.9" r="1.85"/><circle cx="617.3" cy="646.9" r="1.85"/><circle cx="616.6" cy="650.4" r="1.85"/><circle cx="614.6" cy="660.3" r="1.85"/><circle cx="617.6" cy="662.3" r="1.85"/><circle cx="606.0" cy="663.7" r="1.85"/><circle cx="603.2" cy="661.4" r="1.85"/><circle cx="601.3" cy="671.7" r="1.85"/><circle cx="600.0" cy="675.0" r="1.85"/><circle cx="592.5" cy="672.5" r="1.85"/><circle cx="592.1" cy="676.1" r="1.85"/><circle cx="591.2" cy="684.0" r="1.85"/><circle cx="592.7" cy="687.2" r="1.85"/><circle cx="585.3" cy="683.8" r="1.85"/><circle cx="582.0" cy="685.3" r="1.85"/><circle cx="582.9" cy="694.8" r="1.85"/><circle cx="585.1" cy="697.6" r="1.85"/><circle cx="574.9" cy="697.6" r="1.85"/><circle cx="571.4" cy="696.8" r="1.85"/><circle cx="572.6" cy="707.1" r="1.85"/><circle cx="576.1" cy="706.1" r="1.85"/><circle cx="566.2" cy="708.3" r="1.85"/><circle cx="564.9" cy="711.7" r="1.85"/><circle cx="563.0" cy="721.1" r="1.85"/><circle cx="566.1" cy="719.3" r="1.85"/><circle cx="556.8" cy="718.5" r="1.85"/><circle cx="559.7" cy="720.7" r="1.85"/><circle cx="555.1" cy="730.4" r="1.85"/><circle cx="555.7" cy="733.9" r="1.85"/><circle cx="548.4" cy="724.1" r="1.85"/><circle cx="547.8" cy="727.7" r="1.85"/><circle cx="548.9" cy="738.4" r="1.85"/><circle cx="549.1" cy="742.0" r="1.85"/><circle cx="540.0" cy="735.9" r="1.85"/><circle cx="541.6" cy="739.1" r="1.85"/><circle cx="533.2" cy="748.0" r="1.85"/><circle cx="536.8" cy="747.6" r="1.85"/><circle cx="527.7" cy="743.7" r="1.85"/><circle cx="525.3" cy="741.1" r="1.85"/><circle cx="519.9" cy="752.6" r="1.85"/><circle cx="516.9" cy="750.7" r="1.85"/><circle cx="613.3" cy="671.5" r="1.85"/><circle cx="612.3" cy="675.0" r="1.85"/><circle cx="612.1" cy="681.2" r="1.85"/><circle cx="614.8" cy="683.6" r="1.85"/><circle cx="603.0" cy="681.0" r="1.85"/><circle cx="600.6" cy="683.7" r="1.85"/><circle cx="601.7" cy="693.3" r="1.85"/><circle cx="599.8" cy="696.4" r="1.85"/><circle cx="591.6" cy="695.2" r="1.85"/><circle cx="593.1" cy="698.4" r="1.85"/><circle cx="591.5" cy="704.5" r="1.85"/><circle cx="591.8" cy="708.1" r="1.85"/><circle cx="581.1" cy="706.5" r="1.85"/><circle cx="581.0" cy="710.1" r="1.85"/><circle cx="579.5" cy="718.6" r="1.85"/><circle cx="583.1" cy="718.7" r="1.85"/><circle cx="571.1" cy="715.7" r="1.85"/><circle cx="573.0" cy="718.7" r="1.85"/><circle cx="574.7" cy="727.9" r="1.85"/><circle cx="574.3" cy="731.4" r="1.85"/><circle cx="563.5" cy="730.1" r="1.85"/><circle cx="564.4" cy="733.6" r="1.85"/><circle cx="563.8" cy="739.2" r="1.85"/><circle cx="563.3" cy="742.8" r="1.85"/><circle cx="545.5" cy="748.6" r="1.85"/><circle cx="546.3" cy="752.1" r="1.85"/><circle cx="611.3" cy="692.3" r="1.85"/><circle cx="611.1" cy="695.9" r="1.85"/><circle cx="601.7" cy="705.4" r="1.85"/><circle cx="601.6" cy="709.0" r="1.85"/><circle cx="600.1" cy="714.7" r="1.85"/><circle cx="598.2" cy="717.7" r="1.85"/><circle cx="593.4" cy="716.0" r="1.85"/><circle cx="590.6" cy="718.3" r="1.85"/><circle cx="589.5" cy="728.4" r="1.85"/><circle cx="592.8" cy="727.2" r="1.85"/><circle cx="580.7" cy="740.4" r="1.85"/><circle cx="579.3" cy="743.7" r="1.85"/><circle cx="573.7" cy="742.4" r="1.85"/><circle cx="570.2" cy="741.8" r="1.85"/><circle cx="597.4" cy="726.3" r="1.85"/><circle cx="599.0" cy="729.6" r="1.85"/><circle cx="588.1" cy="735.8" r="1.85"/><circle cx="589.3" cy="739.1" r="1.85"/></g>
<g fill="#b31c2b"><circle cx="170.3" cy="630.8" r="3.8"/><circle cx="196.8" cy="626.5" r="3.8"/><circle cx="175.0" cy="651.4" r="3.8"/><circle cx="163.5" cy="657.6" r="3.8"/><circle cx="219.3" cy="651.7" r="3.8"/><circle cx="196.5" cy="665.5" r="3.8"/><circle cx="179.3" cy="670.4" r="3.8"/><circle cx="193.3" cy="672.0" r="3.8"/><circle cx="170.1" cy="675.7" r="3.8"/><circle cx="183.6" cy="677.5" r="3.8"/><circle cx="523.1" cy="615.4" r="3.8"/><circle cx="541.9" cy="626.5" r="3.8"/><circle cx="537.8" cy="637.1" r="3.8"/><circle cx="546.4" cy="637.5" r="3.8"/><circle cx="496.9" cy="647.7" r="3.8"/><circle cx="523.9" cy="647.7" r="3.8"/><circle cx="495.7" cy="660.0" r="3.8"/><circle cx="517.7" cy="671.9" r="3.8"/><circle cx="542.3" cy="678.4" r="3.8"/><circle cx="547.2" cy="696.8" r="3.8"/></g>
<g fill="#35459d"><circle cx="175.5" cy="623.4" r="3.8"/><circle cx="201.7" cy="618.2" r="3.8"/><circle cx="179.2" cy="633.0" r="3.8"/><circle cx="153.4" cy="651.4" r="3.8"/><circle cx="191.5" cy="643.1" r="3.8"/><circle cx="198.6" cy="645.5" r="3.8"/><circle cx="207.0" cy="655.1" r="3.8"/><circle cx="221.1" cy="664.6" r="3.8"/><circle cx="207.8" cy="683.7" r="3.8"/><circle cx="197.6" cy="696.0" r="3.8"/><circle cx="624.4" cy="552.5" r="3.8"/><circle cx="624.0" cy="607.7" r="3.8"/><circle cx="509.6" cy="637.1" r="3.8"/><circle cx="543.1" cy="658.8" r="3.8"/><circle cx="551.7" cy="668.6" r="3.8"/><circle cx="558.6" cy="692.3" r="3.8"/><circle cx="588.5" cy="700.5" r="3.8"/><circle cx="646.1" cy="702.9" r="3.8"/><circle cx="449.9" cy="732.0" r="3.8"/><circle cx="413.1" cy="777.0" r="3.8"/></g>
</svg></body></html>
